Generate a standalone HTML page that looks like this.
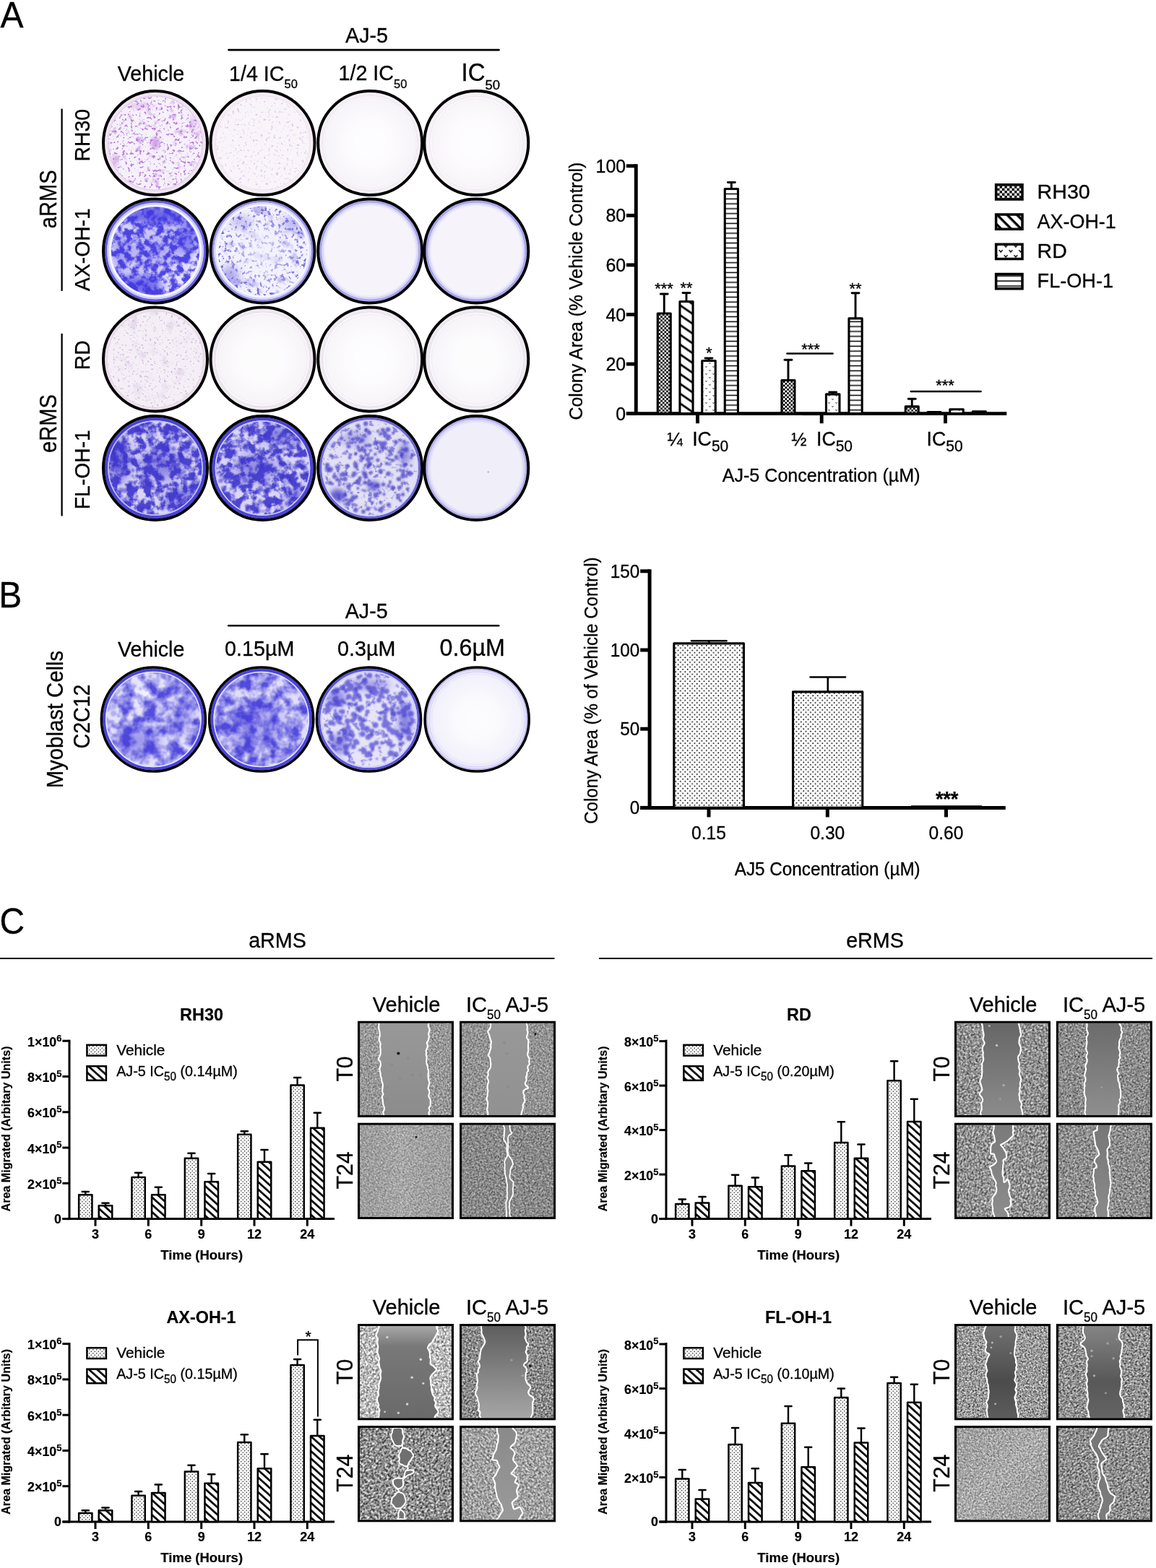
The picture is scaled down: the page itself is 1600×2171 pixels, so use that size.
<!DOCTYPE html>
<html lang="en">
<head>
<meta charset="utf-8">
<title>Figure: AJ-5 inhibits colony formation and migration of RMS cells</title>
<style>
html,body{margin:0;padding:0;background:#fff;}
body{width:1600px;height:2171px;overflow:hidden;}
svg{display:block;}
text{font-family:"Liberation Sans", Arial, Helvetica, sans-serif;fill:#000;}
</style>
</head>
<body>
<svg width="1600" height="2171" viewBox="0 0 1600 2171">
<defs>
<clipPath id="wc1"><circle cx="215.0" cy="198.0" r="70.30"/></clipPath>
<filter id="bl2_5" x="-0.5" y="-0.5" width="2" height="2"><feGaussianBlur stdDeviation="2.5"/></filter>
<filter id="wf1_0" x="0" y="0" width="1" height="1" color-interpolation-filters="sRGB"><feTurbulence type="fractalNoise" baseFrequency="0.26" numOctaves="2" seed="11" result="n"/><feColorMatrix in="n" type="matrix" values="0 0 0 0 0.698  0 0 0 0 0.400  0 0 0 0 0.839  9 0 0 0 -5.3"/><feComposite in2="SourceGraphic" operator="in"/></filter>
<filter id="wf1_1" x="0" y="0" width="1" height="1" color-interpolation-filters="sRGB"><feTurbulence type="fractalNoise" baseFrequency="0.09" numOctaves="3" seed="12" result="n"/><feColorMatrix in="n" type="matrix" values="0 0 0 0 0.733  0 0 0 0 0.498  0 0 0 0 0.863  5 0 0 0 -3.0"/><feComposite in2="SourceGraphic" operator="in"/></filter>
<clipPath id="wc2"><circle cx="363.5" cy="198.0" r="70.30"/></clipPath>
<filter id="wf2_0" x="0" y="0" width="1" height="1" color-interpolation-filters="sRGB"><feTurbulence type="fractalNoise" baseFrequency="0.28" numOctaves="2" seed="12" result="n"/><feColorMatrix in="n" type="matrix" values="0 0 0 0 0.784  0 0 0 0 0.635  0 0 0 0 0.863  8 0 0 0 -5.05"/><feComposite in2="SourceGraphic" operator="in"/></filter>
<clipPath id="wc3"><circle cx="512.2" cy="198.0" r="70.30"/></clipPath>
<filter id="bl12_0" x="-0.5" y="-0.5" width="2" height="2"><feGaussianBlur stdDeviation="12"/></filter>
<clipPath id="wc4"><circle cx="659.3" cy="198.0" r="70.30"/></clipPath>
<clipPath id="wc5"><circle cx="215.0" cy="347.5" r="70.30"/></clipPath>
<filter id="bl7_0" x="-0.5" y="-0.5" width="2" height="2"><feGaussianBlur stdDeviation="7"/></filter>
<filter id="bl9_0" x="-0.5" y="-0.5" width="2" height="2"><feGaussianBlur stdDeviation="9"/></filter>
<filter id="wf5_0" x="0" y="0" width="1" height="1" color-interpolation-filters="sRGB"><feTurbulence type="fractalNoise" baseFrequency="0.11" numOctaves="4" seed="21" result="n"/><feColorMatrix in="n" type="matrix" values="0 0 0 0 0.247  0 0 0 0 0.212  0 0 0 0 0.878  4.0 0 0 0 -1.5"/><feComposite in2="SourceGraphic" operator="in"/></filter>
<clipPath id="wc6"><circle cx="363.5" cy="347.5" r="70.30"/></clipPath>
<filter id="bl6_0" x="-0.5" y="-0.5" width="2" height="2"><feGaussianBlur stdDeviation="6"/></filter>
<filter id="wf6_0" x="0" y="0" width="1" height="1" color-interpolation-filters="sRGB"><feTurbulence type="fractalNoise" baseFrequency="0.2" numOctaves="3" seed="22" result="n"/><feColorMatrix in="n" type="matrix" values="0 0 0 0 0.349  0 0 0 0 0.314  0 0 0 0 0.855  7 0 0 0 -3.9"/><feComposite in2="SourceGraphic" operator="in"/></filter>
<radialGradient id="wgr6_0" gradientUnits="userSpaceOnUse" cx="363.5" cy="347.5" r="62"><stop offset="0" stop-color="#000" stop-opacity="0.3"/><stop offset="0.5" stop-color="#000" stop-opacity="0.55"/><stop offset="1" stop-color="#000" stop-opacity="1"/></radialGradient>
<filter id="wf6_1" x="0" y="0" width="1" height="1" color-interpolation-filters="sRGB"><feTurbulence type="fractalNoise" baseFrequency="0.06" numOctaves="3" seed="23" result="n"/><feColorMatrix in="n" type="matrix" values="0 0 0 0 0.353  0 0 0 0 0.322  0 0 0 0 0.863  4 0 0 0 -2.3"/><feComposite in2="SourceGraphic" operator="in"/></filter>
<radialGradient id="wgr6_1" gradientUnits="userSpaceOnUse" cx="363.5" cy="347.5" r="62"><stop offset="0" stop-color="#000" stop-opacity="0.2"/><stop offset="0.6" stop-color="#000" stop-opacity="0.6"/><stop offset="1" stop-color="#000" stop-opacity="1"/></radialGradient>
<clipPath id="wc7"><circle cx="512.2" cy="347.5" r="70.30"/></clipPath>
<filter id="bl2_0" x="-0.5" y="-0.5" width="2" height="2"><feGaussianBlur stdDeviation="2"/></filter>
<clipPath id="wc8"><circle cx="659.3" cy="347.5" r="70.30"/></clipPath>
<clipPath id="wc9"><circle cx="215.0" cy="497.5" r="70.30"/></clipPath>
<filter id="wf9_0" x="0" y="0" width="1" height="1" color-interpolation-filters="sRGB"><feTurbulence type="fractalNoise" baseFrequency="0.3" numOctaves="2" seed="31" result="n"/><feColorMatrix in="n" type="matrix" values="0 0 0 0 0.710  0 0 0 0 0.549  0 0 0 0 0.784  8 0 0 0 -4.95"/><feComposite in2="SourceGraphic" operator="in"/></filter>
<filter id="wf9_1" x="0" y="0" width="1" height="1" color-interpolation-filters="sRGB"><feTurbulence type="fractalNoise" baseFrequency="0.05" numOctaves="3" seed="32" result="n"/><feColorMatrix in="n" type="matrix" values="0 0 0 0 0.784  0 0 0 0 0.651  0 0 0 0 0.831  4 0 0 0 -2.3"/><feComposite in2="SourceGraphic" operator="in"/></filter>
<clipPath id="wc10"><circle cx="363.5" cy="497.5" r="70.30"/></clipPath>
<clipPath id="wc11"><circle cx="512.2" cy="497.5" r="70.30"/></clipPath>
<clipPath id="wc12"><circle cx="659.3" cy="497.5" r="70.30"/></clipPath>
<clipPath id="wc13"><circle cx="215.0" cy="648.0" r="70.30"/></clipPath>
<filter id="bl8_0" x="-0.5" y="-0.5" width="2" height="2"><feGaussianBlur stdDeviation="8"/></filter>
<filter id="wf13_0" x="0" y="0" width="1" height="1" color-interpolation-filters="sRGB"><feTurbulence type="fractalNoise" baseFrequency="0.085" numOctaves="4" seed="41" result="n"/><feColorMatrix in="n" type="matrix" values="0 0 0 0 0.235  0 0 0 0 0.204  0 0 0 0 0.800  4.5 0 0 0 -1.7"/><feComposite in2="SourceGraphic" operator="in"/></filter>
<filter id="bl0_8" x="-0.5" y="-0.5" width="2" height="2"><feGaussianBlur stdDeviation="0.8"/></filter>
<clipPath id="wc14"><circle cx="363.5" cy="648.0" r="70.30"/></clipPath>
<filter id="wf14_0" x="0" y="0" width="1" height="1" color-interpolation-filters="sRGB"><feTurbulence type="fractalNoise" baseFrequency="0.09" numOctaves="4" seed="42" result="n"/><feColorMatrix in="n" type="matrix" values="0 0 0 0 0.243  0 0 0 0 0.212  0 0 0 0 0.800  4.5 0 0 0 -1.75"/><feComposite in2="SourceGraphic" operator="in"/></filter>
<clipPath id="wc15"><circle cx="512.2" cy="648.0" r="70.30"/></clipPath>
<filter id="bl3_5" x="-0.5" y="-0.5" width="2" height="2"><feGaussianBlur stdDeviation="3.5"/></filter>
<filter id="bl3_0" x="-0.5" y="-0.5" width="2" height="2"><feGaussianBlur stdDeviation="3"/></filter>
<filter id="bl4_0" x="-0.5" y="-0.5" width="2" height="2"><feGaussianBlur stdDeviation="4"/></filter>
<filter id="bl5_0" x="-0.5" y="-0.5" width="2" height="2"><feGaussianBlur stdDeviation="5"/></filter>
<filter id="wf15_0" x="0" y="0" width="1" height="1" color-interpolation-filters="sRGB"><feTurbulence type="fractalNoise" baseFrequency="0.12" numOctaves="3" seed="43" result="n"/><feColorMatrix in="n" type="matrix" values="0 0 0 0 0.314  0 0 0 0 0.282  0 0 0 0 0.800  6 0 0 0 -3.45"/><feComposite in2="SourceGraphic" operator="in"/></filter>
<clipPath id="wc16"><circle cx="659.3" cy="648.0" r="70.30"/></clipPath>
<pattern id="pChk" width="5.3" height="5.3" patternUnits="userSpaceOnUse"><rect width="5.3" height="5.3" fill="#fff"/><rect x="0" y="0" width="2.65" height="2.65" fill="#000"/><rect x="2.65" y="2.65" width="2.65" height="2.65" fill="#000"/></pattern>
<pattern id="pDiag" width="20" height="11.2" patternUnits="userSpaceOnUse" patternTransform="rotate(34.5)"><rect width="20" height="11.2" fill="#fff"/><rect x="0" y="4.2" width="20" height="2.8" fill="#000"/></pattern>
<pattern id="pRD" width="10" height="10" patternUnits="userSpaceOnUse"><rect width="10" height="10" fill="#fff"/><path d="M1.4,2.2 l1.1,1.4 l1.1,-1.4 M6.4,7.2 l1.1,1.4 l1.1,-1.4" stroke="#111" stroke-width="0.9" fill="none"/></pattern>
<pattern id="pHor" width="6.8" height="6.8" patternUnits="userSpaceOnUse"><rect width="6.8" height="6.8" fill="#fff"/><rect x="0" y="2.6" width="6.8" height="1.5" fill="#000"/></pattern>
<pattern id="pChkL" width="6.8" height="6.8" patternUnits="userSpaceOnUse" patternTransform="translate(1380.2 257.3)"><rect width="6.8" height="6.8" fill="#fff"/><rect x="3.4" y="0" width="3.4" height="3.4" fill="#000"/><rect x="0" y="3.4" width="3.4" height="3.4" fill="#000"/></pattern>
<pattern id="pDiagL" width="20" height="9.7" patternUnits="userSpaceOnUse" patternTransform="translate(1381 296) rotate(45)"><rect width="20" height="9.7" fill="#fff"/><rect x="0" y="0" width="20" height="3.3" fill="#000"/></pattern>
<pattern id="pRDL" width="13.75" height="14" patternUnits="userSpaceOnUse" patternTransform="translate(1378 338)"><rect width="13.75" height="14" fill="#fff"/><path d="M5.2,8.5 l2,2.6 l2,-2.6 M12.1,1.5 l2,2.6 l2,-2.6 M-1.65,1.5 l2,2.6 l2,-2.6" stroke="#000" stroke-width="1.3" fill="none" stroke-linecap="round"/></pattern>
<pattern id="pHorL" width="7" height="7" patternUnits="userSpaceOnUse" patternTransform="translate(0 383.3)"><rect width="7" height="7" fill="#fff"/><rect x="0" y="5" width="7" height="1.6" fill="#000"/></pattern>
<pattern id="pDotB" width="6.55" height="6.6" patternUnits="userSpaceOnUse" patternTransform="translate(0.3 1.2)"><rect width="6.55" height="6.6" fill="#fff"/><circle cx="1.6" cy="1.6" r="0.95" fill="#000"/><circle cx="4.9" cy="4.9" r="0.95" fill="#000"/></pattern>
<pattern id="pDotC" width="5" height="5" patternUnits="userSpaceOnUse"><rect width="5" height="5" fill="#fff"/><circle cx="1.25" cy="1.25" r="0.8" fill="#222"/><circle cx="3.75" cy="3.75" r="0.8" fill="#222"/></pattern>
<pattern id="pDiagC" width="20" height="7.6" patternUnits="userSpaceOnUse" patternTransform="rotate(42)"><rect width="20" height="7.6" fill="#fff"/><rect x="0" y="3" width="20" height="2.7" fill="#000"/></pattern>
<clipPath id="wc17"><circle cx="212.4" cy="996.0" r="70.50"/></clipPath>
<filter id="wf17_0" x="0" y="0" width="1" height="1" color-interpolation-filters="sRGB"><feTurbulence type="fractalNoise" baseFrequency="0.06" numOctaves="3" seed="51" result="n"/><feColorMatrix in="n" type="matrix" values="0 0 0 0 0.251  0 0 0 0 0.220  0 0 0 0 0.847  2.7 0 0 0 -0.93"/><feComposite in2="SourceGraphic" operator="in"/></filter>
<filter id="bl1_3" x="-0.5" y="-0.5" width="2" height="2"><feGaussianBlur stdDeviation="1.3"/></filter>
<clipPath id="wc18"><circle cx="361.7" cy="996.0" r="70.50"/></clipPath>
<filter id="wf18_0" x="0" y="0" width="1" height="1" color-interpolation-filters="sRGB"><feTurbulence type="fractalNoise" baseFrequency="0.065" numOctaves="3" seed="52" result="n"/><feColorMatrix in="n" type="matrix" values="0 0 0 0 0.251  0 0 0 0 0.220  0 0 0 0 0.847  2.7 0 0 0 -0.87"/><feComposite in2="SourceGraphic" operator="in"/></filter>
<clipPath id="wc19"><circle cx="510.5" cy="996.0" r="70.50"/></clipPath>
<filter id="wf19_0" x="0" y="0" width="1" height="1" color-interpolation-filters="sRGB"><feTurbulence type="fractalNoise" baseFrequency="0.1" numOctaves="3" seed="53" result="n"/><feColorMatrix in="n" type="matrix" values="0 0 0 0 0.314  0 0 0 0 0.282  0 0 0 0 0.816  6 0 0 0 -3.35"/><feComposite in2="SourceGraphic" operator="in"/></filter>
<filter id="bl0_9" x="-0.5" y="-0.5" width="2" height="2"><feGaussianBlur stdDeviation="0.9"/></filter>
<clipPath id="wc20"><circle cx="660.2" cy="996.0" r="70.50"/></clipPath>
<filter id="mf1" x="0" y="0" width="1" height="1" color-interpolation-filters="sRGB"><feTurbulence type="fractalNoise" baseFrequency="0.432 0.522" numOctaves="3" seed="101"/><feColorMatrix type="matrix" values="0.85 0 0 0 0.170  0.85 0 0 0 0.170  0.85 0 0 0 0.170  0 0 0 0 1"/></filter>
<clipPath id="mc1"><rect x="498.0" y="1416.7" width="127.0" height="127.3"/></clipPath>
<linearGradient id="mg1" gradientUnits="userSpaceOnUse" x1="0" y1="1416.7" x2="0" y2="1544.0"><stop offset="0" stop-color="#989898"/><stop offset="1" stop-color="#8c8c8c"/></linearGradient>
<filter id="mf2" x="0" y="0" width="1" height="1" color-interpolation-filters="sRGB"><feTurbulence type="fractalNoise" baseFrequency="0.432 0.522" numOctaves="3" seed="102"/><feColorMatrix type="matrix" values="0.85 0 0 0 0.150  0.85 0 0 0 0.150  0.85 0 0 0 0.150  0 0 0 0 1"/></filter>
<clipPath id="mc2"><rect x="639.1" y="1416.7" width="127.0" height="127.3"/></clipPath>
<linearGradient id="mg2" gradientUnits="userSpaceOnUse" x1="0" y1="1416.7" x2="0" y2="1544.0"><stop offset="0" stop-color="#989898"/><stop offset="1" stop-color="#919191"/></linearGradient>
<filter id="mf3" x="0" y="0" width="1" height="1" color-interpolation-filters="sRGB"><feTurbulence type="fractalNoise" baseFrequency="0.432 0.522" numOctaves="3" seed="103"/><feColorMatrix type="matrix" values="0.684 0 0 0 0.293  0.684 0 0 0 0.293  0.684 0 0 0 0.293  0 0 0 0 1"/></filter>
<clipPath id="mc3"><rect x="498.0" y="1557.7" width="127.0" height="127.3"/></clipPath>
<linearGradient id="ms3" x1="0" y1="0" x2="1" y2="0"><stop offset="0" stop-color="#000" stop-opacity="0.03"/><stop offset="0.45" stop-color="#fff" stop-opacity="0.06"/><stop offset="1" stop-color="#000" stop-opacity="0.02"/></linearGradient>
<linearGradient id="mg3" gradientUnits="userSpaceOnUse" x1="0" y1="1557.7" x2="0" y2="1685.0"><stop offset="0" stop-color="#8e8e8e"/><stop offset="1" stop-color="#888888"/></linearGradient>
<filter id="mf4" x="0" y="0" width="1" height="1" color-interpolation-filters="sRGB"><feTurbulence type="fractalNoise" baseFrequency="0.396 0.478" numOctaves="3" seed="104"/><feColorMatrix type="matrix" values="0.885 0 0 0 0.093  0.885 0 0 0 0.093  0.885 0 0 0 0.093  0 0 0 0 1"/></filter>
<clipPath id="mc4"><rect x="639.1" y="1557.7" width="127.0" height="127.3"/></clipPath>
<linearGradient id="mg4" gradientUnits="userSpaceOnUse" x1="0" y1="1557.7" x2="0" y2="1685.0"><stop offset="0" stop-color="#8a8a8a"/><stop offset="1" stop-color="#8a8a8a"/></linearGradient>
<filter id="mf5" x="0" y="0" width="1" height="1" color-interpolation-filters="sRGB"><feTurbulence type="fractalNoise" baseFrequency="0.360 0.435" numOctaves="3" seed="105"/><feColorMatrix type="matrix" values="1.18 0 0 0 -0.025  1.18 0 0 0 -0.025  1.18 0 0 0 -0.025  0 0 0 0 1"/></filter>
<clipPath id="mc5"><rect x="1324.0" y="1416.7" width="127.0" height="127.3"/></clipPath>
<linearGradient id="mg5" gradientUnits="userSpaceOnUse" x1="0" y1="1416.7" x2="0" y2="1544.0"><stop offset="0" stop-color="#666666"/><stop offset="1" stop-color="#8b8b8b"/></linearGradient>
<filter id="mf6" x="0" y="0" width="1" height="1" color-interpolation-filters="sRGB"><feTurbulence type="fractalNoise" baseFrequency="0.396 0.478" numOctaves="3" seed="106"/><feColorMatrix type="matrix" values="1.086 0 0 0 0.002  1.086 0 0 0 0.002  1.086 0 0 0 0.002  0 0 0 0 1"/></filter>
<clipPath id="mc6"><rect x="1464.9" y="1416.7" width="127.0" height="127.3"/></clipPath>
<linearGradient id="mg6" gradientUnits="userSpaceOnUse" x1="0" y1="1416.7" x2="0" y2="1544.0"><stop offset="0" stop-color="#6c6c6c"/><stop offset="1" stop-color="#8e8e8e"/></linearGradient>
<filter id="mf7" x="0" y="0" width="1" height="1" color-interpolation-filters="sRGB"><feTurbulence type="fractalNoise" baseFrequency="0.336 0.406" numOctaves="3" seed="107"/><feColorMatrix type="matrix" values="1.239 0 0 0 -0.050  1.239 0 0 0 -0.050  1.239 0 0 0 -0.050  0 0 0 0 1"/></filter>
<clipPath id="mc7"><rect x="1324.0" y="1557.7" width="127.0" height="127.3"/></clipPath>
<linearGradient id="mg7" gradientUnits="userSpaceOnUse" x1="0" y1="1557.7" x2="0" y2="1685.0"><stop offset="0" stop-color="#7a7a7a"/><stop offset="1" stop-color="#8c8c8c"/></linearGradient>
<filter id="mf8" x="0" y="0" width="1" height="1" color-interpolation-filters="sRGB"><feTurbulence type="fractalNoise" baseFrequency="0.384 0.464" numOctaves="3" seed="108"/><feColorMatrix type="matrix" values="1.086 0 0 0 0.012  1.086 0 0 0 0.012  1.086 0 0 0 0.012  0 0 0 0 1"/></filter>
<clipPath id="mc8"><rect x="1464.9" y="1557.7" width="127.0" height="127.3"/></clipPath>
<linearGradient id="mg8" gradientUnits="userSpaceOnUse" x1="0" y1="1557.7" x2="0" y2="1685.0"><stop offset="0" stop-color="#777777"/><stop offset="1" stop-color="#8a8a8a"/></linearGradient>
<filter id="mf9" x="0" y="0" width="1" height="1" color-interpolation-filters="sRGB"><feTurbulence type="fractalNoise" baseFrequency="0.348 0.420" numOctaves="3" seed="109"/><feColorMatrix type="matrix" values="1.416 0 0 0 0.022  1.416 0 0 0 0.022  1.416 0 0 0 0.022  0 0 0 0 1"/></filter>
<clipPath id="mc9"><rect x="498.0" y="1836.0" width="127.0" height="127.3"/></clipPath>
<linearGradient id="mg9" gradientUnits="userSpaceOnUse" x1="0" y1="1836.0" x2="0" y2="1963.3"><stop offset="0" stop-color="#a8a8a8"/><stop offset="0.22" stop-color="#787878"/><stop offset="1" stop-color="#6a6a6a"/></linearGradient>
<filter id="mf10" x="0" y="0" width="1" height="1" color-interpolation-filters="sRGB"><feTurbulence type="fractalNoise" baseFrequency="0.384 0.464" numOctaves="3" seed="110"/><feColorMatrix type="matrix" values="1.298 0 0 0 -0.109  1.298 0 0 0 -0.109  1.298 0 0 0 -0.109  0 0 0 0 1"/></filter>
<clipPath id="mc10"><rect x="639.1" y="1836.0" width="127.0" height="127.3"/></clipPath>
<linearGradient id="mg10" gradientUnits="userSpaceOnUse" x1="0" y1="1836.0" x2="0" y2="1963.3"><stop offset="0" stop-color="#5e5e5e"/><stop offset="1" stop-color="#a6a6a6"/></linearGradient>
<filter id="mf11" x="0" y="0" width="1" height="1" color-interpolation-filters="sRGB"><feTurbulence type="fractalNoise" baseFrequency="0.312 0.377" numOctaves="3" seed="111"/><feColorMatrix type="matrix" values="1.534 0 0 0 -0.207  1.534 0 0 0 -0.207  1.534 0 0 0 -0.207  0 0 0 0 1"/></filter>
<clipPath id="mc11"><rect x="498.0" y="1977.0" width="127.0" height="127.3"/></clipPath>
<linearGradient id="mg11" gradientUnits="userSpaceOnUse" x1="0" y1="1977.0" x2="0" y2="2104.3"><stop offset="0" stop-color="#6c6c6c"/><stop offset="1" stop-color="#767676"/></linearGradient>
<filter id="mf12" x="0" y="0" width="1" height="1" color-interpolation-filters="sRGB"><feTurbulence type="fractalNoise" baseFrequency="0.348 0.420" numOctaves="3" seed="112"/><feColorMatrix type="matrix" values="1.086 0 0 0 0.087  1.086 0 0 0 0.087  1.086 0 0 0 0.087  0 0 0 0 1"/></filter>
<clipPath id="mc12"><rect x="639.1" y="1977.0" width="127.0" height="127.3"/></clipPath>
<linearGradient id="mg12" gradientUnits="userSpaceOnUse" x1="0" y1="1977.0" x2="0" y2="2104.3"><stop offset="0" stop-color="#8a8a8a"/><stop offset="1" stop-color="#9a9a9a"/></linearGradient>
<filter id="mf13" x="0" y="0" width="1" height="1" color-interpolation-filters="sRGB"><feTurbulence type="fractalNoise" baseFrequency="0.456 0.551" numOctaves="3" seed="113"/><feColorMatrix type="matrix" values="1.534 0 0 0 -0.167  1.534 0 0 0 -0.167  1.534 0 0 0 -0.167  0 0 0 0 1"/></filter>
<clipPath id="mc13"><rect x="1324.0" y="1836.0" width="127.0" height="127.3"/></clipPath>
<linearGradient id="mg13" gradientUnits="userSpaceOnUse" x1="0" y1="1836.0" x2="0" y2="1963.3"><stop offset="0" stop-color="#707070"/><stop offset="0.6" stop-color="#4c4c4c"/><stop offset="1" stop-color="#5c5c5c"/></linearGradient>
<filter id="mf14" x="0" y="0" width="1" height="1" color-interpolation-filters="sRGB"><feTurbulence type="fractalNoise" baseFrequency="0.384 0.464" numOctaves="3" seed="114"/><feColorMatrix type="matrix" values="1.416 0 0 0 -0.143  1.416 0 0 0 -0.143  1.416 0 0 0 -0.143  0 0 0 0 1"/></filter>
<clipPath id="mc14"><rect x="1464.9" y="1836.0" width="127.0" height="127.3"/></clipPath>
<linearGradient id="mg14" gradientUnits="userSpaceOnUse" x1="0" y1="1836.0" x2="0" y2="1963.3"><stop offset="0" stop-color="#848484"/><stop offset="0.6" stop-color="#585858"/><stop offset="1" stop-color="#646464"/></linearGradient>
<filter id="mf15" x="0" y="0" width="1" height="1" color-interpolation-filters="sRGB"><feTurbulence type="fractalNoise" baseFrequency="0.432 0.522" numOctaves="3" seed="115"/><feColorMatrix type="matrix" values="1.003 0 0 0 0.149  1.003 0 0 0 0.149  1.003 0 0 0 0.149  0 0 0 0 1"/></filter>
<clipPath id="mc15"><rect x="1324.0" y="1977.0" width="127.0" height="127.3"/></clipPath>
<linearGradient id="ms15" x1="0" y1="0" x2="1" y2="1"><stop offset="0" stop-color="#000" stop-opacity="0.04"/><stop offset="0.5" stop-color="#fff" stop-opacity="0.06"/><stop offset="1" stop-color="#000" stop-opacity="0.03"/></linearGradient>
<linearGradient id="mg15" gradientUnits="userSpaceOnUse" x1="0" y1="1977.0" x2="0" y2="2104.3"><stop offset="0" stop-color="#8e8e8e"/><stop offset="1" stop-color="#888888"/></linearGradient>
<filter id="mf16" x="0" y="0" width="1" height="1" color-interpolation-filters="sRGB"><feTurbulence type="fractalNoise" baseFrequency="0.360 0.435" numOctaves="3" seed="116"/><feColorMatrix type="matrix" values="1.298 0 0 0 -0.094  1.298 0 0 0 -0.094  1.298 0 0 0 -0.094  0 0 0 0 1"/></filter>
<clipPath id="mc16"><rect x="1464.9" y="1977.0" width="127.0" height="127.3"/></clipPath>
<linearGradient id="mg16" gradientUnits="userSpaceOnUse" x1="0" y1="1977.0" x2="0" y2="2104.3"><stop offset="0" stop-color="#767676"/><stop offset="1" stop-color="#7c7c7c"/></linearGradient>
</defs>
<text font-size="48" transform="translate(0.5 37.5) scale(1 1.04)" stroke="#000" stroke-width="0.3">A</text>
<text font-size="28.7" text-anchor="middle" transform="translate(507.5 58.8) scale(1 1.04)" stroke="#000" stroke-width="0.3">AJ-5</text>
<line x1="316.4" y1="69.1" x2="690.6" y2="69.1" stroke="#000" stroke-width="2.6" stroke-linecap="round"/>
<text font-size="28.7" text-anchor="middle" transform="translate(209 111.6) scale(1 1.04)" stroke="#000" stroke-width="0.3">Vehicle</text>
<text font-size="28.7" transform="translate(317 111.6) scale(1 1.04)" stroke="#000" stroke-width="0.3">1/4 IC<tspan font-size="16.5" dy="10">50</tspan></text>
<text font-size="28.7" transform="translate(468.5 111.2) scale(1 1.04)" stroke="#000" stroke-width="0.3">1/2 IC<tspan font-size="16.5" dy="10">50</tspan></text>
<text font-size="33" transform="translate(638.5 112.2) scale(1 1.04)" stroke="#000" stroke-width="0.3">IC<tspan font-size="18.5" dy="11">50</tspan></text>
<text font-size="29.1" text-anchor="middle" transform="translate(78.2 275.8) rotate(-90) scale(1 1.11)" stroke="#000" stroke-width="0.3">aRMS</text>
<text font-size="29.1" text-anchor="middle" transform="translate(78.2 586.5) rotate(-90) scale(1 1.11)" stroke="#000" stroke-width="0.3">eRMS</text>
<line x1="85.6" y1="150.6" x2="85.6" y2="402.9" stroke="#000" stroke-width="2.3"/>
<line x1="85.6" y1="461.8" x2="85.6" y2="714.4" stroke="#000" stroke-width="2.3"/>
<text font-size="28.3" text-anchor="middle" transform="translate(124 187.3) rotate(-90) scale(1 1.07)" stroke="#000" stroke-width="0.3">RH30</text>
<text font-size="28.3" text-anchor="middle" transform="translate(124 345.6) rotate(-90) scale(1 1.07)" stroke="#000" stroke-width="0.3">AX-OH-1</text>
<text font-size="28.3" text-anchor="middle" transform="translate(124 491.8) rotate(-90) scale(1 1.07)" stroke="#000" stroke-width="0.3">RD</text>
<text font-size="28.3" text-anchor="middle" transform="translate(124 650.2) rotate(-90) scale(1 1.07)" stroke="#000" stroke-width="0.3">FL-OH-1</text>
<g clip-path="url(#wc1)">
<circle cx="215.0" cy="198.0" r="70.30" fill="#f5f1fa"/>
<ellipse cx="215.0" cy="198.0" rx="6" ry="9" fill="#b86fd8" opacity="0.6" filter="url(#bl2_5)"/>
<ellipse cx="159.0" cy="223.0" rx="4" ry="10" fill="#b86fd8" opacity="0.4" filter="url(#bl2_5)"/>
<ellipse cx="267.0" cy="173.0" rx="4" ry="14" fill="#b86fd8" opacity="0.3" filter="url(#bl2_5)"/>
<ellipse cx="195.0" cy="146.0" rx="14" ry="4" fill="#b86fd8" opacity="0.3" filter="url(#bl2_5)"/>
<circle cx="215.0" cy="198.0" r="65.00" fill="#000" opacity="0.8" filter="url(#wf1_0)"/>
<circle cx="215.0" cy="198.0" r="65.00" fill="#000" opacity="0.5" filter="url(#wf1_1)"/>
<circle cx="215.0" cy="198.0" r="68.05" fill="none" stroke="#efe3f1" stroke-width="4.5" opacity="1"/>
<circle cx="215.0" cy="198.0" r="65.20" fill="none" stroke="#dcbfe4" stroke-width="1.2" opacity="0.8"/>
</g>
<circle cx="215.0" cy="198.0" r="72.00" fill="none" stroke="#000" stroke-width="4.0"/>
<g clip-path="url(#wc2)">
<circle cx="363.5" cy="198.0" r="70.30" fill="#f8f4f9"/>
<circle cx="363.5" cy="198.0" r="65.00" fill="#000" opacity="0.5" filter="url(#wf2_0)"/>
<circle cx="363.5" cy="198.0" r="68.05" fill="none" stroke="#f5ecf4" stroke-width="4.5" opacity="1"/>
<circle cx="363.5" cy="198.0" r="65.30" fill="none" stroke="#ead8ea" stroke-width="1" opacity="0.8"/>
</g>
<circle cx="363.5" cy="198.0" r="72.00" fill="none" stroke="#000" stroke-width="4.0"/>
<g clip-path="url(#wc3)">
<circle cx="512.2" cy="198.0" r="70.30" fill="#f8f5fa"/>
<ellipse cx="512.2" cy="198.0" rx="44" ry="44" fill="#ffffff" opacity="0.7" filter="url(#bl12_0)"/>
<circle cx="512.2" cy="198.0" r="68.30" fill="none" stroke="#f6f0f6" stroke-width="4" opacity="1"/>
<circle cx="512.2" cy="198.0" r="65.80" fill="none" stroke="#eadfec" stroke-width="1" opacity="0.9"/>
<circle cx="512.2" cy="198.0" r="62.80" fill="none" stroke="#f1eaf3" stroke-width="1" opacity="0.8"/>
</g>
<circle cx="512.2" cy="198.0" r="72.00" fill="none" stroke="#000" stroke-width="4.0"/>
<g clip-path="url(#wc4)">
<circle cx="659.3" cy="198.0" r="70.30" fill="#f9f6fa"/>
<ellipse cx="659.3" cy="198.0" rx="44" ry="44" fill="#ffffff" opacity="0.7" filter="url(#bl12_0)"/>
<circle cx="659.3" cy="198.0" r="67.80" fill="none" stroke="#f7f2f7" stroke-width="5" opacity="1"/>
<circle cx="659.3" cy="198.0" r="64.80" fill="none" stroke="#ede3ee" stroke-width="1" opacity="0.9"/>
<circle cx="659.3" cy="198.0" r="60.80" fill="none" stroke="#f2ecf4" stroke-width="1" opacity="0.8"/>
</g>
<circle cx="659.3" cy="198.0" r="72.00" fill="none" stroke="#000" stroke-width="4.0"/>
<g clip-path="url(#wc5)">
<circle cx="215.0" cy="347.5" r="70.30" fill="#e6e3fd"/>
<ellipse cx="215.0" cy="297.5" rx="45" ry="14" fill="#4038e0" opacity="0.75" filter="url(#bl7_0)"/>
<ellipse cx="190.0" cy="395.5" rx="35" ry="14" fill="#4038e0" opacity="0.75" filter="url(#bl7_0)"/>
<ellipse cx="260.0" cy="327.5" rx="14" ry="25" fill="#4038e0" opacity="0.6" filter="url(#bl7_0)"/>
<ellipse cx="167.0" cy="347.5" rx="10" ry="30" fill="#4840e0" opacity="0.45" filter="url(#bl7_0)"/>
<ellipse cx="215.0" cy="347.5" rx="40" ry="25" fill="#4840e0" opacity="0.3" filter="url(#bl9_0)"/>
<circle cx="215.0" cy="347.5" r="61.00" fill="#000" opacity="0.9" filter="url(#wf5_0)"/>
<circle cx="215.0" cy="347.5" r="68.55" fill="none" stroke="#625ce4" stroke-width="3.5" opacity="1"/>
<circle cx="215.0" cy="347.5" r="65.55" fill="none" stroke="#cfccfa" stroke-width="2.5" opacity="1"/>
<circle cx="215.0" cy="347.5" r="62.80" fill="none" stroke="#f5f4ff" stroke-width="3" opacity="1"/>
</g>
<circle cx="215.0" cy="347.5" r="72.00" fill="none" stroke="#000" stroke-width="4.0"/>
<g clip-path="url(#wc6)">
<circle cx="363.5" cy="347.5" r="70.30" fill="#f3f1fc"/>
<ellipse cx="318.5" cy="385.5" rx="12" ry="18" fill="#5a52dc" opacity="0.45" filter="url(#bl6_0)"/>
<ellipse cx="405.5" cy="309.5" rx="16" ry="10" fill="#5a52dc" opacity="0.35" filter="url(#bl6_0)"/>
<ellipse cx="333.5" cy="307.5" rx="16" ry="8" fill="#5a52dc" opacity="0.3" filter="url(#bl6_0)"/>
<circle cx="363.5" cy="347.5" r="62.00" fill="url(#wgr6_0)" opacity="0.85" filter="url(#wf6_0)"/>
<circle cx="363.5" cy="347.5" r="62.00" fill="url(#wgr6_1)" opacity="0.5" filter="url(#wf6_1)"/>
<circle cx="363.5" cy="347.5" r="68.80" fill="none" stroke="#8f8ae8" stroke-width="3" opacity="1"/>
<circle cx="363.5" cy="347.5" r="66.05" fill="none" stroke="#d9d6f8" stroke-width="2.5" opacity="1"/>
<circle cx="363.5" cy="347.5" r="63.55" fill="none" stroke="#f6f5ff" stroke-width="2.5" opacity="1"/>
</g>
<circle cx="363.5" cy="347.5" r="72.00" fill="none" stroke="#000" stroke-width="4.0"/>
<g clip-path="url(#wc7)">
<circle cx="512.2" cy="347.5" r="70.30" fill="#f6f4fa"/>
<ellipse cx="512.2" cy="416.5" rx="50" ry="4" fill="#8e89e6" opacity="0.7" filter="url(#bl2_0)"/>
<ellipse cx="512.2" cy="278.5" rx="40" ry="3" fill="#9a96ea" opacity="0.6" filter="url(#bl2_0)"/>
<circle cx="512.2" cy="347.5" r="68.55" fill="none" stroke="#a9a5ec" stroke-width="3.5" opacity="1"/>
<circle cx="512.2" cy="347.5" r="65.55" fill="none" stroke="#d9d6f7" stroke-width="2.5" opacity="1"/>
<circle cx="512.2" cy="347.5" r="63.30" fill="none" stroke="#ecebfb" stroke-width="2" opacity="1"/>
</g>
<circle cx="512.2" cy="347.5" r="72.00" fill="none" stroke="#000" stroke-width="4.0"/>
<g clip-path="url(#wc8)">
<circle cx="659.3" cy="347.5" r="70.30" fill="#f6f4fa"/>
<ellipse cx="659.3" cy="416.5" rx="50" ry="4" fill="#8e89e6" opacity="0.7" filter="url(#bl2_0)"/>
<ellipse cx="659.3" cy="278.5" rx="40" ry="3" fill="#9a96ea" opacity="0.6" filter="url(#bl2_0)"/>
<circle cx="659.3" cy="347.5" r="68.55" fill="none" stroke="#a9a5ec" stroke-width="3.5" opacity="1"/>
<circle cx="659.3" cy="347.5" r="65.55" fill="none" stroke="#d9d6f7" stroke-width="2.5" opacity="1"/>
<circle cx="659.3" cy="347.5" r="63.30" fill="none" stroke="#ecebfb" stroke-width="2" opacity="1"/>
</g>
<circle cx="659.3" cy="347.5" r="72.00" fill="none" stroke="#000" stroke-width="4.0"/>
<g clip-path="url(#wc9)">
<circle cx="215.0" cy="497.5" r="70.30" fill="#f4eff6"/>
<circle cx="215.0" cy="497.5" r="67.00" fill="#000" opacity="0.5" filter="url(#wf9_0)"/>
<circle cx="215.0" cy="497.5" r="67.00" fill="#000" opacity="0.3" filter="url(#wf9_1)"/>
<circle cx="215.0" cy="497.5" r="68.80" fill="none" stroke="#eadfea" stroke-width="3" opacity="1"/>
<circle cx="215.0" cy="497.5" r="66.80" fill="none" stroke="#dccbdf" stroke-width="1" opacity="0.8"/>
</g>
<circle cx="215.0" cy="497.5" r="72.00" fill="none" stroke="#000" stroke-width="4.0"/>
<g clip-path="url(#wc10)">
<circle cx="363.5" cy="497.5" r="70.30" fill="#f8f5f9"/>
<ellipse cx="363.5" cy="497.5" rx="44" ry="44" fill="#ffffff" opacity="0.7" filter="url(#bl12_0)"/>
<circle cx="363.5" cy="497.5" r="68.30" fill="none" stroke="#efe7f0" stroke-width="4" opacity="1"/>
<circle cx="363.5" cy="497.5" r="65.80" fill="none" stroke="#dfd5e3" stroke-width="1" opacity="0.9"/>
<circle cx="363.5" cy="497.5" r="61.80" fill="none" stroke="#ede7f0" stroke-width="1" opacity="0.8"/>
</g>
<circle cx="363.5" cy="497.5" r="72.00" fill="none" stroke="#000" stroke-width="4.0"/>
<g clip-path="url(#wc11)">
<circle cx="512.2" cy="497.5" r="70.30" fill="#f9f6fa"/>
<ellipse cx="512.2" cy="497.5" rx="44" ry="44" fill="#ffffff" opacity="0.7" filter="url(#bl12_0)"/>
<circle cx="512.2" cy="497.5" r="68.30" fill="none" stroke="#f0eaf2" stroke-width="4" opacity="1"/>
<circle cx="512.2" cy="497.5" r="65.80" fill="none" stroke="#e0d8e6" stroke-width="1" opacity="0.9"/>
<circle cx="512.2" cy="497.5" r="61.80" fill="none" stroke="#eee8f2" stroke-width="1" opacity="0.8"/>
</g>
<circle cx="512.2" cy="497.5" r="72.00" fill="none" stroke="#000" stroke-width="4.0"/>
<g clip-path="url(#wc12)">
<circle cx="659.3" cy="497.5" r="70.30" fill="#f7f5f9"/>
<ellipse cx="659.3" cy="497.5" rx="44" ry="44" fill="#ffffff" opacity="0.7" filter="url(#bl12_0)"/>
<circle cx="659.3" cy="497.5" r="68.30" fill="none" stroke="#efe9f0" stroke-width="4" opacity="1"/>
<circle cx="659.3" cy="497.5" r="65.80" fill="none" stroke="#dfd8e4" stroke-width="1" opacity="0.9"/>
<circle cx="659.3" cy="497.5" r="61.80" fill="none" stroke="#ede8f0" stroke-width="1" opacity="0.8"/>
</g>
<circle cx="659.3" cy="497.5" r="72.00" fill="none" stroke="#000" stroke-width="4.0"/>
<g clip-path="url(#wc13)">
<circle cx="215.0" cy="648.0" r="70.30" fill="#d9d6f6"/>
<ellipse cx="165.0" cy="638.0" rx="14" ry="30" fill="#3d35cc" opacity="0.6" filter="url(#bl7_0)"/>
<ellipse cx="225.0" cy="643.0" rx="30" ry="20" fill="#3d35cc" opacity="0.5" filter="url(#bl8_0)"/>
<ellipse cx="250.0" cy="688.0" rx="22" ry="14" fill="#3d35cc" opacity="0.5" filter="url(#bl7_0)"/>
<circle cx="215.0" cy="648.0" r="65.00" fill="#000" opacity="0.9" filter="url(#wf13_0)"/>
<g fill="#3a32c8" opacity="0.55" filter="url(#bl0_8)"><circle cx="193.2" cy="668.2" r="1.3"/><circle cx="255.4" cy="623.7" r="2.4"/><circle cx="178.7" cy="635.4" r="2.6"/><circle cx="166.4" cy="622.7" r="2.3"/><circle cx="236.9" cy="613.2" r="1.3"/><circle cx="246.0" cy="690.6" r="1.3"/><circle cx="187.5" cy="607.7" r="1.2"/><circle cx="217.4" cy="637.0" r="3.2"/><circle cx="230.6" cy="623.8" r="2.6"/><circle cx="212.6" cy="626.2" r="2.4"/><circle cx="257.2" cy="689.6" r="2.4"/><circle cx="229.2" cy="646.2" r="1.5"/><circle cx="179.7" cy="614.9" r="1.3"/><circle cx="258.4" cy="611.0" r="1.4"/><circle cx="245.8" cy="688.2" r="1.6"/><circle cx="192.4" cy="610.8" r="1.6"/><circle cx="237.6" cy="651.1" r="1.7"/><circle cx="209.5" cy="607.9" r="2.6"/><circle cx="158.6" cy="633.6" r="2.3"/><circle cx="204.9" cy="668.8" r="1.2"/><circle cx="270.8" cy="662.2" r="3.2"/><circle cx="215.2" cy="627.5" r="2.3"/><circle cx="255.6" cy="690.0" r="2.3"/><circle cx="214.9" cy="599.6" r="1.7"/><circle cx="250.2" cy="598.5" r="1.4"/><circle cx="166.0" cy="668.4" r="2.4"/><circle cx="179.8" cy="670.2" r="3.6"/><circle cx="210.4" cy="676.1" r="2.4"/><circle cx="205.1" cy="705.9" r="1.5"/><circle cx="249.0" cy="630.6" r="3.2"/><circle cx="215.4" cy="595.0" r="1.3"/><circle cx="220.6" cy="657.4" r="1.3"/><circle cx="207.1" cy="634.4" r="1.3"/><circle cx="192.7" cy="638.0" r="1.5"/><circle cx="221.9" cy="698.5" r="1.2"/><circle cx="263.0" cy="647.3" r="2.5"/><circle cx="173.6" cy="633.8" r="3.6"/><circle cx="259.1" cy="613.2" r="1.2"/><circle cx="164.1" cy="615.9" r="2.3"/><circle cx="165.2" cy="643.9" r="1.3"/><circle cx="207.3" cy="593.7" r="1.2"/><circle cx="167.3" cy="645.1" r="1.5"/><circle cx="190.2" cy="593.9" r="3.3"/><circle cx="206.4" cy="670.6" r="3.1"/><circle cx="171.9" cy="611.5" r="3.2"/><circle cx="206.3" cy="694.7" r="1.4"/><circle cx="230.2" cy="598.7" r="1.3"/><circle cx="167.2" cy="648.0" r="1.3"/><circle cx="232.6" cy="686.9" r="1.2"/><circle cx="154.9" cy="649.8" r="3.0"/><circle cx="268.1" cy="666.9" r="2.5"/><circle cx="212.4" cy="638.2" r="2.7"/><circle cx="233.7" cy="700.3" r="1.5"/><circle cx="197.8" cy="667.1" r="3.2"/><circle cx="225.2" cy="705.0" r="1.9"/><circle cx="244.9" cy="688.3" r="1.9"/><circle cx="270.5" cy="657.5" r="1.4"/><circle cx="268.7" cy="656.1" r="2.6"/><circle cx="194.8" cy="665.6" r="1.9"/><circle cx="170.9" cy="621.4" r="1.8"/><circle cx="167.1" cy="626.2" r="1.3"/><circle cx="233.2" cy="687.1" r="2.7"/><circle cx="233.7" cy="593.8" r="1.7"/><circle cx="210.4" cy="628.3" r="1.6"/><circle cx="266.7" cy="671.1" r="3.8"/><circle cx="189.0" cy="600.9" r="1.6"/><circle cx="220.0" cy="630.6" r="1.6"/><circle cx="180.9" cy="694.4" r="1.3"/><circle cx="225.0" cy="663.6" r="3.0"/><circle cx="191.5" cy="702.0" r="1.5"/><circle cx="229.2" cy="624.6" r="3.3"/><circle cx="272.3" cy="638.4" r="2.4"/><circle cx="262.2" cy="612.1" r="3.6"/><circle cx="205.9" cy="704.4" r="2.8"/><circle cx="200.6" cy="669.0" r="3.3"/><circle cx="170.5" cy="655.8" r="3.2"/><circle cx="184.0" cy="651.2" r="2.4"/><circle cx="183.3" cy="641.5" r="2.4"/><circle cx="240.3" cy="630.6" r="2.9"/><circle cx="216.0" cy="603.2" r="1.3"/><circle cx="198.2" cy="619.7" r="1.4"/><circle cx="234.5" cy="622.3" r="1.2"/><circle cx="249.9" cy="597.0" r="1.4"/><circle cx="177.2" cy="673.7" r="2.7"/><circle cx="264.8" cy="651.8" r="1.3"/><circle cx="251.0" cy="630.8" r="3.5"/><circle cx="167.3" cy="663.5" r="1.2"/><circle cx="224.9" cy="680.3" r="1.6"/><circle cx="233.7" cy="683.6" r="1.2"/><circle cx="159.4" cy="623.4" r="3.1"/><circle cx="170.7" cy="605.4" r="2.6"/><circle cx="187.1" cy="616.7" r="1.2"/><circle cx="261.0" cy="611.5" r="2.9"/><circle cx="194.1" cy="596.2" r="3.6"/><circle cx="268.6" cy="638.5" r="1.2"/><circle cx="259.2" cy="632.8" r="1.7"/><circle cx="185.7" cy="661.5" r="1.2"/><circle cx="179.1" cy="615.0" r="1.2"/><circle cx="267.1" cy="620.5" r="3.1"/><circle cx="177.6" cy="639.0" r="1.8"/><circle cx="173.3" cy="692.0" r="3.4"/><circle cx="250.9" cy="621.4" r="1.9"/><circle cx="202.2" cy="617.2" r="1.3"/><circle cx="247.0" cy="645.0" r="1.4"/><circle cx="196.6" cy="648.9" r="1.9"/><circle cx="245.2" cy="695.7" r="1.2"/><circle cx="225.3" cy="617.6" r="2.8"/><circle cx="234.0" cy="590.4" r="1.3"/><circle cx="238.7" cy="645.7" r="1.5"/><circle cx="258.5" cy="650.0" r="1.2"/><circle cx="158.7" cy="627.5" r="2.8"/><circle cx="203.8" cy="633.1" r="3.7"/><circle cx="175.1" cy="693.4" r="1.3"/><circle cx="196.7" cy="705.5" r="2.7"/><circle cx="231.3" cy="686.6" r="2.0"/><circle cx="214.7" cy="677.0" r="1.2"/><circle cx="175.1" cy="645.6" r="1.5"/><circle cx="178.8" cy="652.7" r="1.6"/><circle cx="217.1" cy="624.2" r="1.2"/><circle cx="183.5" cy="658.9" r="1.8"/><circle cx="253.4" cy="601.5" r="2.9"/><circle cx="241.1" cy="633.8" r="1.5"/><circle cx="240.5" cy="669.5" r="1.4"/><circle cx="217.3" cy="683.7" r="3.5"/><circle cx="156.5" cy="642.4" r="1.9"/><circle cx="214.6" cy="597.3" r="2.1"/><circle cx="257.5" cy="626.1" r="1.9"/><circle cx="217.5" cy="667.3" r="1.7"/><circle cx="196.4" cy="660.5" r="3.6"/><circle cx="255.9" cy="652.6" r="1.4"/><circle cx="167.4" cy="678.9" r="3.6"/><circle cx="173.0" cy="679.1" r="3.3"/><circle cx="205.2" cy="685.8" r="1.7"/><circle cx="232.7" cy="618.8" r="3.3"/><circle cx="235.2" cy="695.0" r="2.2"/><circle cx="249.7" cy="655.5" r="3.0"/><circle cx="202.9" cy="656.6" r="1.8"/><circle cx="173.9" cy="637.2" r="1.7"/><circle cx="262.0" cy="628.8" r="1.7"/><circle cx="163.6" cy="665.8" r="1.3"/><circle cx="161.3" cy="654.1" r="1.2"/><circle cx="223.4" cy="659.2" r="2.4"/><circle cx="230.6" cy="600.0" r="2.2"/><circle cx="251.7" cy="655.4" r="1.8"/><circle cx="198.9" cy="674.5" r="1.6"/><circle cx="217.3" cy="664.2" r="2.0"/><circle cx="255.3" cy="654.2" r="1.6"/><circle cx="234.3" cy="599.6" r="1.7"/><circle cx="267.3" cy="650.0" r="2.6"/><circle cx="175.0" cy="601.0" r="1.8"/><circle cx="179.0" cy="675.6" r="1.2"/><circle cx="199.2" cy="631.9" r="2.4"/><circle cx="175.9" cy="614.8" r="1.3"/><circle cx="200.9" cy="589.5" r="3.7"/><circle cx="217.4" cy="623.5" r="2.8"/><circle cx="242.1" cy="703.1" r="1.2"/><circle cx="254.1" cy="652.1" r="1.2"/><circle cx="272.1" cy="630.4" r="1.4"/><circle cx="240.0" cy="621.2" r="2.9"/><circle cx="257.6" cy="690.4" r="1.7"/></g>
<circle cx="215.0" cy="648.0" r="68.05" fill="none" stroke="#4a43d8" stroke-width="4.5" opacity="1"/>
<circle cx="215.0" cy="648.0" r="65.05" fill="none" stroke="#c4c1f6" stroke-width="1.5" opacity="1"/>
</g>
<circle cx="215.0" cy="648.0" r="72.00" fill="none" stroke="#000" stroke-width="4.0"/>
<g clip-path="url(#wc14)">
<circle cx="363.5" cy="648.0" r="70.30" fill="#d9d6f6"/>
<ellipse cx="393.5" cy="603.0" rx="30" ry="12" fill="#3d35cc" opacity="0.55" filter="url(#bl7_0)"/>
<ellipse cx="353.5" cy="648.0" rx="30" ry="18" fill="#3d35cc" opacity="0.45" filter="url(#bl8_0)"/>
<ellipse cx="411.5" cy="688.0" rx="14" ry="14" fill="#3d35cc" opacity="0.5" filter="url(#bl7_0)"/>
<circle cx="363.5" cy="648.0" r="65.00" fill="#000" opacity="0.9" filter="url(#wf14_0)"/>
<g fill="#3a32c8" opacity="0.55" filter="url(#bl0_8)"><circle cx="357.2" cy="640.5" r="1.4"/><circle cx="372.4" cy="700.5" r="2.4"/><circle cx="377.7" cy="636.5" r="1.7"/><circle cx="392.0" cy="653.4" r="1.9"/><circle cx="390.8" cy="652.6" r="2.3"/><circle cx="335.5" cy="639.9" r="2.1"/><circle cx="365.3" cy="643.3" r="2.9"/><circle cx="351.9" cy="613.7" r="1.3"/><circle cx="398.2" cy="638.4" r="1.2"/><circle cx="410.4" cy="680.6" r="2.1"/><circle cx="382.1" cy="598.4" r="1.9"/><circle cx="401.1" cy="641.6" r="2.0"/><circle cx="386.8" cy="605.2" r="3.1"/><circle cx="317.5" cy="623.7" r="1.2"/><circle cx="368.1" cy="681.0" r="1.2"/><circle cx="365.6" cy="667.6" r="1.4"/><circle cx="338.9" cy="619.8" r="1.6"/><circle cx="371.6" cy="679.0" r="3.5"/><circle cx="334.6" cy="609.2" r="1.3"/><circle cx="360.2" cy="623.2" r="1.6"/><circle cx="413.0" cy="644.7" r="2.0"/><circle cx="340.8" cy="595.8" r="2.8"/><circle cx="365.0" cy="659.0" r="1.5"/><circle cx="360.3" cy="676.3" r="3.5"/><circle cx="388.3" cy="623.6" r="2.3"/><circle cx="316.5" cy="684.2" r="1.7"/><circle cx="360.6" cy="678.7" r="2.0"/><circle cx="359.7" cy="695.3" r="3.3"/><circle cx="340.1" cy="665.2" r="3.8"/><circle cx="344.8" cy="646.9" r="1.2"/><circle cx="401.4" cy="679.2" r="2.8"/><circle cx="349.7" cy="655.3" r="1.6"/><circle cx="408.6" cy="646.9" r="3.7"/><circle cx="367.8" cy="642.9" r="2.6"/><circle cx="344.6" cy="606.7" r="1.4"/><circle cx="350.4" cy="632.0" r="1.7"/><circle cx="305.5" cy="665.4" r="3.2"/><circle cx="359.8" cy="691.7" r="1.3"/><circle cx="412.8" cy="617.8" r="1.4"/><circle cx="332.4" cy="610.9" r="1.3"/><circle cx="367.1" cy="602.6" r="2.8"/><circle cx="362.0" cy="647.7" r="1.5"/><circle cx="422.8" cy="655.3" r="3.2"/><circle cx="380.4" cy="618.0" r="1.2"/><circle cx="407.0" cy="606.2" r="1.2"/><circle cx="347.3" cy="649.4" r="2.7"/><circle cx="365.7" cy="625.9" r="1.8"/><circle cx="333.1" cy="638.2" r="3.2"/><circle cx="338.2" cy="661.3" r="2.0"/><circle cx="360.0" cy="620.4" r="1.5"/><circle cx="413.5" cy="646.5" r="1.7"/><circle cx="342.1" cy="645.6" r="1.3"/><circle cx="338.5" cy="688.5" r="1.3"/><circle cx="366.6" cy="664.2" r="2.2"/><circle cx="371.3" cy="706.5" r="3.1"/><circle cx="390.8" cy="661.0" r="2.4"/><circle cx="368.5" cy="670.0" r="3.5"/><circle cx="325.1" cy="629.6" r="2.8"/><circle cx="373.1" cy="622.7" r="1.2"/><circle cx="326.9" cy="664.9" r="1.8"/><circle cx="356.8" cy="597.6" r="3.7"/><circle cx="395.6" cy="670.8" r="1.5"/><circle cx="383.5" cy="624.4" r="1.3"/><circle cx="325.3" cy="660.8" r="1.4"/><circle cx="363.6" cy="707.6" r="1.7"/><circle cx="393.1" cy="612.8" r="1.2"/><circle cx="420.2" cy="647.7" r="3.6"/><circle cx="414.6" cy="622.5" r="1.3"/><circle cx="335.0" cy="650.6" r="1.6"/><circle cx="399.1" cy="661.7" r="3.7"/><circle cx="358.3" cy="702.6" r="1.7"/><circle cx="309.8" cy="676.2" r="3.8"/><circle cx="314.1" cy="630.0" r="1.3"/><circle cx="345.8" cy="706.4" r="2.1"/><circle cx="311.8" cy="633.9" r="1.2"/><circle cx="325.5" cy="625.8" r="3.1"/><circle cx="396.9" cy="698.8" r="1.2"/><circle cx="382.3" cy="692.0" r="2.4"/><circle cx="365.5" cy="669.4" r="3.3"/><circle cx="364.6" cy="695.8" r="2.2"/><circle cx="322.1" cy="671.0" r="1.9"/><circle cx="389.2" cy="636.8" r="2.5"/><circle cx="366.3" cy="686.9" r="2.4"/><circle cx="352.7" cy="681.2" r="2.7"/><circle cx="401.2" cy="666.5" r="3.8"/><circle cx="380.3" cy="647.6" r="1.3"/><circle cx="357.8" cy="707.6" r="3.2"/><circle cx="390.9" cy="622.1" r="1.3"/><circle cx="389.6" cy="603.0" r="2.2"/><circle cx="413.5" cy="644.0" r="1.2"/><circle cx="377.4" cy="617.0" r="2.3"/><circle cx="384.6" cy="639.5" r="1.2"/><circle cx="399.6" cy="676.7" r="1.4"/><circle cx="322.0" cy="615.9" r="1.3"/><circle cx="342.3" cy="624.2" r="1.8"/><circle cx="410.7" cy="616.0" r="1.2"/><circle cx="334.6" cy="663.1" r="1.2"/><circle cx="370.0" cy="598.9" r="1.4"/><circle cx="361.0" cy="602.0" r="1.7"/><circle cx="380.5" cy="649.0" r="3.2"/><circle cx="401.2" cy="622.0" r="3.0"/><circle cx="342.8" cy="636.2" r="1.2"/><circle cx="342.5" cy="702.9" r="2.8"/><circle cx="401.2" cy="602.9" r="1.3"/><circle cx="363.6" cy="667.9" r="2.8"/><circle cx="393.0" cy="621.7" r="2.2"/><circle cx="397.2" cy="697.4" r="3.1"/><circle cx="418.7" cy="639.7" r="3.2"/><circle cx="416.1" cy="656.3" r="1.5"/><circle cx="413.9" cy="624.6" r="3.1"/><circle cx="375.4" cy="618.3" r="2.8"/><circle cx="408.6" cy="684.4" r="3.1"/><circle cx="373.2" cy="703.2" r="1.8"/><circle cx="344.7" cy="700.0" r="1.3"/><circle cx="390.4" cy="652.0" r="1.5"/><circle cx="403.6" cy="602.1" r="1.4"/><circle cx="338.8" cy="617.6" r="3.7"/><circle cx="305.0" cy="634.4" r="1.2"/><circle cx="389.2" cy="643.2" r="3.6"/><circle cx="361.5" cy="668.3" r="1.7"/><circle cx="358.8" cy="613.6" r="2.2"/><circle cx="325.1" cy="645.2" r="2.1"/><circle cx="362.0" cy="700.2" r="1.2"/><circle cx="404.1" cy="627.5" r="2.5"/><circle cx="360.9" cy="597.3" r="1.5"/><circle cx="409.2" cy="669.5" r="1.5"/><circle cx="341.2" cy="700.6" r="2.5"/><circle cx="352.8" cy="680.8" r="1.6"/><circle cx="335.9" cy="667.4" r="1.2"/><circle cx="310.7" cy="676.8" r="2.4"/><circle cx="403.4" cy="620.1" r="1.4"/><circle cx="362.3" cy="647.6" r="1.4"/><circle cx="320.8" cy="668.1" r="2.3"/><circle cx="323.3" cy="657.0" r="1.3"/><circle cx="305.5" cy="657.9" r="2.8"/><circle cx="372.2" cy="663.8" r="1.9"/><circle cx="339.4" cy="621.4" r="2.9"/><circle cx="363.9" cy="597.1" r="1.3"/><circle cx="366.5" cy="657.2" r="1.4"/><circle cx="307.0" cy="656.9" r="1.2"/><circle cx="321.2" cy="673.2" r="1.3"/><circle cx="349.1" cy="606.9" r="1.4"/><circle cx="360.9" cy="644.2" r="2.7"/><circle cx="366.0" cy="627.9" r="1.7"/><circle cx="390.7" cy="702.2" r="1.9"/><circle cx="392.9" cy="657.6" r="3.1"/><circle cx="310.1" cy="663.0" r="2.4"/><circle cx="411.2" cy="644.4" r="3.5"/><circle cx="401.2" cy="617.4" r="2.5"/><circle cx="307.0" cy="646.3" r="2.0"/><circle cx="406.2" cy="615.8" r="1.8"/><circle cx="361.7" cy="678.8" r="2.3"/><circle cx="367.9" cy="603.5" r="2.2"/><circle cx="360.8" cy="665.1" r="1.4"/><circle cx="358.7" cy="682.7" r="2.0"/><circle cx="382.7" cy="670.8" r="2.5"/><circle cx="359.3" cy="632.9" r="1.6"/><circle cx="324.9" cy="637.4" r="1.3"/><circle cx="311.8" cy="676.4" r="2.1"/><circle cx="344.2" cy="593.9" r="2.7"/></g>
<circle cx="363.5" cy="648.0" r="68.05" fill="none" stroke="#4a43d8" stroke-width="4.5" opacity="1"/>
<circle cx="363.5" cy="648.0" r="65.05" fill="none" stroke="#cfccf8" stroke-width="1.5" opacity="1"/>
</g>
<circle cx="363.5" cy="648.0" r="72.00" fill="none" stroke="#000" stroke-width="4.0"/>
<g clip-path="url(#wc15)">
<circle cx="512.2" cy="648.0" r="70.30" fill="#e2e0f4"/>
<ellipse cx="467.20000000000005" cy="686.0" rx="11" ry="9" fill="#4038c8" opacity="0.8" filter="url(#bl3_5)"/>
<ellipse cx="517.2" cy="673.0" rx="8" ry="7" fill="#4038c8" opacity="0.75" filter="url(#bl3_0)"/>
<ellipse cx="560.2" cy="628.0" rx="8" ry="16" fill="#4840cc" opacity="0.5" filter="url(#bl4_0)"/>
<ellipse cx="492.20000000000005" cy="608.0" rx="20" ry="10" fill="#4840cc" opacity="0.3" filter="url(#bl5_0)"/>
<circle cx="512.2" cy="648.0" r="66.00" fill="#000" opacity="0.6" filter="url(#wf15_0)"/>
<g fill="#453dc8" opacity="0.75" filter="url(#bl0_8)"><circle cx="562.4" cy="660.4" r="1.3"/><circle cx="462.8" cy="659.9" r="3.0"/><circle cx="470.3" cy="660.7" r="1.0"/><circle cx="477.7" cy="663.6" r="3.1"/><circle cx="460.6" cy="632.3" r="2.0"/><circle cx="537.8" cy="699.1" r="3.0"/><circle cx="498.6" cy="661.5" r="2.2"/><circle cx="457.7" cy="649.4" r="2.4"/><circle cx="465.2" cy="646.0" r="1.8"/><circle cx="526.8" cy="652.6" r="3.4"/><circle cx="530.1" cy="619.4" r="3.3"/><circle cx="492.5" cy="645.2" r="3.2"/><circle cx="460.5" cy="617.7" r="2.6"/><circle cx="552.8" cy="675.3" r="3.0"/><circle cx="540.9" cy="626.8" r="2.2"/><circle cx="504.5" cy="623.9" r="3.1"/><circle cx="514.9" cy="634.4" r="2.4"/><circle cx="494.1" cy="667.7" r="2.4"/><circle cx="557.4" cy="639.1" r="1.2"/><circle cx="457.5" cy="649.7" r="3.5"/><circle cx="509.5" cy="635.7" r="3.5"/><circle cx="497.8" cy="637.3" r="1.2"/><circle cx="555.5" cy="674.1" r="1.3"/><circle cx="519.4" cy="628.9" r="2.2"/><circle cx="500.9" cy="652.2" r="1.0"/><circle cx="562.6" cy="613.1" r="1.2"/><circle cx="506.2" cy="586.6" r="3.3"/><circle cx="539.2" cy="624.2" r="2.7"/><circle cx="452.2" cy="648.7" r="2.7"/><circle cx="544.1" cy="600.3" r="1.8"/><circle cx="507.8" cy="629.6" r="1.4"/><circle cx="548.5" cy="632.7" r="2.7"/><circle cx="484.1" cy="633.5" r="2.4"/><circle cx="542.4" cy="629.5" r="1.7"/><circle cx="522.5" cy="672.0" r="3.1"/><circle cx="495.7" cy="589.4" r="2.6"/><circle cx="540.4" cy="640.5" r="1.3"/><circle cx="520.2" cy="685.6" r="3.6"/><circle cx="518.8" cy="689.5" r="1.1"/><circle cx="557.3" cy="655.8" r="2.4"/><circle cx="453.0" cy="644.0" r="3.2"/><circle cx="557.2" cy="633.7" r="1.5"/><circle cx="549.3" cy="687.5" r="1.3"/><circle cx="564.0" cy="650.0" r="1.2"/><circle cx="492.2" cy="628.7" r="1.9"/><circle cx="550.1" cy="651.5" r="1.7"/><circle cx="510.6" cy="670.6" r="2.3"/><circle cx="502.4" cy="622.1" r="1.1"/><circle cx="506.3" cy="699.5" r="1.5"/><circle cx="502.1" cy="634.6" r="2.7"/><circle cx="530.6" cy="670.8" r="2.8"/><circle cx="463.2" cy="655.7" r="1.6"/><circle cx="495.6" cy="618.5" r="2.1"/><circle cx="456.6" cy="668.4" r="2.8"/><circle cx="457.8" cy="630.9" r="2.4"/><circle cx="504.9" cy="604.0" r="2.3"/><circle cx="525.7" cy="706.3" r="2.5"/><circle cx="532.6" cy="604.3" r="1.0"/><circle cx="557.5" cy="684.6" r="2.7"/><circle cx="560.5" cy="614.9" r="1.4"/><circle cx="560.4" cy="643.5" r="2.8"/><circle cx="481.0" cy="644.7" r="2.1"/><circle cx="479.4" cy="656.0" r="1.7"/><circle cx="482.2" cy="659.3" r="1.2"/><circle cx="524.6" cy="613.0" r="1.8"/><circle cx="523.0" cy="597.3" r="2.0"/><circle cx="492.0" cy="699.5" r="1.5"/><circle cx="475.3" cy="656.7" r="3.6"/><circle cx="515.2" cy="695.7" r="2.2"/><circle cx="537.4" cy="655.9" r="3.2"/><circle cx="519.1" cy="620.2" r="1.3"/><circle cx="556.2" cy="630.0" r="2.7"/><circle cx="538.6" cy="630.5" r="2.1"/><circle cx="535.1" cy="634.2" r="1.5"/><circle cx="554.1" cy="609.5" r="2.2"/><circle cx="550.0" cy="690.2" r="1.6"/><circle cx="513.7" cy="616.7" r="1.3"/><circle cx="498.6" cy="611.6" r="1.8"/><circle cx="473.2" cy="663.6" r="2.1"/><circle cx="500.1" cy="631.8" r="2.6"/><circle cx="456.3" cy="652.7" r="1.6"/><circle cx="498.2" cy="623.6" r="2.7"/><circle cx="492.9" cy="606.5" r="2.1"/><circle cx="547.5" cy="636.6" r="1.1"/><circle cx="505.9" cy="659.2" r="3.3"/><circle cx="525.8" cy="625.0" r="2.5"/><circle cx="528.2" cy="703.1" r="1.9"/><circle cx="558.2" cy="665.9" r="1.1"/><circle cx="559.2" cy="611.2" r="2.4"/><circle cx="514.1" cy="702.5" r="1.1"/><circle cx="538.4" cy="669.9" r="1.1"/><circle cx="547.7" cy="611.9" r="3.0"/><circle cx="496.0" cy="623.5" r="1.6"/><circle cx="469.3" cy="613.4" r="2.5"/><circle cx="488.2" cy="698.0" r="1.9"/><circle cx="472.5" cy="606.9" r="2.6"/><circle cx="466.1" cy="660.0" r="1.4"/><circle cx="460.0" cy="669.9" r="2.1"/><circle cx="567.8" cy="653.9" r="1.3"/><circle cx="558.4" cy="657.6" r="2.9"/><circle cx="543.6" cy="674.8" r="2.0"/><circle cx="547.4" cy="682.3" r="1.5"/><circle cx="496.4" cy="607.0" r="2.2"/><circle cx="518.6" cy="701.8" r="1.0"/><circle cx="504.5" cy="666.3" r="1.1"/><circle cx="556.9" cy="651.1" r="1.1"/><circle cx="542.9" cy="674.8" r="2.6"/><circle cx="527.0" cy="696.0" r="2.3"/><circle cx="561.8" cy="622.5" r="3.6"/><circle cx="475.8" cy="693.6" r="1.7"/><circle cx="503.9" cy="687.6" r="1.0"/><circle cx="509.1" cy="629.8" r="2.4"/><circle cx="550.0" cy="662.7" r="1.5"/><circle cx="544.1" cy="636.6" r="1.8"/><circle cx="504.5" cy="668.5" r="2.5"/><circle cx="501.7" cy="678.5" r="1.6"/><circle cx="478.9" cy="692.1" r="1.4"/><circle cx="537.6" cy="673.0" r="2.3"/><circle cx="508.0" cy="668.1" r="1.8"/><circle cx="569.1" cy="633.7" r="2.0"/><circle cx="488.6" cy="658.6" r="2.6"/><circle cx="506.6" cy="617.0" r="2.5"/><circle cx="540.1" cy="668.8" r="1.6"/><circle cx="526.3" cy="601.3" r="2.2"/><circle cx="469.6" cy="665.6" r="2.1"/><circle cx="509.5" cy="704.4" r="3.0"/><circle cx="482.4" cy="673.7" r="3.4"/><circle cx="566.0" cy="655.0" r="1.3"/><circle cx="525.7" cy="682.1" r="2.5"/><circle cx="493.2" cy="688.4" r="2.2"/><circle cx="553.6" cy="625.3" r="1.5"/><circle cx="481.2" cy="613.7" r="1.6"/><circle cx="511.3" cy="642.2" r="3.6"/><circle cx="522.9" cy="637.1" r="2.7"/><circle cx="554.3" cy="693.1" r="2.0"/><circle cx="511.4" cy="616.7" r="2.6"/><circle cx="566.7" cy="658.0" r="1.5"/><circle cx="531.5" cy="684.4" r="2.1"/><circle cx="536.5" cy="655.2" r="1.8"/><circle cx="462.3" cy="633.8" r="1.2"/><circle cx="528.5" cy="614.6" r="3.6"/><circle cx="483.6" cy="678.0" r="1.8"/><circle cx="564.4" cy="677.0" r="2.4"/><circle cx="513.2" cy="623.7" r="2.1"/><circle cx="505.1" cy="679.5" r="1.9"/><circle cx="482.7" cy="618.2" r="2.7"/><circle cx="559.7" cy="644.6" r="3.0"/><circle cx="570.5" cy="629.8" r="1.7"/><circle cx="539.3" cy="603.9" r="1.0"/><circle cx="537.1" cy="594.8" r="3.3"/><circle cx="484.7" cy="693.1" r="3.1"/><circle cx="465.7" cy="664.9" r="1.8"/><circle cx="551.7" cy="626.6" r="1.5"/><circle cx="469.4" cy="668.7" r="1.8"/><circle cx="488.9" cy="691.3" r="1.7"/><circle cx="494.3" cy="649.4" r="1.7"/><circle cx="544.7" cy="676.2" r="1.7"/><circle cx="504.5" cy="655.5" r="3.6"/><circle cx="513.7" cy="654.1" r="2.4"/><circle cx="557.7" cy="659.3" r="3.3"/><circle cx="552.1" cy="663.3" r="3.1"/><circle cx="513.9" cy="670.4" r="1.1"/><circle cx="494.1" cy="596.9" r="1.9"/><circle cx="476.6" cy="698.1" r="1.5"/><circle cx="529.4" cy="595.0" r="2.0"/><circle cx="519.8" cy="613.4" r="3.3"/><circle cx="510.9" cy="599.1" r="3.1"/><circle cx="485.9" cy="596.7" r="1.7"/><circle cx="469.6" cy="690.6" r="2.0"/><circle cx="491.1" cy="699.6" r="1.7"/><circle cx="471.5" cy="671.0" r="1.1"/><circle cx="538.5" cy="607.3" r="1.1"/><circle cx="540.1" cy="666.7" r="1.9"/><circle cx="529.8" cy="595.4" r="2.8"/><circle cx="506.8" cy="604.0" r="1.1"/><circle cx="480.6" cy="691.2" r="1.0"/><circle cx="512.6" cy="656.0" r="1.7"/><circle cx="492.8" cy="686.3" r="1.3"/><circle cx="491.8" cy="641.9" r="3.0"/><circle cx="532.5" cy="613.7" r="3.2"/><circle cx="488.4" cy="608.2" r="2.5"/><circle cx="490.5" cy="655.9" r="3.3"/><circle cx="520.6" cy="705.3" r="1.8"/><circle cx="465.9" cy="632.8" r="1.8"/><circle cx="569.2" cy="644.8" r="1.8"/><circle cx="481.6" cy="697.7" r="3.4"/><circle cx="498.0" cy="665.3" r="2.2"/><circle cx="472.1" cy="657.6" r="2.4"/><circle cx="558.6" cy="652.1" r="2.6"/><circle cx="509.7" cy="647.2" r="2.3"/><circle cx="556.7" cy="622.6" r="2.2"/><circle cx="491.6" cy="668.2" r="2.0"/><circle cx="535.4" cy="641.8" r="2.5"/><circle cx="493.7" cy="645.2" r="1.5"/><circle cx="511.2" cy="666.5" r="1.2"/><circle cx="528.4" cy="617.6" r="2.6"/><circle cx="467.8" cy="651.3" r="2.0"/><circle cx="528.5" cy="651.4" r="1.2"/><circle cx="532.5" cy="600.3" r="3.5"/><circle cx="501.5" cy="620.5" r="2.4"/><circle cx="495.3" cy="620.0" r="1.9"/><circle cx="520.2" cy="621.0" r="1.0"/><circle cx="540.6" cy="625.6" r="2.4"/><circle cx="539.2" cy="643.3" r="1.5"/><circle cx="495.4" cy="676.1" r="2.1"/><circle cx="567.4" cy="655.5" r="3.6"/><circle cx="521.2" cy="686.0" r="1.8"/><circle cx="501.0" cy="609.6" r="3.2"/><circle cx="542.3" cy="637.8" r="1.2"/><circle cx="500.1" cy="638.4" r="1.9"/><circle cx="531.1" cy="701.1" r="1.9"/><circle cx="536.2" cy="606.8" r="2.8"/><circle cx="484.5" cy="600.5" r="2.8"/><circle cx="525.3" cy="611.6" r="1.3"/><circle cx="518.4" cy="703.7" r="1.2"/><circle cx="513.3" cy="634.5" r="1.0"/><circle cx="506.9" cy="595.4" r="2.9"/><circle cx="477.3" cy="685.5" r="2.8"/><circle cx="514.9" cy="669.5" r="1.1"/><circle cx="493.7" cy="699.4" r="1.4"/><circle cx="537.5" cy="604.8" r="3.5"/><circle cx="502.9" cy="708.4" r="2.9"/><circle cx="543.2" cy="657.4" r="1.2"/><circle cx="488.9" cy="689.3" r="3.5"/><circle cx="534.1" cy="620.9" r="2.4"/><circle cx="503.7" cy="647.9" r="1.6"/><circle cx="468.0" cy="647.2" r="2.7"/><circle cx="492.3" cy="706.1" r="3.3"/><circle cx="505.5" cy="669.6" r="1.4"/><circle cx="486.5" cy="682.4" r="2.0"/></g>
<g fill="#5a52cc" opacity="0.5"><circle cx="471.0" cy="615.3" r="0.5"/><circle cx="540.4" cy="677.8" r="0.8"/><circle cx="510.8" cy="594.3" r="0.6"/><circle cx="490.8" cy="622.0" r="0.8"/><circle cx="540.4" cy="603.0" r="0.5"/><circle cx="504.7" cy="601.6" r="1.3"/><circle cx="513.8" cy="648.6" r="0.6"/><circle cx="548.3" cy="643.0" r="0.8"/><circle cx="521.9" cy="691.1" r="1.1"/><circle cx="505.0" cy="664.1" r="0.9"/><circle cx="522.0" cy="652.8" r="0.5"/><circle cx="497.8" cy="668.6" r="1.4"/><circle cx="490.7" cy="598.3" r="1.0"/><circle cx="508.3" cy="656.5" r="0.5"/><circle cx="535.7" cy="677.3" r="0.8"/><circle cx="512.6" cy="588.2" r="1.2"/><circle cx="470.1" cy="616.7" r="1.4"/><circle cx="557.9" cy="630.1" r="1.0"/><circle cx="542.5" cy="598.9" r="0.8"/><circle cx="457.0" cy="622.3" r="0.6"/><circle cx="479.0" cy="700.2" r="0.8"/><circle cx="480.8" cy="626.3" r="0.5"/><circle cx="463.3" cy="622.0" r="0.7"/><circle cx="525.0" cy="660.5" r="0.5"/><circle cx="543.6" cy="610.6" r="1.1"/><circle cx="516.8" cy="638.9" r="0.8"/><circle cx="529.9" cy="676.2" r="0.5"/><circle cx="477.1" cy="644.0" r="0.5"/><circle cx="531.3" cy="594.3" r="0.8"/><circle cx="546.4" cy="618.2" r="0.5"/><circle cx="528.4" cy="605.2" r="0.6"/><circle cx="559.1" cy="679.9" r="0.6"/><circle cx="541.4" cy="643.5" r="0.6"/><circle cx="476.9" cy="610.0" r="1.4"/><circle cx="506.1" cy="667.5" r="1.2"/><circle cx="499.8" cy="664.4" r="0.6"/><circle cx="505.8" cy="657.5" r="1.5"/><circle cx="537.6" cy="609.1" r="0.7"/><circle cx="556.9" cy="657.7" r="0.6"/><circle cx="521.0" cy="625.1" r="0.6"/><circle cx="514.5" cy="586.4" r="0.8"/><circle cx="488.3" cy="693.5" r="1.4"/><circle cx="539.3" cy="653.1" r="0.5"/><circle cx="461.5" cy="622.3" r="0.6"/><circle cx="515.5" cy="641.1" r="0.5"/><circle cx="524.7" cy="703.4" r="0.9"/><circle cx="560.3" cy="667.5" r="1.3"/><circle cx="471.7" cy="662.8" r="1.3"/><circle cx="523.9" cy="678.6" r="1.2"/><circle cx="510.8" cy="702.1" r="0.5"/><circle cx="524.0" cy="687.4" r="0.8"/><circle cx="508.1" cy="665.2" r="0.5"/><circle cx="530.4" cy="619.3" r="0.6"/><circle cx="517.3" cy="596.9" r="0.7"/><circle cx="512.0" cy="690.0" r="1.2"/><circle cx="487.3" cy="627.7" r="0.6"/><circle cx="504.5" cy="589.6" r="0.6"/><circle cx="485.0" cy="660.9" r="0.8"/><circle cx="459.6" cy="635.0" r="1.3"/><circle cx="544.6" cy="597.9" r="0.8"/><circle cx="557.3" cy="680.1" r="0.5"/><circle cx="552.1" cy="679.0" r="1.0"/><circle cx="522.3" cy="617.9" r="1.0"/><circle cx="504.2" cy="650.7" r="1.0"/><circle cx="492.1" cy="616.1" r="0.7"/><circle cx="549.1" cy="689.7" r="0.6"/><circle cx="524.0" cy="701.8" r="0.6"/><circle cx="479.7" cy="617.2" r="0.7"/><circle cx="479.8" cy="619.6" r="0.5"/><circle cx="466.8" cy="647.2" r="0.5"/><circle cx="573.4" cy="649.0" r="0.6"/><circle cx="526.9" cy="660.6" r="0.7"/><circle cx="552.7" cy="608.8" r="0.7"/><circle cx="510.7" cy="596.9" r="1.0"/><circle cx="541.1" cy="624.3" r="0.7"/><circle cx="507.1" cy="594.7" r="1.2"/><circle cx="556.8" cy="672.7" r="1.1"/><circle cx="478.3" cy="614.1" r="0.6"/><circle cx="493.9" cy="671.3" r="0.5"/><circle cx="527.2" cy="654.8" r="1.5"/><circle cx="453.7" cy="636.0" r="0.7"/><circle cx="486.1" cy="601.8" r="0.5"/><circle cx="497.4" cy="636.6" r="0.5"/><circle cx="506.7" cy="706.0" r="1.1"/><circle cx="533.2" cy="673.6" r="0.6"/><circle cx="517.8" cy="683.3" r="0.6"/><circle cx="523.6" cy="588.4" r="0.5"/><circle cx="500.6" cy="622.9" r="1.4"/><circle cx="541.4" cy="606.7" r="1.1"/><circle cx="505.5" cy="660.3" r="0.9"/><circle cx="570.8" cy="655.5" r="1.5"/><circle cx="521.0" cy="621.8" r="0.5"/><circle cx="498.4" cy="590.6" r="1.0"/><circle cx="477.9" cy="651.7" r="0.9"/><circle cx="497.8" cy="667.7" r="0.7"/><circle cx="464.5" cy="629.5" r="1.0"/><circle cx="494.3" cy="686.8" r="1.1"/><circle cx="558.6" cy="623.3" r="0.8"/><circle cx="553.7" cy="653.2" r="0.7"/><circle cx="468.8" cy="633.6" r="0.7"/><circle cx="472.5" cy="669.6" r="0.6"/><circle cx="521.7" cy="612.7" r="1.3"/><circle cx="562.2" cy="631.0" r="0.5"/><circle cx="535.3" cy="595.5" r="0.5"/><circle cx="507.6" cy="594.2" r="0.6"/><circle cx="511.1" cy="654.5" r="1.3"/><circle cx="477.2" cy="689.3" r="0.5"/><circle cx="516.0" cy="615.2" r="0.8"/><circle cx="510.9" cy="686.6" r="0.9"/><circle cx="529.6" cy="677.6" r="0.7"/><circle cx="482.5" cy="672.8" r="0.6"/><circle cx="550.7" cy="685.2" r="0.7"/><circle cx="522.6" cy="621.8" r="1.5"/><circle cx="520.4" cy="652.7" r="1.4"/><circle cx="489.1" cy="685.6" r="0.7"/><circle cx="524.8" cy="706.7" r="1.4"/><circle cx="465.9" cy="649.5" r="0.7"/><circle cx="513.4" cy="599.7" r="0.7"/><circle cx="561.9" cy="677.3" r="0.9"/><circle cx="491.2" cy="697.0" r="0.8"/><circle cx="532.5" cy="659.4" r="0.5"/><circle cx="497.2" cy="620.2" r="1.1"/><circle cx="553.9" cy="631.4" r="0.6"/><circle cx="503.9" cy="685.2" r="0.8"/><circle cx="498.4" cy="673.1" r="0.7"/><circle cx="529.2" cy="694.5" r="0.8"/><circle cx="557.2" cy="671.1" r="1.0"/><circle cx="532.0" cy="692.8" r="1.0"/><circle cx="500.2" cy="700.5" r="0.5"/><circle cx="522.1" cy="681.6" r="0.6"/><circle cx="536.3" cy="618.6" r="0.8"/><circle cx="532.0" cy="698.2" r="0.8"/><circle cx="465.1" cy="647.1" r="0.7"/><circle cx="491.0" cy="638.6" r="1.0"/><circle cx="541.0" cy="659.5" r="0.7"/><circle cx="539.1" cy="666.4" r="0.7"/><circle cx="497.9" cy="612.5" r="1.2"/><circle cx="466.5" cy="619.8" r="0.8"/><circle cx="478.5" cy="691.7" r="1.3"/><circle cx="517.6" cy="660.3" r="1.4"/><circle cx="465.2" cy="649.3" r="0.7"/><circle cx="471.9" cy="667.9" r="0.9"/><circle cx="483.3" cy="606.4" r="1.3"/><circle cx="455.4" cy="636.4" r="0.5"/><circle cx="523.1" cy="657.1" r="0.8"/><circle cx="493.5" cy="665.0" r="1.5"/><circle cx="501.8" cy="599.3" r="0.5"/><circle cx="531.5" cy="650.3" r="1.1"/><circle cx="524.2" cy="674.8" r="1.0"/><circle cx="478.3" cy="661.4" r="1.0"/></g>
<circle cx="512.2" cy="648.0" r="68.55" fill="none" stroke="#6b65dc" stroke-width="3.5" opacity="1"/>
<circle cx="512.2" cy="648.0" r="66.05" fill="none" stroke="#d4d2f4" stroke-width="1.5" opacity="1"/>
</g>
<circle cx="512.2" cy="648.0" r="72.00" fill="none" stroke="#000" stroke-width="4.0"/>
<g clip-path="url(#wc16)">
<circle cx="659.3" cy="648.0" r="70.30" fill="#f0eef9"/>
<g fill="#7a72d8" opacity="0.8"><circle cx="675.7" cy="653.4" r="1.0"/></g>
<circle cx="659.3" cy="648.0" r="68.80" fill="none" stroke="#b3afee" stroke-width="3" opacity="1"/>
<circle cx="659.3" cy="648.0" r="66.05" fill="none" stroke="#d8d5f5" stroke-width="2.5" opacity="1"/>
<circle cx="659.3" cy="648.0" r="63.80" fill="none" stroke="#e6e4f8" stroke-width="2" opacity="1"/>
</g>
<circle cx="659.3" cy="648.0" r="72.00" fill="none" stroke="#000" stroke-width="4.0"/>
<line x1="880.3" y1="227.3" x2="880.3" y2="575.0" stroke="#000" stroke-width="4.9"/>
<line x1="866.9" y1="572.6" x2="1393.3" y2="572.6" stroke="#000" stroke-width="4.9"/>
<line x1="866.9" y1="572.6" x2="880.3" y2="572.6" stroke="#000" stroke-width="4.9"/>
<text font-size="25" text-anchor="end" transform="translate(866.2 581.7) scale(1 1.04)" stroke="#000" stroke-width="0.3">0</text>
<line x1="866.9" y1="504.03000000000003" x2="880.3" y2="504.03000000000003" stroke="#000" stroke-width="4.9"/>
<text font-size="25" text-anchor="end" transform="translate(866.2 513.13) scale(1 1.04)" stroke="#000" stroke-width="0.3">20</text>
<line x1="866.9" y1="435.46000000000004" x2="880.3" y2="435.46000000000004" stroke="#000" stroke-width="4.9"/>
<text font-size="25" text-anchor="end" transform="translate(866.2 444.56000000000006) scale(1 1.04)" stroke="#000" stroke-width="0.3">40</text>
<line x1="866.9" y1="366.89" x2="880.3" y2="366.89" stroke="#000" stroke-width="4.9"/>
<text font-size="25" text-anchor="end" transform="translate(866.2 375.99) scale(1 1.04)" stroke="#000" stroke-width="0.3">60</text>
<line x1="866.9" y1="298.32000000000005" x2="880.3" y2="298.32000000000005" stroke="#000" stroke-width="4.9"/>
<text font-size="25" text-anchor="end" transform="translate(866.2 307.4200000000001) scale(1 1.04)" stroke="#000" stroke-width="0.3">80</text>
<line x1="866.9" y1="229.75" x2="880.3" y2="229.75" stroke="#000" stroke-width="4.9"/>
<text font-size="25" text-anchor="end" transform="translate(866.2 238.85) scale(1 1.04)" stroke="#000" stroke-width="0.3">100</text>
<line x1="965.5" y1="572.6" x2="965.5" y2="586.2" stroke="#000" stroke-width="4.9"/>
<line x1="1137.2" y1="572.6" x2="1137.2" y2="586.2" stroke="#000" stroke-width="4.9"/>
<line x1="1308.5" y1="572.6" x2="1308.5" y2="586.2" stroke="#000" stroke-width="4.9"/>
<line x1="919.25" y1="406.95" x2="919.25" y2="433.5" stroke="#000" stroke-width="2.9"/>
<line x1="914.3000000000001" y1="406.95" x2="924.1999999999999" y2="406.95" stroke="#000" stroke-width="2.9" stroke-linecap="round"/>
<rect x="910.25" y="434.05" width="18.00" height="138.55" fill="url(#pChk)" stroke="#000" stroke-width="3.1" stroke-linejoin="round"/>
<line x1="950.0" y1="405.45" x2="950.0" y2="417" stroke="#000" stroke-width="2.9"/>
<line x1="945.0500000000001" y1="405.45" x2="954.9499999999999" y2="405.45" stroke="#000" stroke-width="2.9" stroke-linecap="round"/>
<rect x="940.95" y="417.55" width="18.10" height="155.05" fill="url(#pDiag)" stroke="#000" stroke-width="3.1" stroke-linejoin="round"/>
<line x1="981.0" y1="495.95" x2="981.0" y2="499" stroke="#000" stroke-width="2.9"/>
<line x1="976.0500000000001" y1="495.95" x2="985.9499999999999" y2="495.95" stroke="#000" stroke-width="2.9" stroke-linecap="round"/>
<rect x="971.75" y="499.55" width="18.50" height="73.05" fill="url(#pRD)" stroke="#000" stroke-width="3.1" stroke-linejoin="round"/>
<line x1="1012.35" y1="252.45" x2="1012.35" y2="261" stroke="#000" stroke-width="2.9"/>
<line x1="1007.4000000000001" y1="252.45" x2="1017.3" y2="252.45" stroke="#000" stroke-width="2.9" stroke-linecap="round"/>
<rect x="1003.25" y="261.55" width="18.20" height="311.05" fill="url(#pHor)" stroke="#000" stroke-width="3.1" stroke-linejoin="round"/>
<line x1="1090.95" y1="498.25" x2="1090.95" y2="526" stroke="#000" stroke-width="2.9"/>
<line x1="1086.0" y1="498.25" x2="1095.9" y2="498.25" stroke="#000" stroke-width="2.9" stroke-linecap="round"/>
<rect x="1081.95" y="526.55" width="18.00" height="46.05" fill="url(#pChk)" stroke="#000" stroke-width="3.1" stroke-linejoin="round"/>
<rect x="1112.65" y="573.05" width="18.10" height="0.50" fill="#000" stroke="#000" stroke-width="3.1"/>
<line x1="1152.7" y1="542.95" x2="1152.7" y2="545.3" stroke="#000" stroke-width="2.9"/>
<line x1="1147.75" y1="542.95" x2="1157.65" y2="542.95" stroke="#000" stroke-width="2.9" stroke-linecap="round"/>
<rect x="1143.45" y="545.85" width="18.50" height="26.75" fill="url(#pRD)" stroke="#000" stroke-width="3.1" stroke-linejoin="round"/>
<line x1="1184.0500000000002" y1="405.75" x2="1184.0500000000002" y2="440.3" stroke="#000" stroke-width="2.9"/>
<line x1="1179.1000000000001" y1="405.75" x2="1189.0000000000002" y2="405.75" stroke="#000" stroke-width="2.9" stroke-linecap="round"/>
<rect x="1174.95" y="440.85" width="18.20" height="131.75" fill="url(#pHor)" stroke="#000" stroke-width="3.1" stroke-linejoin="round"/>
<line x1="1262.25" y1="552.25" x2="1262.25" y2="562.3" stroke="#000" stroke-width="2.9"/>
<line x1="1257.3" y1="552.25" x2="1267.2" y2="552.25" stroke="#000" stroke-width="2.9" stroke-linecap="round"/>
<rect x="1253.25" y="562.85" width="18.00" height="9.75" fill="url(#pChk)" stroke="#000" stroke-width="3.1" stroke-linejoin="round"/>
<rect x="1283.95" y="570.55" width="18.10" height="2.05" fill="url(#pDiag)" stroke="#000" stroke-width="3.1" stroke-linejoin="round"/>
<rect x="1314.75" y="566.75" width="18.50" height="5.85" fill="url(#pRD)" stroke="#000" stroke-width="3.1" stroke-linejoin="round"/>
<rect x="1346.25" y="569.85" width="18.20" height="2.75" fill="url(#pHor)" stroke="#000" stroke-width="3.1" stroke-linejoin="round"/>
<text font-size="22" text-anchor="middle" transform="translate(919 407) scale(1 1.04)" stroke="#000" stroke-width="0.3">***</text>
<text font-size="22" text-anchor="middle" transform="translate(950 405.5) scale(1 1.04)" stroke="#000" stroke-width="0.3">**</text>
<text font-size="22" text-anchor="middle" transform="translate(981.3 495.5) scale(1 1.04)" stroke="#000" stroke-width="0.3">*</text>
<text font-size="22" text-anchor="middle" transform="translate(1184 406.5) scale(1 1.04)" stroke="#000" stroke-width="0.3">**</text>
<line x1="1089.5" y1="489.5" x2="1152.5" y2="489.5" stroke="#000" stroke-width="2.7" stroke-linecap="round"/>
<text font-size="22" text-anchor="middle" transform="translate(1122 490.5) scale(1 1.04)" stroke="#000" stroke-width="0.3">***</text>
<line x1="1260.8" y1="542" x2="1357.5" y2="542" stroke="#000" stroke-width="2.7" stroke-linecap="round"/>
<text font-size="22" text-anchor="middle" transform="translate(1308 541) scale(1 1.04)" stroke="#000" stroke-width="0.3">***</text>
<text font-size="25.5" transform="translate(923.4 617.2) scale(1 1.04)" stroke="#000" stroke-width="0.3">¼</text>
<text font-size="26.7" transform="translate(958.2 617.2) scale(1 1.04)" stroke="#000" stroke-width="0.3">IC<tspan font-size="21" dy="7.2">50</tspan></text>
<text font-size="25.5" transform="translate(1095.2 617.2) scale(1 1.04)" stroke="#000" stroke-width="0.3">½</text>
<text font-size="26.7" transform="translate(1130 617.2) scale(1 1.04)" stroke="#000" stroke-width="0.3">IC<tspan font-size="21" dy="7.2">50</tspan></text>
<text font-size="26.7" transform="translate(1282.6 617.2) scale(1 1.04)" stroke="#000" stroke-width="0.3">IC<tspan font-size="21" dy="7.2">50</tspan></text>
<text font-size="25.1" text-anchor="middle" transform="translate(1136.6 667.4) scale(1 1.04)" stroke="#000" stroke-width="0.3">AJ-5 Concentration (µM)</text>
<text font-size="25" text-anchor="middle" transform="translate(806.3 403.1) rotate(-90) scale(1 1.04)" stroke="#000" stroke-width="0.3">Colony Area (% Vehicle Control)</text>
<rect x="1378.60" y="255.75" width="36.40" height="20.25" fill="url(#pChkL)" stroke="#000" stroke-width="3.5"/>
<text font-size="27.4" transform="translate(1435.6 274.7) scale(1 1.04)" stroke="#000" stroke-width="0.3" textLength="73.2" lengthAdjust="spacingAndGlyphs">RH30</text>
<rect x="1378.60" y="297.00" width="36.40" height="20.25" fill="url(#pDiagL)" stroke="#000" stroke-width="3.5"/>
<text font-size="27.4" transform="translate(1435.6 315.95) scale(1 1.04)" stroke="#000" stroke-width="0.3" textLength="109.2" lengthAdjust="spacingAndGlyphs">AX-OH-1</text>
<rect x="1378.60" y="338.25" width="36.40" height="20.25" fill="url(#pRDL)" stroke="#000" stroke-width="3.5"/>
<text font-size="27.4" transform="translate(1435.6 357.2) scale(1 1.04)" stroke="#000" stroke-width="0.3" textLength="41.2" lengthAdjust="spacingAndGlyphs">RD</text>
<rect x="1378.60" y="379.50" width="36.40" height="20.25" fill="url(#pHorL)" stroke="#000" stroke-width="3.5"/>
<text font-size="27.4" transform="translate(1435.6 398.45) scale(1 1.04)" stroke="#000" stroke-width="0.3" textLength="105.4" lengthAdjust="spacingAndGlyphs">FL-OH-1</text>
<text font-size="48" transform="translate(-1.8 840.9) scale(1 1.04)" stroke="#000" stroke-width="0.3">B</text>
<text font-size="28.7" text-anchor="middle" transform="translate(507.2 856) scale(1 1.04)" stroke="#000" stroke-width="0.3">AJ-5</text>
<line x1="316.3" y1="866.3" x2="690.3" y2="866.3" stroke="#000" stroke-width="2.6" stroke-linecap="round"/>
<text font-size="28.7" text-anchor="middle" transform="translate(209.2 908.5) scale(1 1.04)" stroke="#000" stroke-width="0.3">Vehicle</text>
<text font-size="28.7" text-anchor="middle" transform="translate(359.2 908.3) scale(1 1.04)" stroke="#000" stroke-width="0.3">0.15µM</text>
<text font-size="28.7" text-anchor="middle" transform="translate(507.2 908.3) scale(1 1.04)" stroke="#000" stroke-width="0.3">0.3µM</text>
<text font-size="32.3" text-anchor="middle" transform="translate(653.7 908.3) scale(1 1.04)" stroke="#000" stroke-width="0.3">0.6µM</text>
<text font-size="29.3" text-anchor="middle" transform="translate(86.9 996) rotate(-90) scale(1 1.04)" stroke="#000" stroke-width="0.3">Myoblast Cells</text>
<text font-size="29.3" text-anchor="middle" transform="translate(123.6 992) rotate(-90) scale(1 1.04)" stroke="#000" stroke-width="0.3" textLength="89" lengthAdjust="spacingAndGlyphs">C2C12</text>
<g clip-path="url(#wc17)">
<circle cx="212.4" cy="996.0" r="70.50" fill="#e4e2fb"/>
<ellipse cx="192.4" cy="1026.0" rx="30" ry="18" fill="#4840d8" opacity="0.45" filter="url(#bl8_0)"/>
<ellipse cx="252.4" cy="991.0" rx="14" ry="25" fill="#4840d8" opacity="0.4" filter="url(#bl8_0)"/>
<ellipse cx="202.4" cy="961.0" rx="18" ry="12" fill="#ffffff" opacity="0.6" filter="url(#bl8_0)"/>
<circle cx="212.4" cy="996.0" r="67.00" fill="#000" opacity="0.88" filter="url(#wf17_0)"/>
<g fill="#4038d4" opacity="0.3" filter="url(#bl1_3)"><circle cx="214.2" cy="1039.9" r="2.1"/><circle cx="225.3" cy="969.1" r="2.8"/><circle cx="247.4" cy="978.6" r="4.3"/><circle cx="207.1" cy="950.4" r="3.0"/><circle cx="180.5" cy="976.8" r="4.5"/><circle cx="161.8" cy="1030.9" r="3.8"/><circle cx="243.4" cy="1001.6" r="2.6"/><circle cx="222.7" cy="972.0" r="2.9"/><circle cx="175.5" cy="1036.7" r="4.1"/><circle cx="214.5" cy="968.8" r="3.4"/><circle cx="159.9" cy="1017.5" r="2.6"/><circle cx="263.7" cy="961.9" r="3.7"/><circle cx="238.2" cy="946.2" r="2.9"/><circle cx="240.4" cy="1050.8" r="2.5"/><circle cx="253.1" cy="1000.2" r="2.4"/><circle cx="230.9" cy="1053.9" r="2.0"/><circle cx="250.3" cy="970.0" r="2.1"/><circle cx="186.2" cy="1028.3" r="2.0"/><circle cx="216.5" cy="946.1" r="4.4"/><circle cx="238.9" cy="947.8" r="4.5"/><circle cx="257.7" cy="975.4" r="2.7"/><circle cx="157.1" cy="987.7" r="4.1"/><circle cx="239.9" cy="946.3" r="2.0"/><circle cx="196.3" cy="1004.8" r="2.9"/><circle cx="171.7" cy="973.6" r="3.8"/><circle cx="220.7" cy="1048.3" r="2.9"/><circle cx="226.5" cy="1055.7" r="2.0"/><circle cx="168.1" cy="1005.9" r="2.9"/><circle cx="258.1" cy="990.8" r="4.0"/><circle cx="200.5" cy="1037.4" r="2.1"/><circle cx="186.7" cy="965.0" r="3.5"/><circle cx="244.5" cy="1023.4" r="4.3"/><circle cx="262.7" cy="999.6" r="3.1"/><circle cx="205.4" cy="950.2" r="2.6"/><circle cx="244.3" cy="987.7" r="3.2"/><circle cx="186.5" cy="949.9" r="2.6"/><circle cx="266.7" cy="1001.8" r="2.2"/><circle cx="224.8" cy="935.7" r="3.5"/><circle cx="165.4" cy="1028.9" r="2.4"/><circle cx="192.5" cy="1038.4" r="3.1"/><circle cx="194.3" cy="953.6" r="2.4"/><circle cx="210.8" cy="960.7" r="2.9"/><circle cx="234.8" cy="996.8" r="3.9"/><circle cx="221.0" cy="1034.9" r="2.0"/><circle cx="215.8" cy="960.6" r="2.0"/><circle cx="203.4" cy="1055.1" r="3.4"/><circle cx="272.9" cy="997.2" r="2.0"/><circle cx="167.3" cy="1000.5" r="3.5"/><circle cx="247.9" cy="1039.7" r="2.2"/><circle cx="208.0" cy="936.5" r="2.9"/><circle cx="263.0" cy="996.6" r="2.5"/><circle cx="205.7" cy="941.5" r="2.0"/><circle cx="167.1" cy="975.4" r="4.1"/><circle cx="175.7" cy="964.1" r="3.5"/><circle cx="243.2" cy="1044.5" r="2.8"/><circle cx="196.4" cy="977.6" r="2.7"/><circle cx="188.7" cy="1011.2" r="4.2"/><circle cx="236.3" cy="961.4" r="2.0"/><circle cx="233.6" cy="993.8" r="2.6"/><circle cx="159.8" cy="973.1" r="3.1"/><circle cx="177.1" cy="969.1" r="4.4"/><circle cx="228.1" cy="962.5" r="3.6"/><circle cx="253.3" cy="982.0" r="2.0"/><circle cx="268.0" cy="1021.0" r="2.1"/><circle cx="221.5" cy="970.3" r="2.1"/><circle cx="242.2" cy="1043.4" r="2.0"/><circle cx="157.5" cy="1005.9" r="2.7"/><circle cx="220.4" cy="996.5" r="3.7"/><circle cx="206.8" cy="1013.0" r="2.7"/><circle cx="219.7" cy="962.7" r="2.0"/><circle cx="229.2" cy="1035.2" r="3.5"/><circle cx="259.3" cy="1022.9" r="3.2"/><circle cx="176.5" cy="982.4" r="2.0"/><circle cx="172.6" cy="995.0" r="3.2"/><circle cx="235.7" cy="1005.6" r="2.0"/><circle cx="197.3" cy="997.3" r="2.7"/><circle cx="179.5" cy="1009.8" r="2.1"/><circle cx="250.2" cy="975.5" r="2.0"/><circle cx="164.6" cy="970.6" r="2.6"/><circle cx="256.4" cy="960.1" r="3.2"/><circle cx="251.2" cy="1002.4" r="2.7"/><circle cx="233.7" cy="1034.3" r="3.1"/><circle cx="213.2" cy="942.0" r="3.4"/><circle cx="197.4" cy="1042.1" r="2.6"/><circle cx="213.5" cy="974.4" r="2.1"/><circle cx="201.5" cy="944.4" r="2.1"/><circle cx="218.7" cy="941.7" r="3.0"/><circle cx="198.0" cy="999.6" r="2.1"/><circle cx="218.2" cy="936.4" r="2.1"/><circle cx="248.1" cy="1004.4" r="4.2"/><circle cx="225.0" cy="1054.6" r="3.5"/><circle cx="245.5" cy="943.9" r="3.1"/><circle cx="225.6" cy="1034.6" r="2.4"/><circle cx="193.6" cy="964.3" r="3.3"/><circle cx="241.1" cy="1001.5" r="2.1"/><circle cx="238.0" cy="1043.1" r="3.9"/><circle cx="247.9" cy="1020.0" r="2.0"/><circle cx="212.8" cy="1019.6" r="3.2"/><circle cx="241.7" cy="947.2" r="2.2"/><circle cx="187.3" cy="1012.0" r="3.1"/><circle cx="219.6" cy="1049.8" r="2.6"/><circle cx="157.4" cy="977.9" r="4.1"/><circle cx="206.4" cy="1048.5" r="2.2"/><circle cx="269.5" cy="999.9" r="2.1"/><circle cx="202.1" cy="1047.5" r="3.8"/><circle cx="172.3" cy="1029.8" r="2.4"/><circle cx="258.2" cy="1001.2" r="2.1"/><circle cx="222.3" cy="1034.3" r="3.0"/><circle cx="217.9" cy="1024.5" r="2.8"/><circle cx="205.5" cy="1041.9" r="3.1"/></g>
<circle cx="212.4" cy="996.0" r="68.40" fill="none" stroke="#4a43e0" stroke-width="4.2" opacity="1"/>
<circle cx="212.4" cy="996.0" r="65.50" fill="none" stroke="#e4e2ff" stroke-width="1.6" opacity="1"/>
</g>
<circle cx="212.4" cy="996.0" r="72.00" fill="none" stroke="#000" stroke-width="3.6"/>
<g clip-path="url(#wc18)">
<circle cx="361.7" cy="996.0" r="70.50" fill="#e0defa"/>
<ellipse cx="351.7" cy="1006.0" rx="40" ry="30" fill="#4840d8" opacity="0.35" filter="url(#bl9_0)"/>
<circle cx="361.7" cy="996.0" r="67.00" fill="#000" opacity="0.88" filter="url(#wf18_0)"/>
<g fill="#4038d4" opacity="0.3" filter="url(#bl1_3)"><circle cx="376.0" cy="994.0" r="3.3"/><circle cx="301.8" cy="1002.1" r="2.4"/><circle cx="383.3" cy="984.0" r="4.5"/><circle cx="339.0" cy="1009.8" r="2.3"/><circle cx="353.9" cy="987.6" r="2.4"/><circle cx="378.0" cy="997.1" r="2.1"/><circle cx="365.6" cy="1028.2" r="3.5"/><circle cx="312.1" cy="1024.9" r="4.0"/><circle cx="409.4" cy="959.1" r="2.8"/><circle cx="334.0" cy="944.8" r="2.7"/><circle cx="389.7" cy="1030.9" r="2.7"/><circle cx="369.8" cy="1013.1" r="2.1"/><circle cx="343.6" cy="943.1" r="3.1"/><circle cx="352.3" cy="1000.7" r="2.0"/><circle cx="336.3" cy="958.7" r="2.5"/><circle cx="372.0" cy="1015.2" r="2.1"/><circle cx="394.9" cy="1030.7" r="2.2"/><circle cx="323.5" cy="982.3" r="2.8"/><circle cx="359.7" cy="941.3" r="2.1"/><circle cx="417.1" cy="981.7" r="3.7"/><circle cx="303.8" cy="1013.6" r="3.7"/><circle cx="365.2" cy="1047.3" r="3.8"/><circle cx="362.8" cy="937.2" r="2.7"/><circle cx="353.6" cy="981.0" r="3.1"/><circle cx="393.7" cy="1037.9" r="4.0"/><circle cx="350.3" cy="1007.9" r="2.0"/><circle cx="337.4" cy="993.4" r="3.4"/><circle cx="327.9" cy="968.1" r="3.1"/><circle cx="386.2" cy="1030.1" r="2.0"/><circle cx="308.9" cy="979.8" r="2.1"/><circle cx="338.4" cy="938.7" r="2.3"/><circle cx="369.8" cy="1026.1" r="3.7"/><circle cx="409.5" cy="1022.5" r="2.2"/><circle cx="363.9" cy="937.6" r="3.8"/><circle cx="378.0" cy="1038.9" r="2.3"/><circle cx="385.5" cy="972.2" r="2.1"/><circle cx="346.6" cy="1006.1" r="2.1"/><circle cx="351.4" cy="962.1" r="2.1"/><circle cx="390.8" cy="983.4" r="3.6"/><circle cx="343.1" cy="953.7" r="3.1"/><circle cx="312.0" cy="968.3" r="3.2"/><circle cx="356.0" cy="1045.9" r="2.6"/><circle cx="380.4" cy="986.1" r="2.5"/><circle cx="377.5" cy="992.7" r="3.3"/><circle cx="400.8" cy="967.5" r="2.0"/><circle cx="366.9" cy="964.6" r="2.7"/><circle cx="375.9" cy="964.3" r="2.1"/><circle cx="388.7" cy="1020.3" r="2.0"/><circle cx="342.4" cy="942.9" r="2.0"/><circle cx="307.3" cy="986.5" r="3.5"/><circle cx="357.4" cy="1040.9" r="3.2"/><circle cx="300.2" cy="988.1" r="4.1"/><circle cx="383.1" cy="991.3" r="2.0"/><circle cx="321.8" cy="970.8" r="2.2"/><circle cx="364.0" cy="1050.9" r="3.6"/><circle cx="383.4" cy="997.8" r="3.3"/><circle cx="340.2" cy="1007.4" r="4.3"/><circle cx="353.4" cy="1011.1" r="2.4"/><circle cx="320.3" cy="1023.8" r="3.5"/><circle cx="398.8" cy="1016.9" r="4.0"/><circle cx="303.5" cy="1001.0" r="4.0"/><circle cx="378.4" cy="948.9" r="2.0"/><circle cx="395.5" cy="992.4" r="2.2"/><circle cx="316.4" cy="994.9" r="3.5"/><circle cx="304.0" cy="981.4" r="3.5"/><circle cx="342.0" cy="970.1" r="3.0"/><circle cx="307.7" cy="995.7" r="2.2"/><circle cx="375.6" cy="945.5" r="2.1"/><circle cx="401.7" cy="979.7" r="2.5"/><circle cx="341.6" cy="1028.9" r="3.6"/><circle cx="399.2" cy="976.1" r="2.7"/><circle cx="340.4" cy="1000.2" r="4.0"/><circle cx="352.8" cy="1000.9" r="2.1"/><circle cx="344.8" cy="1048.3" r="2.1"/><circle cx="394.2" cy="1045.1" r="2.2"/><circle cx="367.4" cy="993.4" r="2.0"/><circle cx="371.3" cy="1033.6" r="2.7"/><circle cx="332.9" cy="1049.6" r="4.2"/><circle cx="305.7" cy="970.5" r="3.9"/><circle cx="408.6" cy="988.7" r="2.0"/><circle cx="349.2" cy="990.4" r="2.4"/><circle cx="400.6" cy="994.6" r="3.2"/><circle cx="411.4" cy="980.1" r="2.4"/><circle cx="340.1" cy="994.2" r="3.5"/><circle cx="340.6" cy="967.7" r="2.5"/><circle cx="370.0" cy="985.0" r="2.1"/><circle cx="323.3" cy="956.4" r="2.7"/><circle cx="357.5" cy="991.4" r="2.8"/><circle cx="345.9" cy="990.3" r="2.7"/><circle cx="360.8" cy="1032.4" r="3.6"/><circle cx="365.3" cy="990.1" r="2.0"/><circle cx="322.6" cy="951.0" r="3.0"/><circle cx="332.7" cy="1041.0" r="4.1"/><circle cx="372.6" cy="1000.7" r="2.5"/><circle cx="351.4" cy="952.4" r="2.6"/><circle cx="375.4" cy="1017.1" r="2.0"/><circle cx="330.6" cy="1002.8" r="2.8"/><circle cx="327.3" cy="1003.0" r="3.5"/><circle cx="339.8" cy="1032.0" r="2.5"/><circle cx="342.7" cy="937.6" r="3.4"/><circle cx="415.4" cy="996.1" r="2.7"/><circle cx="354.6" cy="987.4" r="2.0"/><circle cx="382.9" cy="998.1" r="2.0"/><circle cx="348.2" cy="943.5" r="2.4"/><circle cx="370.4" cy="1036.1" r="2.0"/><circle cx="362.8" cy="1037.4" r="4.0"/><circle cx="358.7" cy="975.3" r="3.6"/><circle cx="419.6" cy="988.4" r="2.1"/><circle cx="310.1" cy="964.8" r="2.2"/><circle cx="317.8" cy="973.7" r="4.3"/></g>
<circle cx="361.7" cy="996.0" r="68.40" fill="none" stroke="#4a43e0" stroke-width="4.2" opacity="1"/>
<circle cx="361.7" cy="996.0" r="65.50" fill="none" stroke="#e4e2ff" stroke-width="1.6" opacity="1"/>
</g>
<circle cx="361.7" cy="996.0" r="72.00" fill="none" stroke="#000" stroke-width="3.6"/>
<g clip-path="url(#wc19)">
<circle cx="510.5" cy="996.0" r="70.50" fill="#e6e4f8"/>
<ellipse cx="560.5" cy="996.0" rx="9" ry="25" fill="#4840d4" opacity="0.6" filter="url(#bl5_0)"/>
<ellipse cx="465.5" cy="966.0" rx="14" ry="12" fill="#4840d4" opacity="0.5" filter="url(#bl5_0)"/>
<ellipse cx="468.5" cy="1031.0" rx="14" ry="14" fill="#4840d4" opacity="0.5" filter="url(#bl5_0)"/>
<ellipse cx="510.5" cy="948.0" rx="30" ry="8" fill="#4840d4" opacity="0.4" filter="url(#bl5_0)"/>
<circle cx="510.5" cy="996.0" r="66.00" fill="#000" opacity="0.55" filter="url(#wf19_0)"/>
<g fill="#4a42d0" opacity="0.7" filter="url(#bl0_9)"><circle cx="467.1" cy="956.7" r="2.6"/><circle cx="496.1" cy="937.7" r="2.8"/><circle cx="505.1" cy="943.4" r="3.9"/><circle cx="535.3" cy="1001.8" r="4.4"/><circle cx="509.9" cy="964.3" r="3.5"/><circle cx="528.6" cy="1028.5" r="2.6"/><circle cx="513.6" cy="1018.8" r="2.8"/><circle cx="489.4" cy="968.1" r="3.3"/><circle cx="525.0" cy="994.4" r="2.1"/><circle cx="553.5" cy="1023.5" r="2.5"/><circle cx="481.9" cy="1007.4" r="3.6"/><circle cx="512.8" cy="954.6" r="3.8"/><circle cx="514.8" cy="1032.1" r="4.3"/><circle cx="513.7" cy="1019.3" r="1.5"/><circle cx="484.2" cy="946.4" r="1.6"/><circle cx="471.8" cy="1001.3" r="2.3"/><circle cx="514.1" cy="1034.3" r="1.8"/><circle cx="534.9" cy="982.9" r="2.9"/><circle cx="478.7" cy="957.1" r="2.7"/><circle cx="451.1" cy="987.3" r="1.9"/><circle cx="520.9" cy="1028.4" r="3.5"/><circle cx="476.2" cy="1013.9" r="1.6"/><circle cx="545.6" cy="1031.7" r="2.0"/><circle cx="481.2" cy="1003.4" r="2.2"/><circle cx="531.8" cy="1051.1" r="3.1"/><circle cx="480.9" cy="998.5" r="3.8"/><circle cx="489.5" cy="987.5" r="1.9"/><circle cx="544.0" cy="985.1" r="2.5"/><circle cx="558.2" cy="1029.0" r="2.0"/><circle cx="462.0" cy="975.4" r="2.9"/><circle cx="488.0" cy="1018.2" r="3.4"/><circle cx="508.3" cy="1044.6" r="4.3"/><circle cx="555.5" cy="972.3" r="3.1"/><circle cx="541.0" cy="1042.9" r="4.1"/><circle cx="501.7" cy="1008.7" r="2.9"/><circle cx="458.5" cy="1019.8" r="3.6"/><circle cx="469.4" cy="1014.9" r="2.7"/><circle cx="484.3" cy="953.9" r="3.3"/><circle cx="521.6" cy="1050.5" r="1.6"/><circle cx="506.8" cy="1042.1" r="1.5"/><circle cx="482.4" cy="974.9" r="2.3"/><circle cx="543.9" cy="1014.5" r="3.0"/><circle cx="564.6" cy="1013.0" r="4.3"/><circle cx="464.8" cy="989.9" r="3.8"/><circle cx="481.7" cy="954.4" r="2.7"/><circle cx="473.4" cy="991.1" r="1.7"/><circle cx="519.4" cy="946.2" r="1.5"/><circle cx="521.3" cy="935.4" r="2.5"/><circle cx="535.7" cy="981.9" r="3.2"/><circle cx="522.7" cy="958.4" r="2.2"/><circle cx="540.6" cy="1030.5" r="2.2"/><circle cx="462.4" cy="1003.2" r="2.0"/><circle cx="500.0" cy="1003.0" r="3.3"/><circle cx="506.7" cy="962.6" r="1.9"/><circle cx="483.0" cy="964.6" r="3.8"/><circle cx="510.3" cy="954.3" r="2.5"/><circle cx="468.5" cy="972.7" r="2.7"/><circle cx="474.2" cy="985.4" r="3.4"/><circle cx="488.0" cy="998.0" r="3.2"/><circle cx="494.4" cy="1028.3" r="3.0"/><circle cx="537.6" cy="967.5" r="2.5"/><circle cx="473.7" cy="952.2" r="3.7"/><circle cx="525.9" cy="994.9" r="2.9"/><circle cx="486.1" cy="1024.4" r="2.2"/><circle cx="465.3" cy="966.5" r="3.3"/><circle cx="548.6" cy="1014.4" r="3.8"/><circle cx="485.8" cy="1017.4" r="2.3"/><circle cx="484.5" cy="973.9" r="1.9"/><circle cx="532.8" cy="997.7" r="3.3"/><circle cx="543.0" cy="1010.4" r="2.1"/><circle cx="531.8" cy="943.7" r="1.6"/><circle cx="530.7" cy="1019.9" r="1.8"/><circle cx="450.8" cy="1004.0" r="2.5"/><circle cx="491.8" cy="955.9" r="4.1"/><circle cx="471.1" cy="1027.6" r="1.7"/><circle cx="502.3" cy="1004.4" r="2.8"/><circle cx="492.5" cy="975.6" r="2.7"/><circle cx="495.8" cy="963.9" r="4.2"/><circle cx="543.6" cy="1012.9" r="4.3"/><circle cx="553.3" cy="987.6" r="1.9"/><circle cx="491.1" cy="1030.3" r="2.3"/><circle cx="476.6" cy="1011.1" r="4.0"/><circle cx="565.9" cy="1009.7" r="2.4"/><circle cx="568.8" cy="988.3" r="4.1"/><circle cx="454.1" cy="985.8" r="1.8"/><circle cx="499.2" cy="1015.4" r="1.6"/><circle cx="544.1" cy="978.6" r="2.0"/><circle cx="553.9" cy="961.0" r="3.1"/><circle cx="504.5" cy="1016.0" r="1.7"/><circle cx="465.1" cy="957.9" r="3.2"/><circle cx="509.5" cy="1020.8" r="3.8"/><circle cx="514.2" cy="952.7" r="3.0"/><circle cx="532.2" cy="1003.6" r="4.3"/><circle cx="565.1" cy="1006.7" r="1.8"/><circle cx="508.2" cy="971.9" r="1.7"/><circle cx="481.8" cy="943.2" r="2.8"/><circle cx="552.5" cy="967.2" r="3.9"/><circle cx="456.5" cy="974.0" r="3.3"/><circle cx="477.6" cy="1017.9" r="3.8"/><circle cx="550.3" cy="1011.9" r="1.7"/><circle cx="535.0" cy="957.2" r="3.8"/><circle cx="479.5" cy="1023.1" r="2.9"/><circle cx="487.1" cy="977.3" r="1.6"/><circle cx="490.3" cy="995.6" r="2.8"/><circle cx="541.9" cy="1032.9" r="2.9"/><circle cx="539.3" cy="1043.5" r="2.7"/><circle cx="541.9" cy="982.1" r="2.8"/><circle cx="470.1" cy="1028.9" r="2.3"/><circle cx="472.6" cy="976.8" r="1.9"/><circle cx="544.5" cy="987.7" r="4.0"/><circle cx="476.8" cy="972.9" r="2.4"/><circle cx="510.1" cy="1018.1" r="2.2"/><circle cx="533.6" cy="986.9" r="2.7"/><circle cx="475.7" cy="1002.9" r="1.5"/><circle cx="508.9" cy="951.5" r="3.1"/><circle cx="454.1" cy="1013.6" r="2.8"/><circle cx="498.8" cy="969.1" r="2.5"/><circle cx="466.3" cy="955.9" r="3.6"/><circle cx="529.0" cy="957.3" r="3.6"/><circle cx="527.0" cy="943.4" r="1.8"/><circle cx="511.7" cy="935.2" r="3.7"/><circle cx="507.0" cy="989.9" r="2.3"/><circle cx="559.9" cy="1012.0" r="3.1"/><circle cx="527.5" cy="987.3" r="2.8"/><circle cx="567.5" cy="988.0" r="1.7"/><circle cx="460.3" cy="1031.9" r="2.3"/><circle cx="489.7" cy="989.6" r="4.1"/><circle cx="545.8" cy="976.6" r="1.7"/><circle cx="479.0" cy="1034.4" r="4.1"/><circle cx="471.1" cy="994.7" r="1.8"/><circle cx="492.3" cy="1026.7" r="3.8"/><circle cx="459.2" cy="1014.5" r="1.9"/><circle cx="533.3" cy="1006.5" r="1.8"/><circle cx="550.1" cy="980.6" r="2.2"/><circle cx="538.3" cy="1008.5" r="3.4"/><circle cx="494.1" cy="952.7" r="2.2"/><circle cx="527.2" cy="963.4" r="3.8"/><circle cx="570.4" cy="999.7" r="2.8"/><circle cx="549.5" cy="949.2" r="1.7"/><circle cx="541.8" cy="1002.1" r="1.9"/><circle cx="498.5" cy="951.9" r="3.0"/><circle cx="543.0" cy="984.1" r="3.2"/><circle cx="510.8" cy="1044.2" r="4.4"/><circle cx="553.4" cy="1019.1" r="4.3"/><circle cx="524.4" cy="969.5" r="3.4"/><circle cx="483.0" cy="1030.8" r="1.5"/><circle cx="489.6" cy="955.6" r="2.1"/><circle cx="514.8" cy="1012.7" r="3.8"/><circle cx="485.5" cy="1014.3" r="4.3"/><circle cx="530.4" cy="1028.5" r="1.6"/><circle cx="525.2" cy="1035.2" r="1.9"/><circle cx="531.8" cy="976.9" r="3.7"/><circle cx="457.8" cy="1000.7" r="3.8"/><circle cx="557.0" cy="959.9" r="3.4"/><circle cx="534.6" cy="1018.3" r="2.6"/><circle cx="558.4" cy="984.3" r="4.0"/><circle cx="566.5" cy="1021.9" r="4.1"/><circle cx="539.9" cy="972.6" r="2.3"/><circle cx="459.0" cy="979.9" r="1.5"/><circle cx="453.9" cy="983.0" r="4.2"/><circle cx="502.3" cy="997.0" r="3.7"/><circle cx="464.0" cy="983.8" r="2.1"/><circle cx="504.3" cy="947.5" r="1.6"/><circle cx="499.5" cy="935.9" r="2.4"/><circle cx="478.1" cy="991.9" r="1.6"/><circle cx="560.5" cy="978.4" r="1.9"/><circle cx="559.5" cy="989.9" r="3.5"/><circle cx="482.1" cy="1021.8" r="2.0"/><circle cx="466.7" cy="1028.0" r="1.8"/><circle cx="538.1" cy="1011.3" r="2.2"/><circle cx="560.9" cy="962.1" r="3.7"/><circle cx="507.8" cy="1009.2" r="4.2"/><circle cx="462.4" cy="958.3" r="3.6"/><circle cx="556.3" cy="1016.1" r="1.6"/><circle cx="550.6" cy="1017.7" r="3.4"/><circle cx="459.2" cy="1023.2" r="3.0"/><circle cx="519.5" cy="1004.0" r="4.1"/><circle cx="482.8" cy="947.1" r="2.3"/><circle cx="467.6" cy="993.6" r="4.3"/><circle cx="511.1" cy="1017.8" r="1.9"/><circle cx="458.5" cy="1019.6" r="2.8"/><circle cx="495.6" cy="981.3" r="3.9"/><circle cx="519.6" cy="960.7" r="3.2"/><circle cx="500.2" cy="979.9" r="4.0"/><circle cx="508.5" cy="985.2" r="2.8"/><circle cx="463.5" cy="968.5" r="3.7"/><circle cx="503.2" cy="1038.9" r="4.2"/><circle cx="515.8" cy="958.4" r="3.7"/><circle cx="538.2" cy="1029.3" r="3.5"/><circle cx="489.2" cy="1033.9" r="3.4"/><circle cx="547.7" cy="1044.8" r="4.1"/><circle cx="478.9" cy="1041.7" r="3.7"/><circle cx="501.7" cy="1016.4" r="3.8"/><circle cx="517.5" cy="954.4" r="4.2"/><circle cx="497.6" cy="1038.5" r="1.7"/><circle cx="518.9" cy="957.5" r="3.7"/><circle cx="540.9" cy="1027.9" r="2.3"/><circle cx="480.4" cy="967.5" r="1.7"/><circle cx="564.3" cy="979.5" r="4.1"/><circle cx="550.6" cy="965.4" r="2.5"/><circle cx="532.9" cy="992.3" r="3.1"/><circle cx="480.6" cy="946.7" r="4.2"/><circle cx="566.3" cy="1012.1" r="1.9"/><circle cx="498.1" cy="996.1" r="3.0"/><circle cx="551.9" cy="987.1" r="3.0"/><circle cx="554.3" cy="1030.7" r="2.8"/><circle cx="471.3" cy="994.8" r="2.8"/><circle cx="546.4" cy="959.9" r="1.6"/><circle cx="539.1" cy="1002.3" r="1.7"/><circle cx="471.0" cy="1024.2" r="4.1"/><circle cx="531.5" cy="965.5" r="1.9"/><circle cx="517.4" cy="972.5" r="2.2"/><circle cx="471.3" cy="985.1" r="2.7"/><circle cx="515.5" cy="1038.1" r="2.5"/><circle cx="486.2" cy="949.9" r="3.5"/><circle cx="567.1" cy="1002.3" r="3.0"/><circle cx="468.0" cy="973.4" r="4.2"/><circle cx="473.7" cy="970.7" r="3.3"/><circle cx="469.2" cy="1000.0" r="3.1"/><circle cx="510.6" cy="976.4" r="1.6"/><circle cx="556.9" cy="1010.5" r="2.4"/><circle cx="506.3" cy="940.8" r="1.7"/><circle cx="492.3" cy="963.6" r="4.1"/><circle cx="517.5" cy="952.2" r="2.7"/><circle cx="468.5" cy="971.1" r="2.5"/><circle cx="498.0" cy="983.7" r="2.8"/><circle cx="486.7" cy="997.5" r="2.2"/><circle cx="453.4" cy="977.1" r="3.7"/><circle cx="484.2" cy="1047.4" r="1.7"/><circle cx="508.8" cy="965.7" r="1.6"/></g>
<circle cx="510.5" cy="996.0" r="68.75" fill="none" stroke="#5a54e0" stroke-width="3.5" opacity="1"/>
<circle cx="510.5" cy="996.0" r="66.00" fill="none" stroke="#d0cdf8" stroke-width="2" opacity="1"/>
</g>
<circle cx="510.5" cy="996.0" r="72.00" fill="none" stroke="#000" stroke-width="3.6"/>
<g clip-path="url(#wc20)">
<circle cx="660.2" cy="996.0" r="70.50" fill="#f3f1fb"/>
<ellipse cx="660.2" cy="996.0" rx="44" ry="44" fill="#ffffff" opacity="0.7" filter="url(#bl12_0)"/>
<circle cx="660.2" cy="996.0" r="69.25" fill="none" stroke="#c3c0f3" stroke-width="2.5" opacity="1"/>
<circle cx="660.2" cy="996.0" r="67.25" fill="none" stroke="#e9e7fb" stroke-width="1.5" opacity="1"/>
<circle cx="660.2" cy="996.0" r="65.90" fill="none" stroke="#cfccf5" stroke-width="1.2" opacity="0.9"/>
<circle cx="660.2" cy="996.0" r="63.00" fill="none" stroke="#e9e7fa" stroke-width="3" opacity="0.8"/>
</g>
<circle cx="660.2" cy="996.0" r="72.00" fill="none" stroke="#000" stroke-width="3.6"/>
<line x1="899.1" y1="788.3" x2="899.1" y2="1120.8000000000002" stroke="#000" stroke-width="5"/>
<line x1="886.2" y1="1118.4" x2="1391.8" y2="1118.4" stroke="#000" stroke-width="5"/>
<line x1="886.2" y1="1118.4" x2="899.1" y2="1118.4" stroke="#000" stroke-width="5"/>
<text font-size="24.3" text-anchor="end" transform="translate(885.3 1127.3000000000002) scale(1 1.04)" stroke="#000" stroke-width="0.3">0</text>
<line x1="886.2" y1="1009.2" x2="899.1" y2="1009.2" stroke="#000" stroke-width="5"/>
<text font-size="24.3" text-anchor="end" transform="translate(885.3 1018.1) scale(1 1.04)" stroke="#000" stroke-width="0.3">50</text>
<line x1="886.2" y1="900.0" x2="899.1" y2="900.0" stroke="#000" stroke-width="5"/>
<text font-size="24.3" text-anchor="end" transform="translate(885.3 908.9) scale(1 1.04)" stroke="#000" stroke-width="0.3">100</text>
<line x1="886.2" y1="790.8" x2="899.1" y2="790.8" stroke="#000" stroke-width="5"/>
<text font-size="24.3" text-anchor="end" transform="translate(885.3 799.6999999999999) scale(1 1.04)" stroke="#000" stroke-width="0.3">150</text>
<line x1="981" y1="1118.4" x2="981" y2="1131.4" stroke="#000" stroke-width="5"/>
<text font-size="24.6" text-anchor="middle" transform="translate(981 1161.6) scale(1 1.04)" stroke="#000" stroke-width="0.3">0.15</text>
<line x1="1145.3" y1="1118.4" x2="1145.3" y2="1131.4" stroke="#000" stroke-width="5"/>
<text font-size="24.6" text-anchor="middle" transform="translate(1145.3 1161.6) scale(1 1.04)" stroke="#000" stroke-width="0.3">0.30</text>
<line x1="1309.5" y1="1118.4" x2="1309.5" y2="1131.4" stroke="#000" stroke-width="5"/>
<text font-size="24.6" text-anchor="middle" transform="translate(1309.5 1161.6) scale(1 1.04)" stroke="#000" stroke-width="0.3">0.60</text>
<line x1="981.3" y1="887.1999999999999" x2="981.3" y2="891" stroke="#000" stroke-width="2.6"/>
<line x1="957.0999999999999" y1="887.1999999999999" x2="1005.5" y2="887.1999999999999" stroke="#000" stroke-width="2.6" stroke-linecap="round"/>
<rect x="932.85" y="890.85" width="96.60" height="227.55" fill="url(#pDotB)" stroke="#000" stroke-width="3.1" stroke-linejoin="round"/>
<line x1="1145.8" y1="937.5" x2="1145.8" y2="958" stroke="#000" stroke-width="2.6"/>
<line x1="1121.6" y1="937.5" x2="1170.0" y2="937.5" stroke="#000" stroke-width="2.6" stroke-linecap="round"/>
<rect x="1097.55" y="957.85" width="96.20" height="160.55" fill="url(#pDotB)" stroke="#000" stroke-width="3.1" stroke-linejoin="round"/>
<line x1="1261" y1="1116" x2="1359" y2="1116" stroke="#000" stroke-width="1.5"/>
<text font-size="27.5" text-anchor="middle" font-weight="bold" transform="translate(1310.5 1116) scale(1 1.04)" stroke="#000" stroke-width="0.2" letter-spacing="-0.4">***</text>
<text font-size="24.3" text-anchor="middle" transform="translate(1145.2 1211.5) scale(1 1.04)" stroke="#000" stroke-width="0.3">AJ5 Concentration (µM)</text>
<text font-size="24" text-anchor="middle" transform="translate(827.3 956.1) rotate(-90) scale(1 1.04)" stroke="#000" stroke-width="0.3">Colony Area (% of Vehicle Control)</text>
<text font-size="48" transform="translate(-0.5 1292.5) scale(1 1.04)" stroke="#000" stroke-width="0.3">C</text>
<text font-size="28.7" text-anchor="middle" transform="translate(384 1311.5) scale(1 1.04)" stroke="#000" stroke-width="0.3">aRMS</text>
<text font-size="28.7" text-anchor="middle" transform="translate(1211 1311.5) scale(1 1.04)" stroke="#000" stroke-width="0.3">eRMS</text>
<line x1="0" y1="1327" x2="767.5" y2="1327" stroke="#000" stroke-width="2"/>
<line x1="829" y1="1327" x2="1595" y2="1327" stroke="#000" stroke-width="2"/>
<line x1="96.0" y1="1439.7" x2="96.0" y2="1689.1" stroke="#000" stroke-width="3"/>
<line x1="86.4" y1="1687.6" x2="463.0" y2="1687.6" stroke="#000" stroke-width="3"/>
<line x1="86.4" y1="1687.6" x2="96.0" y2="1687.6" stroke="#000" stroke-width="3"/>
<text font-size="17.8" text-anchor="end" font-weight="bold" transform="translate(84.8 1694.0) scale(1 1.04)" stroke="#000" stroke-width="0.2">0</text>
<line x1="86.4" y1="1638.32" x2="96.0" y2="1638.32" stroke="#000" stroke-width="3"/>
<text font-size="17.8" text-anchor="end" font-weight="bold" transform="translate(85.4 1645.9199999999998) scale(1 1.04)" stroke="#000" stroke-width="0.2">2×10<tspan font-size="13" dy="-6.9">5</tspan></text>
<line x1="86.4" y1="1589.04" x2="96.0" y2="1589.04" stroke="#000" stroke-width="3"/>
<text font-size="17.8" text-anchor="end" font-weight="bold" transform="translate(85.4 1596.6399999999999) scale(1 1.04)" stroke="#000" stroke-width="0.2">4×10<tspan font-size="13" dy="-6.9">5</tspan></text>
<line x1="86.4" y1="1539.76" x2="96.0" y2="1539.76" stroke="#000" stroke-width="3"/>
<text font-size="17.8" text-anchor="end" font-weight="bold" transform="translate(85.4 1547.36) scale(1 1.04)" stroke="#000" stroke-width="0.2">6×10<tspan font-size="13" dy="-6.9">5</tspan></text>
<line x1="86.4" y1="1490.48" x2="96.0" y2="1490.48" stroke="#000" stroke-width="3"/>
<text font-size="17.8" text-anchor="end" font-weight="bold" transform="translate(85.4 1498.08) scale(1 1.04)" stroke="#000" stroke-width="0.2">8×10<tspan font-size="13" dy="-6.9">5</tspan></text>
<line x1="86.4" y1="1441.1999999999998" x2="96.0" y2="1441.1999999999998" stroke="#000" stroke-width="3"/>
<text font-size="17.8" text-anchor="end" font-weight="bold" transform="translate(85.4 1448.7999999999997) scale(1 1.04)" stroke="#000" stroke-width="0.2">1×10<tspan font-size="13" dy="-6.9">6</tspan></text>
<line x1="132.0" y1="1687.6" x2="132.0" y2="1697.6" stroke="#000" stroke-width="3"/>
<text font-size="18" text-anchor="middle" font-weight="bold" transform="translate(132.0 1715.0) scale(1 1.04)" stroke="#000" stroke-width="0.2">3</text>
<line x1="205.3" y1="1687.6" x2="205.3" y2="1697.6" stroke="#000" stroke-width="3"/>
<text font-size="18" text-anchor="middle" font-weight="bold" transform="translate(205.3 1715.0) scale(1 1.04)" stroke="#000" stroke-width="0.2">6</text>
<line x1="278.7" y1="1687.6" x2="278.7" y2="1697.6" stroke="#000" stroke-width="3"/>
<text font-size="18" text-anchor="middle" font-weight="bold" transform="translate(278.7 1715.0) scale(1 1.04)" stroke="#000" stroke-width="0.2">9</text>
<line x1="352.0" y1="1687.6" x2="352.0" y2="1697.6" stroke="#000" stroke-width="3"/>
<text font-size="18" text-anchor="middle" font-weight="bold" transform="translate(352.0 1715.0) scale(1 1.04)" stroke="#000" stroke-width="0.2">12</text>
<line x1="425.3" y1="1687.6" x2="425.3" y2="1697.6" stroke="#000" stroke-width="3"/>
<text font-size="18" text-anchor="middle" font-weight="bold" transform="translate(425.3 1715.0) scale(1 1.04)" stroke="#000" stroke-width="0.2">24</text>
<line x1="118.3" y1="1650.0" x2="118.3" y2="1654" stroke="#000" stroke-width="2.4"/>
<line x1="113.7" y1="1650.0" x2="122.89999999999999" y2="1650.0" stroke="#000" stroke-width="2.4" stroke-linecap="round"/>
<rect x="109.15" y="1654.25" width="18.30" height="33.35" fill="url(#pDotC)" stroke="#000" stroke-width="2.5" stroke-linejoin="round"/>
<line x1="146.0" y1="1665.7" x2="146.0" y2="1669" stroke="#000" stroke-width="2.4"/>
<line x1="141.39999999999998" y1="1665.7" x2="150.60000000000002" y2="1665.7" stroke="#000" stroke-width="2.4" stroke-linecap="round"/>
<rect x="136.75" y="1669.25" width="18.50" height="18.35" fill="url(#pDiagC)" stroke="#000" stroke-width="2.5" stroke-linejoin="round"/>
<line x1="191.60000000000002" y1="1623.7" x2="191.60000000000002" y2="1629.8" stroke="#000" stroke-width="2.4"/>
<line x1="187.0" y1="1623.7" x2="196.20000000000005" y2="1623.7" stroke="#000" stroke-width="2.4" stroke-linecap="round"/>
<rect x="182.45" y="1630.05" width="18.30" height="57.55" fill="url(#pDotC)" stroke="#000" stroke-width="2.5" stroke-linejoin="round"/>
<line x1="219.3" y1="1643.7" x2="219.3" y2="1654" stroke="#000" stroke-width="2.4"/>
<line x1="214.7" y1="1643.7" x2="223.90000000000003" y2="1643.7" stroke="#000" stroke-width="2.4" stroke-linecap="round"/>
<rect x="210.05" y="1654.25" width="18.50" height="33.35" fill="url(#pDiagC)" stroke="#000" stroke-width="2.5" stroke-linejoin="round"/>
<line x1="265.0" y1="1596.7" x2="265.0" y2="1603.5" stroke="#000" stroke-width="2.4"/>
<line x1="260.4" y1="1596.7" x2="269.6" y2="1596.7" stroke="#000" stroke-width="2.4" stroke-linecap="round"/>
<rect x="255.85" y="1603.75" width="18.30" height="83.85" fill="url(#pDotC)" stroke="#000" stroke-width="2.5" stroke-linejoin="round"/>
<line x1="292.7" y1="1625.0" x2="292.7" y2="1636" stroke="#000" stroke-width="2.4"/>
<line x1="288.09999999999997" y1="1625.0" x2="297.3" y2="1625.0" stroke="#000" stroke-width="2.4" stroke-linecap="round"/>
<rect x="283.45" y="1636.25" width="18.50" height="51.35" fill="url(#pDiagC)" stroke="#000" stroke-width="2.5" stroke-linejoin="round"/>
<line x1="338.3" y1="1566.2" x2="338.3" y2="1570.5" stroke="#000" stroke-width="2.4"/>
<line x1="333.7" y1="1566.2" x2="342.90000000000003" y2="1566.2" stroke="#000" stroke-width="2.4" stroke-linecap="round"/>
<rect x="329.15" y="1570.75" width="18.30" height="116.85" fill="url(#pDotC)" stroke="#000" stroke-width="2.5" stroke-linejoin="round"/>
<line x1="366.0" y1="1592.0" x2="366.0" y2="1608.5" stroke="#000" stroke-width="2.4"/>
<line x1="361.4" y1="1592.0" x2="370.6" y2="1592.0" stroke="#000" stroke-width="2.4" stroke-linecap="round"/>
<rect x="356.75" y="1608.75" width="18.50" height="78.85" fill="url(#pDiagC)" stroke="#000" stroke-width="2.5" stroke-linejoin="round"/>
<line x1="411.6" y1="1492.0" x2="411.6" y2="1502.3" stroke="#000" stroke-width="2.4"/>
<line x1="407.0" y1="1492.0" x2="416.20000000000005" y2="1492.0" stroke="#000" stroke-width="2.4" stroke-linecap="round"/>
<rect x="402.45" y="1502.55" width="18.30" height="185.05" fill="url(#pDotC)" stroke="#000" stroke-width="2.5" stroke-linejoin="round"/>
<line x1="439.3" y1="1540.7" x2="439.3" y2="1561.5" stroke="#000" stroke-width="2.4"/>
<line x1="434.7" y1="1540.7" x2="443.90000000000003" y2="1540.7" stroke="#000" stroke-width="2.4" stroke-linecap="round"/>
<rect x="430.05" y="1561.75" width="18.50" height="125.85" fill="url(#pDiagC)" stroke="#000" stroke-width="2.5" stroke-linejoin="round"/>
<text font-size="23.4" text-anchor="middle" font-weight="bold" transform="translate(279 1412.5) scale(1 1.04)" stroke="#000" stroke-width="0.2">RH30</text>
<text font-size="18.5" text-anchor="middle" font-weight="bold" transform="translate(279.2 1744) scale(1 1.04)" stroke="#000" stroke-width="0.2">Time (Hours)</text>
<text font-size="16.5" text-anchor="middle" font-weight="bold" transform="translate(14.200000000000003 1563) rotate(-90) scale(1 1.04)" stroke="#000" stroke-width="0.2" textLength="229" lengthAdjust="spacingAndGlyphs">Area Migrated (Arbitary Units)</text>
<rect x="120.40" y="1446.80" width="26.50" height="14.80" fill="url(#pDotC)" stroke="#000" stroke-width="2.5"/>
<rect x="120.40" y="1476.20" width="26.50" height="19.60" fill="url(#pDiagC)" stroke="#000" stroke-width="2.5"/>
<text font-size="20.1" transform="translate(161.2 1460.5) scale(1 1.04)" stroke="#000" stroke-width="0.3" textLength="67.2" lengthAdjust="spacingAndGlyphs">Vehicle</text>
<text font-size="20.1" transform="translate(161.2 1490) scale(1 1.04)" stroke="#000" stroke-width="0.3" textLength="167.6" lengthAdjust="spacingAndGlyphs">AJ-5 IC<tspan font-size="15.5" dy="5.5">50</tspan><tspan dy="-5.5"> (0.14µM)</tspan></text>
<line x1="96.0" y1="1859.1" x2="96.0" y2="2108.5" stroke="#000" stroke-width="3"/>
<line x1="86.4" y1="2107.0" x2="463.0" y2="2107.0" stroke="#000" stroke-width="3"/>
<line x1="86.4" y1="2107.0" x2="96.0" y2="2107.0" stroke="#000" stroke-width="3"/>
<text font-size="17.8" text-anchor="end" font-weight="bold" transform="translate(84.8 2113.4) scale(1 1.04)" stroke="#000" stroke-width="0.2">0</text>
<line x1="86.4" y1="2057.72" x2="96.0" y2="2057.72" stroke="#000" stroke-width="3"/>
<text font-size="17.8" text-anchor="end" font-weight="bold" transform="translate(85.4 2065.3199999999997) scale(1 1.04)" stroke="#000" stroke-width="0.2">2×10<tspan font-size="13" dy="-6.9">5</tspan></text>
<line x1="86.4" y1="2008.44" x2="96.0" y2="2008.44" stroke="#000" stroke-width="3"/>
<text font-size="17.8" text-anchor="end" font-weight="bold" transform="translate(85.4 2016.04) scale(1 1.04)" stroke="#000" stroke-width="0.2">4×10<tspan font-size="13" dy="-6.9">5</tspan></text>
<line x1="86.4" y1="1959.16" x2="96.0" y2="1959.16" stroke="#000" stroke-width="3"/>
<text font-size="17.8" text-anchor="end" font-weight="bold" transform="translate(85.4 1966.76) scale(1 1.04)" stroke="#000" stroke-width="0.2">6×10<tspan font-size="13" dy="-6.9">5</tspan></text>
<line x1="86.4" y1="1909.88" x2="96.0" y2="1909.88" stroke="#000" stroke-width="3"/>
<text font-size="17.8" text-anchor="end" font-weight="bold" transform="translate(85.4 1917.48) scale(1 1.04)" stroke="#000" stroke-width="0.2">8×10<tspan font-size="13" dy="-6.9">5</tspan></text>
<line x1="86.4" y1="1860.6" x2="96.0" y2="1860.6" stroke="#000" stroke-width="3"/>
<text font-size="17.8" text-anchor="end" font-weight="bold" transform="translate(85.4 1868.1999999999998) scale(1 1.04)" stroke="#000" stroke-width="0.2">1×10<tspan font-size="13" dy="-6.9">6</tspan></text>
<line x1="132.0" y1="2107.0" x2="132.0" y2="2117.0" stroke="#000" stroke-width="3"/>
<text font-size="18" text-anchor="middle" font-weight="bold" transform="translate(132.0 2134.4) scale(1 1.04)" stroke="#000" stroke-width="0.2">3</text>
<line x1="205.3" y1="2107.0" x2="205.3" y2="2117.0" stroke="#000" stroke-width="3"/>
<text font-size="18" text-anchor="middle" font-weight="bold" transform="translate(205.3 2134.4) scale(1 1.04)" stroke="#000" stroke-width="0.2">6</text>
<line x1="278.7" y1="2107.0" x2="278.7" y2="2117.0" stroke="#000" stroke-width="3"/>
<text font-size="18" text-anchor="middle" font-weight="bold" transform="translate(278.7 2134.4) scale(1 1.04)" stroke="#000" stroke-width="0.2">9</text>
<line x1="352.0" y1="2107.0" x2="352.0" y2="2117.0" stroke="#000" stroke-width="3"/>
<text font-size="18" text-anchor="middle" font-weight="bold" transform="translate(352.0 2134.4) scale(1 1.04)" stroke="#000" stroke-width="0.2">12</text>
<line x1="425.3" y1="2107.0" x2="425.3" y2="2117.0" stroke="#000" stroke-width="3"/>
<text font-size="18" text-anchor="middle" font-weight="bold" transform="translate(425.3 2134.4) scale(1 1.04)" stroke="#000" stroke-width="0.2">24</text>
<line x1="118.3" y1="2091.2" x2="118.3" y2="2094.8" stroke="#000" stroke-width="2.4"/>
<line x1="113.7" y1="2091.2" x2="122.89999999999999" y2="2091.2" stroke="#000" stroke-width="2.4" stroke-linecap="round"/>
<rect x="109.15" y="2095.05" width="18.30" height="11.95" fill="url(#pDotC)" stroke="#000" stroke-width="2.5" stroke-linejoin="round"/>
<line x1="146.0" y1="2087.5" x2="146.0" y2="2091.0" stroke="#000" stroke-width="2.4"/>
<line x1="141.39999999999998" y1="2087.5" x2="150.60000000000002" y2="2087.5" stroke="#000" stroke-width="2.4" stroke-linecap="round"/>
<rect x="136.75" y="2091.25" width="18.50" height="15.75" fill="url(#pDiagC)" stroke="#000" stroke-width="2.5" stroke-linejoin="round"/>
<line x1="191.60000000000002" y1="2065.0" x2="191.60000000000002" y2="2070.5" stroke="#000" stroke-width="2.4"/>
<line x1="187.0" y1="2065.0" x2="196.20000000000005" y2="2065.0" stroke="#000" stroke-width="2.4" stroke-linecap="round"/>
<rect x="182.45" y="2070.75" width="18.30" height="36.25" fill="url(#pDotC)" stroke="#000" stroke-width="2.5" stroke-linejoin="round"/>
<line x1="219.3" y1="2055.5" x2="219.3" y2="2066.8" stroke="#000" stroke-width="2.4"/>
<line x1="214.7" y1="2055.5" x2="223.90000000000003" y2="2055.5" stroke="#000" stroke-width="2.4" stroke-linecap="round"/>
<rect x="210.05" y="2067.05" width="18.50" height="39.95" fill="url(#pDiagC)" stroke="#000" stroke-width="2.5" stroke-linejoin="round"/>
<line x1="265.0" y1="2028.7" x2="265.0" y2="2037.3000000000002" stroke="#000" stroke-width="2.4"/>
<line x1="260.4" y1="2028.7" x2="269.6" y2="2028.7" stroke="#000" stroke-width="2.4" stroke-linecap="round"/>
<rect x="255.85" y="2037.55" width="18.30" height="69.45" fill="url(#pDotC)" stroke="#000" stroke-width="2.5" stroke-linejoin="round"/>
<line x1="292.7" y1="2041.2" x2="292.7" y2="2053.5" stroke="#000" stroke-width="2.4"/>
<line x1="288.09999999999997" y1="2041.2" x2="297.3" y2="2041.2" stroke="#000" stroke-width="2.4" stroke-linecap="round"/>
<rect x="283.45" y="2053.75" width="18.50" height="53.25" fill="url(#pDiagC)" stroke="#000" stroke-width="2.5" stroke-linejoin="round"/>
<line x1="338.3" y1="1986.2" x2="338.3" y2="1996.8000000000002" stroke="#000" stroke-width="2.4"/>
<line x1="333.7" y1="1986.2" x2="342.90000000000003" y2="1986.2" stroke="#000" stroke-width="2.4" stroke-linecap="round"/>
<rect x="329.15" y="1997.05" width="18.30" height="109.95" fill="url(#pDotC)" stroke="#000" stroke-width="2.5" stroke-linejoin="round"/>
<line x1="366.0" y1="2013.2" x2="366.0" y2="2033.0" stroke="#000" stroke-width="2.4"/>
<line x1="361.4" y1="2013.2" x2="370.6" y2="2013.2" stroke="#000" stroke-width="2.4" stroke-linecap="round"/>
<rect x="356.75" y="2033.25" width="18.50" height="73.75" fill="url(#pDiagC)" stroke="#000" stroke-width="2.5" stroke-linejoin="round"/>
<line x1="411.6" y1="1882.0000000000002" x2="411.6" y2="1889.8000000000002" stroke="#000" stroke-width="2.4"/>
<line x1="407.0" y1="1882.0000000000002" x2="416.20000000000005" y2="1882.0000000000002" stroke="#000" stroke-width="2.4" stroke-linecap="round"/>
<rect x="402.45" y="1890.05" width="18.30" height="216.95" fill="url(#pDotC)" stroke="#000" stroke-width="2.5" stroke-linejoin="round"/>
<line x1="439.3" y1="1965.7" x2="439.3" y2="1987.8000000000002" stroke="#000" stroke-width="2.4"/>
<line x1="434.7" y1="1965.7" x2="443.90000000000003" y2="1965.7" stroke="#000" stroke-width="2.4" stroke-linecap="round"/>
<rect x="430.05" y="1988.05" width="18.50" height="118.95" fill="url(#pDiagC)" stroke="#000" stroke-width="2.5" stroke-linejoin="round"/>
<text font-size="23.4" text-anchor="middle" font-weight="bold" transform="translate(278.5 1831.9) scale(1 1.04)" stroke="#000" stroke-width="0.2">AX-OH-1</text>
<text font-size="18.5" text-anchor="middle" font-weight="bold" transform="translate(279.2 2163.4) scale(1 1.04)" stroke="#000" stroke-width="0.2">Time (Hours)</text>
<text font-size="16.5" text-anchor="middle" font-weight="bold" transform="translate(14.200000000000003 1982.4) rotate(-90) scale(1 1.04)" stroke="#000" stroke-width="0.2" textLength="229" lengthAdjust="spacingAndGlyphs">Area Migrated (Arbitary Units)</text>
<rect x="120.40" y="1866.20" width="26.50" height="14.80" fill="url(#pDotC)" stroke="#000" stroke-width="2.5"/>
<rect x="120.40" y="1895.60" width="26.50" height="19.60" fill="url(#pDiagC)" stroke="#000" stroke-width="2.5"/>
<text font-size="20.1" transform="translate(161.2 1879.9) scale(1 1.04)" stroke="#000" stroke-width="0.3" textLength="67.2" lengthAdjust="spacingAndGlyphs">Vehicle</text>
<text font-size="20.1" transform="translate(161.2 1909.4) scale(1 1.04)" stroke="#000" stroke-width="0.3" textLength="167.6" lengthAdjust="spacingAndGlyphs">AJ-5 IC<tspan font-size="15.5" dy="5.5">50</tspan><tspan dy="-5.5"> (0.15µM)</tspan></text>
<path d="M412.1,1876.5 V1855.3 H439.90000000000003 V1961.5" fill="none" stroke="#000" stroke-width="2"/>
<text font-size="21.5" text-anchor="middle" transform="translate(426.6 1858) scale(1 1.04)" stroke="#000" stroke-width="0.3">*</text>
<line x1="922.0" y1="1439.7" x2="922.0" y2="1689.1" stroke="#000" stroke-width="3"/>
<line x1="912.4" y1="1687.6" x2="1289.0" y2="1687.6" stroke="#000" stroke-width="3"/>
<line x1="912.4" y1="1687.6" x2="922.0" y2="1687.6" stroke="#000" stroke-width="3"/>
<text font-size="17.8" text-anchor="end" font-weight="bold" transform="translate(910.8 1694.0) scale(1 1.04)" stroke="#000" stroke-width="0.2">0</text>
<line x1="912.4" y1="1626.1" x2="922.0" y2="1626.1" stroke="#000" stroke-width="3"/>
<text font-size="17.8" text-anchor="end" font-weight="bold" transform="translate(911.4 1633.6999999999998) scale(1 1.04)" stroke="#000" stroke-width="0.2">2×10<tspan font-size="13" dy="-6.9">5</tspan></text>
<line x1="912.4" y1="1564.6" x2="922.0" y2="1564.6" stroke="#000" stroke-width="3"/>
<text font-size="17.8" text-anchor="end" font-weight="bold" transform="translate(911.4 1572.1999999999998) scale(1 1.04)" stroke="#000" stroke-width="0.2">4×10<tspan font-size="13" dy="-6.9">5</tspan></text>
<line x1="912.4" y1="1503.1" x2="922.0" y2="1503.1" stroke="#000" stroke-width="3"/>
<text font-size="17.8" text-anchor="end" font-weight="bold" transform="translate(911.4 1510.6999999999998) scale(1 1.04)" stroke="#000" stroke-width="0.2">6×10<tspan font-size="13" dy="-6.9">5</tspan></text>
<line x1="912.4" y1="1441.6" x2="922.0" y2="1441.6" stroke="#000" stroke-width="3"/>
<text font-size="17.8" text-anchor="end" font-weight="bold" transform="translate(911.4 1449.1999999999998) scale(1 1.04)" stroke="#000" stroke-width="0.2">8×10<tspan font-size="13" dy="-6.9">5</tspan></text>
<line x1="958.0" y1="1687.6" x2="958.0" y2="1697.6" stroke="#000" stroke-width="3"/>
<text font-size="18" text-anchor="middle" font-weight="bold" transform="translate(958.0 1715.0) scale(1 1.04)" stroke="#000" stroke-width="0.2">3</text>
<line x1="1031.3" y1="1687.6" x2="1031.3" y2="1697.6" stroke="#000" stroke-width="3"/>
<text font-size="18" text-anchor="middle" font-weight="bold" transform="translate(1031.3 1715.0) scale(1 1.04)" stroke="#000" stroke-width="0.2">6</text>
<line x1="1104.7" y1="1687.6" x2="1104.7" y2="1697.6" stroke="#000" stroke-width="3"/>
<text font-size="18" text-anchor="middle" font-weight="bold" transform="translate(1104.7 1715.0) scale(1 1.04)" stroke="#000" stroke-width="0.2">9</text>
<line x1="1178.0" y1="1687.6" x2="1178.0" y2="1697.6" stroke="#000" stroke-width="3"/>
<text font-size="18" text-anchor="middle" font-weight="bold" transform="translate(1178.0 1715.0) scale(1 1.04)" stroke="#000" stroke-width="0.2">12</text>
<line x1="1251.3" y1="1687.6" x2="1251.3" y2="1697.6" stroke="#000" stroke-width="3"/>
<text font-size="18" text-anchor="middle" font-weight="bold" transform="translate(1251.3 1715.0) scale(1 1.04)" stroke="#000" stroke-width="0.2">24</text>
<line x1="944.3" y1="1660.5" x2="944.3" y2="1666.8" stroke="#000" stroke-width="2.4"/>
<line x1="939.7" y1="1660.5" x2="948.8999999999999" y2="1660.5" stroke="#000" stroke-width="2.4" stroke-linecap="round"/>
<rect x="935.15" y="1667.05" width="18.30" height="20.55" fill="url(#pDotC)" stroke="#000" stroke-width="2.5" stroke-linejoin="round"/>
<line x1="972.0" y1="1657.0" x2="972.0" y2="1665.3" stroke="#000" stroke-width="2.4"/>
<line x1="967.4000000000001" y1="1657.0" x2="976.5999999999999" y2="1657.0" stroke="#000" stroke-width="2.4" stroke-linecap="round"/>
<rect x="962.75" y="1665.55" width="18.50" height="22.05" fill="url(#pDiagC)" stroke="#000" stroke-width="2.5" stroke-linejoin="round"/>
<line x1="1017.5999999999999" y1="1626.7" x2="1017.5999999999999" y2="1641.5" stroke="#000" stroke-width="2.4"/>
<line x1="1013.0" y1="1626.7" x2="1022.1999999999998" y2="1626.7" stroke="#000" stroke-width="2.4" stroke-linecap="round"/>
<rect x="1008.45" y="1641.75" width="18.30" height="45.85" fill="url(#pDotC)" stroke="#000" stroke-width="2.5" stroke-linejoin="round"/>
<line x1="1045.3" y1="1630.5" x2="1045.3" y2="1643" stroke="#000" stroke-width="2.4"/>
<line x1="1040.7" y1="1630.5" x2="1049.8999999999999" y2="1630.5" stroke="#000" stroke-width="2.4" stroke-linecap="round"/>
<rect x="1036.05" y="1643.25" width="18.50" height="44.35" fill="url(#pDiagC)" stroke="#000" stroke-width="2.5" stroke-linejoin="round"/>
<line x1="1091.0" y1="1599.2" x2="1091.0" y2="1614.3" stroke="#000" stroke-width="2.4"/>
<line x1="1086.4" y1="1599.2" x2="1095.6" y2="1599.2" stroke="#000" stroke-width="2.4" stroke-linecap="round"/>
<rect x="1081.85" y="1614.55" width="18.30" height="73.05" fill="url(#pDotC)" stroke="#000" stroke-width="2.5" stroke-linejoin="round"/>
<line x1="1118.7" y1="1610.5" x2="1118.7" y2="1621" stroke="#000" stroke-width="2.4"/>
<line x1="1114.1000000000001" y1="1610.5" x2="1123.3" y2="1610.5" stroke="#000" stroke-width="2.4" stroke-linecap="round"/>
<rect x="1109.45" y="1621.25" width="18.50" height="66.35" fill="url(#pDiagC)" stroke="#000" stroke-width="2.5" stroke-linejoin="round"/>
<line x1="1164.3" y1="1553.2" x2="1164.3" y2="1581.8" stroke="#000" stroke-width="2.4"/>
<line x1="1159.7" y1="1553.2" x2="1168.8999999999999" y2="1553.2" stroke="#000" stroke-width="2.4" stroke-linecap="round"/>
<rect x="1155.15" y="1582.05" width="18.30" height="105.55" fill="url(#pDotC)" stroke="#000" stroke-width="2.5" stroke-linejoin="round"/>
<line x1="1192.0" y1="1584.5" x2="1192.0" y2="1603.5" stroke="#000" stroke-width="2.4"/>
<line x1="1187.4" y1="1584.5" x2="1196.6" y2="1584.5" stroke="#000" stroke-width="2.4" stroke-linecap="round"/>
<rect x="1182.75" y="1603.75" width="18.50" height="83.85" fill="url(#pDiagC)" stroke="#000" stroke-width="2.5" stroke-linejoin="round"/>
<line x1="1237.6" y1="1469.2" x2="1237.6" y2="1496" stroke="#000" stroke-width="2.4"/>
<line x1="1233.0" y1="1469.2" x2="1242.1999999999998" y2="1469.2" stroke="#000" stroke-width="2.4" stroke-linecap="round"/>
<rect x="1228.45" y="1496.25" width="18.30" height="191.35" fill="url(#pDotC)" stroke="#000" stroke-width="2.5" stroke-linejoin="round"/>
<line x1="1265.3" y1="1521.7" x2="1265.3" y2="1552.8" stroke="#000" stroke-width="2.4"/>
<line x1="1260.7" y1="1521.7" x2="1269.8999999999999" y2="1521.7" stroke="#000" stroke-width="2.4" stroke-linecap="round"/>
<rect x="1256.05" y="1553.05" width="18.50" height="134.55" fill="url(#pDiagC)" stroke="#000" stroke-width="2.5" stroke-linejoin="round"/>
<text font-size="23.4" text-anchor="middle" font-weight="bold" transform="translate(1106 1412.5) scale(1 1.04)" stroke="#000" stroke-width="0.2">RD</text>
<text font-size="18.5" text-anchor="middle" font-weight="bold" transform="translate(1105.2 1744) scale(1 1.04)" stroke="#000" stroke-width="0.2">Time (Hours)</text>
<text font-size="16.5" text-anchor="middle" font-weight="bold" transform="translate(840.2 1563) rotate(-90) scale(1 1.04)" stroke="#000" stroke-width="0.2" textLength="229" lengthAdjust="spacingAndGlyphs">Area Migrated (Arbitary Units)</text>
<rect x="946.40" y="1446.80" width="26.50" height="14.80" fill="url(#pDotC)" stroke="#000" stroke-width="2.5"/>
<rect x="946.40" y="1476.20" width="26.50" height="19.60" fill="url(#pDiagC)" stroke="#000" stroke-width="2.5"/>
<text font-size="20.1" transform="translate(987.2 1460.5) scale(1 1.04)" stroke="#000" stroke-width="0.3" textLength="67.2" lengthAdjust="spacingAndGlyphs">Vehicle</text>
<text font-size="20.1" transform="translate(987.2 1490) scale(1 1.04)" stroke="#000" stroke-width="0.3" textLength="167.6" lengthAdjust="spacingAndGlyphs">AJ-5 IC<tspan font-size="15.5" dy="5.5">50</tspan><tspan dy="-5.5"> (0.20µM)</tspan></text>
<line x1="922.0" y1="1859.1" x2="922.0" y2="2108.5" stroke="#000" stroke-width="3"/>
<line x1="912.4" y1="2107.0" x2="1289.0" y2="2107.0" stroke="#000" stroke-width="3"/>
<line x1="912.4" y1="2107.0" x2="922.0" y2="2107.0" stroke="#000" stroke-width="3"/>
<text font-size="17.8" text-anchor="end" font-weight="bold" transform="translate(910.8 2113.4) scale(1 1.04)" stroke="#000" stroke-width="0.2">0</text>
<line x1="912.4" y1="2045.5" x2="922.0" y2="2045.5" stroke="#000" stroke-width="3"/>
<text font-size="17.8" text-anchor="end" font-weight="bold" transform="translate(911.4 2053.1) scale(1 1.04)" stroke="#000" stroke-width="0.2">2×10<tspan font-size="13" dy="-6.9">5</tspan></text>
<line x1="912.4" y1="1984.0" x2="922.0" y2="1984.0" stroke="#000" stroke-width="3"/>
<text font-size="17.8" text-anchor="end" font-weight="bold" transform="translate(911.4 1991.6) scale(1 1.04)" stroke="#000" stroke-width="0.2">4×10<tspan font-size="13" dy="-6.9">5</tspan></text>
<line x1="912.4" y1="1922.5" x2="922.0" y2="1922.5" stroke="#000" stroke-width="3"/>
<text font-size="17.8" text-anchor="end" font-weight="bold" transform="translate(911.4 1930.1) scale(1 1.04)" stroke="#000" stroke-width="0.2">6×10<tspan font-size="13" dy="-6.9">5</tspan></text>
<line x1="912.4" y1="1861.0" x2="922.0" y2="1861.0" stroke="#000" stroke-width="3"/>
<text font-size="17.8" text-anchor="end" font-weight="bold" transform="translate(911.4 1868.6) scale(1 1.04)" stroke="#000" stroke-width="0.2">8×10<tspan font-size="13" dy="-6.9">5</tspan></text>
<line x1="958.0" y1="2107.0" x2="958.0" y2="2117.0" stroke="#000" stroke-width="3"/>
<text font-size="18" text-anchor="middle" font-weight="bold" transform="translate(958.0 2134.4) scale(1 1.04)" stroke="#000" stroke-width="0.2">3</text>
<line x1="1031.3" y1="2107.0" x2="1031.3" y2="2117.0" stroke="#000" stroke-width="3"/>
<text font-size="18" text-anchor="middle" font-weight="bold" transform="translate(1031.3 2134.4) scale(1 1.04)" stroke="#000" stroke-width="0.2">6</text>
<line x1="1104.7" y1="2107.0" x2="1104.7" y2="2117.0" stroke="#000" stroke-width="3"/>
<text font-size="18" text-anchor="middle" font-weight="bold" transform="translate(1104.7 2134.4) scale(1 1.04)" stroke="#000" stroke-width="0.2">9</text>
<line x1="1178.0" y1="2107.0" x2="1178.0" y2="2117.0" stroke="#000" stroke-width="3"/>
<text font-size="18" text-anchor="middle" font-weight="bold" transform="translate(1178.0 2134.4) scale(1 1.04)" stroke="#000" stroke-width="0.2">12</text>
<line x1="1251.3" y1="2107.0" x2="1251.3" y2="2117.0" stroke="#000" stroke-width="3"/>
<text font-size="18" text-anchor="middle" font-weight="bold" transform="translate(1251.3 2134.4) scale(1 1.04)" stroke="#000" stroke-width="0.2">24</text>
<line x1="944.3" y1="2035.0000000000002" x2="944.3" y2="2047.3000000000002" stroke="#000" stroke-width="2.4"/>
<line x1="939.7" y1="2035.0000000000002" x2="948.8999999999999" y2="2035.0000000000002" stroke="#000" stroke-width="2.4" stroke-linecap="round"/>
<rect x="935.15" y="2047.55" width="18.30" height="59.45" fill="url(#pDotC)" stroke="#000" stroke-width="2.5" stroke-linejoin="round"/>
<line x1="972.0" y1="2063.0" x2="972.0" y2="2075.3" stroke="#000" stroke-width="2.4"/>
<line x1="967.4000000000001" y1="2063.0" x2="976.5999999999999" y2="2063.0" stroke="#000" stroke-width="2.4" stroke-linecap="round"/>
<rect x="962.75" y="2075.55" width="18.50" height="31.45" fill="url(#pDiagC)" stroke="#000" stroke-width="2.5" stroke-linejoin="round"/>
<line x1="1017.5999999999999" y1="1977.0000000000002" x2="1017.5999999999999" y2="1999.8000000000002" stroke="#000" stroke-width="2.4"/>
<line x1="1013.0" y1="1977.0000000000002" x2="1022.1999999999998" y2="1977.0000000000002" stroke="#000" stroke-width="2.4" stroke-linecap="round"/>
<rect x="1008.45" y="2000.05" width="18.30" height="106.95" fill="url(#pDotC)" stroke="#000" stroke-width="2.5" stroke-linejoin="round"/>
<line x1="1045.3" y1="2033.2" x2="1045.3" y2="2052.8" stroke="#000" stroke-width="2.4"/>
<line x1="1040.7" y1="2033.2" x2="1049.8999999999999" y2="2033.2" stroke="#000" stroke-width="2.4" stroke-linecap="round"/>
<rect x="1036.05" y="2053.05" width="18.50" height="53.95" fill="url(#pDiagC)" stroke="#000" stroke-width="2.5" stroke-linejoin="round"/>
<line x1="1091.0" y1="1947.0000000000002" x2="1091.0" y2="1970.5" stroke="#000" stroke-width="2.4"/>
<line x1="1086.4" y1="1947.0000000000002" x2="1095.6" y2="1947.0000000000002" stroke="#000" stroke-width="2.4" stroke-linecap="round"/>
<rect x="1081.85" y="1970.75" width="18.30" height="136.25" fill="url(#pDotC)" stroke="#000" stroke-width="2.5" stroke-linejoin="round"/>
<line x1="1118.7" y1="2003.7" x2="1118.7" y2="2031.0" stroke="#000" stroke-width="2.4"/>
<line x1="1114.1000000000001" y1="2003.7" x2="1123.3" y2="2003.7" stroke="#000" stroke-width="2.4" stroke-linecap="round"/>
<rect x="1109.45" y="2031.25" width="18.50" height="75.75" fill="url(#pDiagC)" stroke="#000" stroke-width="2.5" stroke-linejoin="round"/>
<line x1="1164.3" y1="1922.5000000000002" x2="1164.3" y2="1934.8000000000002" stroke="#000" stroke-width="2.4"/>
<line x1="1159.7" y1="1922.5000000000002" x2="1168.8999999999999" y2="1922.5000000000002" stroke="#000" stroke-width="2.4" stroke-linecap="round"/>
<rect x="1155.15" y="1935.05" width="18.30" height="171.95" fill="url(#pDotC)" stroke="#000" stroke-width="2.5" stroke-linejoin="round"/>
<line x1="1192.0" y1="1977.5000000000002" x2="1192.0" y2="1997.3000000000002" stroke="#000" stroke-width="2.4"/>
<line x1="1187.4" y1="1977.5000000000002" x2="1196.6" y2="1977.5000000000002" stroke="#000" stroke-width="2.4" stroke-linecap="round"/>
<rect x="1182.75" y="1997.55" width="18.50" height="109.45" fill="url(#pDiagC)" stroke="#000" stroke-width="2.5" stroke-linejoin="round"/>
<line x1="1237.6" y1="1906.7" x2="1237.6" y2="1914.8000000000002" stroke="#000" stroke-width="2.4"/>
<line x1="1233.0" y1="1906.7" x2="1242.1999999999998" y2="1906.7" stroke="#000" stroke-width="2.4" stroke-linecap="round"/>
<rect x="1228.45" y="1915.05" width="18.30" height="191.95" fill="url(#pDotC)" stroke="#000" stroke-width="2.5" stroke-linejoin="round"/>
<line x1="1265.3" y1="1916.7" x2="1265.3" y2="1941.5" stroke="#000" stroke-width="2.4"/>
<line x1="1260.7" y1="1916.7" x2="1269.8999999999999" y2="1916.7" stroke="#000" stroke-width="2.4" stroke-linecap="round"/>
<rect x="1256.05" y="1941.75" width="18.50" height="165.25" fill="url(#pDiagC)" stroke="#000" stroke-width="2.5" stroke-linejoin="round"/>
<text font-size="23.4" text-anchor="middle" font-weight="bold" transform="translate(1105 1831.9) scale(1 1.04)" stroke="#000" stroke-width="0.2">FL-OH-1</text>
<text font-size="18.5" text-anchor="middle" font-weight="bold" transform="translate(1105.2 2163.4) scale(1 1.04)" stroke="#000" stroke-width="0.2">Time (Hours)</text>
<text font-size="16.5" text-anchor="middle" font-weight="bold" transform="translate(840.2 1982.4) rotate(-90) scale(1 1.04)" stroke="#000" stroke-width="0.2" textLength="229" lengthAdjust="spacingAndGlyphs">Area Migrated (Arbitary Units)</text>
<rect x="946.40" y="1866.20" width="26.50" height="14.80" fill="url(#pDotC)" stroke="#000" stroke-width="2.5"/>
<rect x="946.40" y="1895.60" width="26.50" height="19.60" fill="url(#pDiagC)" stroke="#000" stroke-width="2.5"/>
<text font-size="20.1" transform="translate(987.2 1879.9) scale(1 1.04)" stroke="#000" stroke-width="0.3" textLength="67.2" lengthAdjust="spacingAndGlyphs">Vehicle</text>
<text font-size="20.1" transform="translate(987.2 1909.4) scale(1 1.04)" stroke="#000" stroke-width="0.3" textLength="167.6" lengthAdjust="spacingAndGlyphs">AJ-5 IC<tspan font-size="15.5" dy="5.5">50</tspan><tspan dy="-5.5"> (0.10µM)</tspan></text>
<text font-size="29.1" text-anchor="middle" transform="translate(562.6 1400.9) scale(1 1.04)" stroke="#000" stroke-width="0.3">Vehicle</text>
<text font-size="29.1" transform="translate(645 1400.9) scale(1 1.04)" stroke="#000" stroke-width="0.3">IC<tspan font-size="17" dy="9.3">50</tspan><tspan dy="-9.3"> AJ-5</tspan></text>
<text font-size="30.2" text-anchor="middle" transform="translate(487.6 1480) rotate(-90) scale(1 1.04)" stroke="#000" stroke-width="0.3">T0</text>
<text font-size="30.2" text-anchor="middle" transform="translate(487.6 1620.5) rotate(-90) scale(1 1.04)" stroke="#000" stroke-width="0.3">T24</text>
<text font-size="29.1" text-anchor="middle" transform="translate(562.6 1820.2) scale(1 1.04)" stroke="#000" stroke-width="0.3">Vehicle</text>
<text font-size="29.1" transform="translate(645 1820.2) scale(1 1.04)" stroke="#000" stroke-width="0.3">IC<tspan font-size="17" dy="9.3">50</tspan><tspan dy="-9.3"> AJ-5</tspan></text>
<text font-size="30.2" text-anchor="middle" transform="translate(487.6 1899.3) rotate(-90) scale(1 1.04)" stroke="#000" stroke-width="0.3">T0</text>
<text font-size="30.2" text-anchor="middle" transform="translate(487.6 2039.8) rotate(-90) scale(1 1.04)" stroke="#000" stroke-width="0.3">T24</text>
<text font-size="29.1" text-anchor="middle" transform="translate(1388.6 1400.9) scale(1 1.04)" stroke="#000" stroke-width="0.3">Vehicle</text>
<text font-size="29.1" transform="translate(1471 1400.9) scale(1 1.04)" stroke="#000" stroke-width="0.3">IC<tspan font-size="17" dy="9.3">50</tspan><tspan dy="-9.3"> AJ-5</tspan></text>
<text font-size="30.2" text-anchor="middle" transform="translate(1313.6 1480) rotate(-90) scale(1 1.04)" stroke="#000" stroke-width="0.3">T0</text>
<text font-size="30.2" text-anchor="middle" transform="translate(1313.6 1620.5) rotate(-90) scale(1 1.04)" stroke="#000" stroke-width="0.3">T24</text>
<text font-size="29.1" text-anchor="middle" transform="translate(1388.6 1820.2) scale(1 1.04)" stroke="#000" stroke-width="0.3">Vehicle</text>
<text font-size="29.1" transform="translate(1471 1820.2) scale(1 1.04)" stroke="#000" stroke-width="0.3">IC<tspan font-size="17" dy="9.3">50</tspan><tspan dy="-9.3"> AJ-5</tspan></text>
<text font-size="30.2" text-anchor="middle" transform="translate(1313.6 1899.3) rotate(-90) scale(1 1.04)" stroke="#000" stroke-width="0.3">T0</text>
<text font-size="30.2" text-anchor="middle" transform="translate(1313.6 2039.8) rotate(-90) scale(1 1.04)" stroke="#000" stroke-width="0.3">T24</text>
<g clip-path="url(#mc1)">
<rect x="466.5" y="1385.4" width="190" height="190" fill="#888" filter="url(#mf1)" transform="rotate(52.4 561.5 1480.4)"/>
<path d="M524.4,1413.7 Q524.4,1416.5 524.4,1417.9 Q524.4,1419.2 524.3,1420.6 Q524.2,1422.0 524.3,1423.8 Q524.4,1425.5 525.1,1427.3 Q525.8,1429.1 525.6,1430.2 Q525.4,1431.2 525.7,1432.9 Q526.0,1434.5 525.2,1436.3 Q524.5,1438.0 524.6,1439.7 Q524.8,1441.3 526.1,1443.4 Q527.3,1445.6 526.5,1447.3 Q525.8,1449.1 526.3,1450.7 Q526.8,1452.3 526.7,1454.0 Q526.6,1455.6 526.8,1457.4 Q526.9,1459.1 526.0,1461.4 Q525.0,1463.7 524.2,1465.2 Q523.3,1466.6 524.9,1468.0 Q526.5,1469.4 526.7,1471.2 Q526.9,1472.9 526.9,1474.4 Q526.8,1475.8 526.0,1477.5 Q525.3,1479.1 525.5,1481.2 Q525.8,1483.3 526.3,1485.1 Q526.8,1486.9 526.8,1488.4 Q526.8,1489.8 527.6,1491.9 Q528.3,1494.0 528.2,1495.3 Q528.1,1496.6 529.0,1498.5 Q529.9,1500.4 529.9,1502.4 Q529.8,1504.4 529.6,1506.1 Q529.3,1507.8 529.1,1509.8 Q529.0,1511.8 529.9,1513.5 Q530.9,1515.2 529.7,1516.5 Q528.5,1517.9 529.1,1520.2 Q529.7,1522.5 529.8,1524.0 Q530.0,1525.5 530.1,1527.5 Q530.3,1529.6 531.1,1531.2 Q532.0,1532.8 532.0,1534.8 Q532.0,1536.8 530.9,1538.3 Q529.8,1539.9 530.6,1541.8 Q531.3,1543.7 531.3,1545.4 L531.3,1547.0 L594.2,1547.0 Q594.2,1543.7 593.6,1542.2 Q593.0,1540.7 594.2,1539.1 Q595.4,1537.5 594.2,1535.8 Q593.1,1534.1 594.5,1532.5 Q595.9,1530.9 595.8,1529.6 Q595.7,1528.4 595.8,1526.8 Q595.8,1525.3 595.7,1523.4 Q595.6,1521.4 594.4,1520.1 Q593.2,1518.8 593.5,1516.7 Q593.8,1514.6 594.3,1513.0 Q594.8,1511.3 593.6,1509.4 Q592.3,1507.5 592.7,1505.9 Q593.0,1504.3 593.7,1502.2 Q594.4,1500.1 594.1,1498.4 Q593.8,1496.7 593.2,1495.0 Q592.7,1493.2 592.7,1491.7 Q592.6,1490.1 592.6,1488.3 Q592.5,1486.4 593.0,1484.5 Q593.4,1482.6 592.7,1481.2 Q591.9,1479.8 591.9,1477.8 Q591.9,1475.9 591.3,1474.5 Q590.7,1473.2 590.4,1471.9 Q590.2,1470.6 590.3,1468.8 Q590.3,1467.1 590.6,1465.5 Q590.9,1464.0 590.2,1462.2 Q589.4,1460.4 589.9,1458.6 Q590.4,1456.9 589.8,1455.7 Q589.3,1454.6 590.6,1452.4 Q592.0,1450.2 591.8,1448.5 Q591.7,1446.7 591.1,1445.2 Q590.4,1443.7 591.7,1442.1 Q593.0,1440.6 593.1,1439.2 Q593.3,1437.8 593.7,1436.2 Q594.1,1434.6 593.4,1432.8 Q592.8,1431.0 593.6,1429.5 Q594.4,1427.9 594.5,1425.9 Q594.5,1423.9 593.4,1422.2 Q592.3,1420.5 593.1,1418.5 Q593.8,1416.5 593.8,1415.1 L593.8,1413.7 Z" fill="url(#mg1)"/>
<path d="M524.4,1413.7 Q524.4,1416.5 524.4,1417.9 Q524.4,1419.2 524.3,1420.6 Q524.2,1422.0 524.3,1423.8 Q524.4,1425.5 525.1,1427.3 Q525.8,1429.1 525.6,1430.2 Q525.4,1431.2 525.7,1432.9 Q526.0,1434.5 525.2,1436.3 Q524.5,1438.0 524.6,1439.7 Q524.8,1441.3 526.1,1443.4 Q527.3,1445.6 526.5,1447.3 Q525.8,1449.1 526.3,1450.7 Q526.8,1452.3 526.7,1454.0 Q526.6,1455.6 526.8,1457.4 Q526.9,1459.1 526.0,1461.4 Q525.0,1463.7 524.2,1465.2 Q523.3,1466.6 524.9,1468.0 Q526.5,1469.4 526.7,1471.2 Q526.9,1472.9 526.9,1474.4 Q526.8,1475.8 526.0,1477.5 Q525.3,1479.1 525.5,1481.2 Q525.8,1483.3 526.3,1485.1 Q526.8,1486.9 526.8,1488.4 Q526.8,1489.8 527.6,1491.9 Q528.3,1494.0 528.2,1495.3 Q528.1,1496.6 529.0,1498.5 Q529.9,1500.4 529.9,1502.4 Q529.8,1504.4 529.6,1506.1 Q529.3,1507.8 529.1,1509.8 Q529.0,1511.8 529.9,1513.5 Q530.9,1515.2 529.7,1516.5 Q528.5,1517.9 529.1,1520.2 Q529.7,1522.5 529.8,1524.0 Q530.0,1525.5 530.1,1527.5 Q530.3,1529.6 531.1,1531.2 Q532.0,1532.8 532.0,1534.8 Q532.0,1536.8 530.9,1538.3 Q529.8,1539.9 530.6,1541.8 Q531.3,1543.7 531.3,1545.4 L531.3,1547.0" fill="none" stroke="#fff" stroke-width="2.1" stroke-linejoin="round"/>
<path d="M593.8,1413.7 Q593.8,1416.5 593.1,1418.5 Q592.3,1420.5 593.4,1422.2 Q594.5,1423.9 594.5,1425.9 Q594.4,1427.9 593.6,1429.5 Q592.8,1431.0 593.4,1432.8 Q594.1,1434.6 593.7,1436.2 Q593.3,1437.8 593.1,1439.2 Q593.0,1440.6 591.7,1442.1 Q590.4,1443.7 591.1,1445.2 Q591.7,1446.7 591.8,1448.5 Q592.0,1450.2 590.6,1452.4 Q589.3,1454.6 589.8,1455.7 Q590.4,1456.9 589.9,1458.6 Q589.4,1460.4 590.2,1462.2 Q590.9,1464.0 590.6,1465.5 Q590.3,1467.1 590.3,1468.8 Q590.2,1470.6 590.4,1471.9 Q590.7,1473.2 591.3,1474.5 Q591.9,1475.9 591.9,1477.8 Q591.9,1479.8 592.7,1481.2 Q593.4,1482.6 593.0,1484.5 Q592.5,1486.4 592.6,1488.3 Q592.6,1490.1 592.7,1491.7 Q592.7,1493.2 593.2,1495.0 Q593.8,1496.7 594.1,1498.4 Q594.4,1500.1 593.7,1502.2 Q593.0,1504.3 592.7,1505.9 Q592.3,1507.5 593.6,1509.4 Q594.8,1511.3 594.3,1513.0 Q593.8,1514.6 593.5,1516.7 Q593.2,1518.8 594.4,1520.1 Q595.6,1521.4 595.7,1523.4 Q595.8,1525.3 595.8,1526.8 Q595.7,1528.4 595.8,1529.6 Q595.9,1530.9 594.5,1532.5 Q593.1,1534.1 594.2,1535.8 Q595.4,1537.5 594.2,1539.1 Q593.0,1540.7 593.6,1542.2 Q594.2,1543.7 594.2,1545.4 L594.2,1547.0" fill="none" stroke="#fff" stroke-width="2.1" stroke-linejoin="round"/>
<circle cx="551.4" cy="1458.4" r="2" fill="#050505"/>
<circle cx="541.6" cy="1474.8" r="1.6" fill="#9a9a9a" stroke="#7c7c7c" stroke-width="0.7"/>
<circle cx="564.8" cy="1465.0" r="1.4" fill="#9a9a9a" stroke="#7c7c7c" stroke-width="0.7"/>
<circle cx="582.3" cy="1488.1" r="1.6" fill="#9a9a9a" stroke="#7c7c7c" stroke-width="0.7"/>
<circle cx="552.7" cy="1493.5" r="1.5" fill="#9a9a9a" stroke="#7c7c7c" stroke-width="0.7"/>
<circle cx="571.0" cy="1488.1" r="1.4" fill="#989898" stroke="#7c7c7c" stroke-width="0.7"/>
<circle cx="535.9" cy="1505.1" r="1.4" fill="#9a9a9a" stroke="#7a7a7a" stroke-width="0.7"/>
<circle cx="534.5" cy="1522.0" r="1.4" fill="#989898" stroke="#7a7a7a" stroke-width="0.7"/>
</g>
<rect x="496.50" y="1415.20" width="130.00" height="130.30" fill="none" stroke="#000" stroke-width="3.0"/>
<g clip-path="url(#mc2)">
<rect x="607.6" y="1385.4" width="190" height="190" fill="#888" filter="url(#mf2)" transform="rotate(-52.1 702.6 1480.4)"/>
<path d="M679.0,1413.7 Q679.0,1416.5 679.1,1418.4 Q679.1,1420.3 678.7,1422.4 Q678.3,1424.5 676.5,1426.1 Q674.7,1427.7 675.4,1429.2 Q676.1,1430.6 676.8,1432.2 Q677.6,1433.8 677.6,1434.9 Q677.5,1435.9 678.5,1438.1 Q679.5,1440.2 679.7,1441.8 Q680.0,1443.3 679.5,1445.2 Q679.1,1447.1 679.4,1449.0 Q679.7,1450.9 678.8,1452.7 Q677.9,1454.6 677.6,1456.3 Q677.4,1458.0 676.4,1459.5 Q675.5,1461.0 676.9,1462.7 Q678.4,1464.4 678.5,1466.5 Q678.6,1468.7 679.0,1470.5 Q679.4,1472.4 679.2,1474.1 Q679.1,1475.8 679.1,1477.1 Q679.1,1478.4 677.5,1480.5 Q675.8,1482.6 675.5,1483.9 Q675.1,1485.2 675.6,1487.0 Q676.0,1488.8 674.9,1490.2 Q673.8,1491.6 674.5,1493.0 Q675.3,1494.3 675.9,1495.9 Q676.6,1497.6 675.7,1499.7 Q674.9,1501.8 674.7,1503.3 Q674.5,1504.8 674.6,1506.2 Q674.7,1507.6 675.2,1509.0 Q675.6,1510.5 675.1,1512.3 Q674.5,1514.1 674.7,1515.8 Q674.8,1517.5 674.0,1518.9 Q673.2,1520.3 673.8,1522.0 Q674.4,1523.7 674.8,1525.1 Q675.3,1526.6 675.1,1528.8 Q674.9,1530.9 674.7,1532.6 Q674.5,1534.3 674.2,1535.6 Q673.9,1536.9 674.7,1538.6 Q675.5,1540.3 675.3,1542.0 Q675.1,1543.7 675.1,1545.4 L675.1,1547.0 L721.4,1547.0 Q721.4,1543.7 721.7,1541.8 Q722.0,1539.9 722.5,1538.6 Q722.9,1537.2 723.5,1535.5 Q724.1,1533.8 723.8,1531.9 Q723.4,1530.1 724.3,1528.5 Q725.2,1526.9 726.1,1525.2 Q727.0,1523.5 726.1,1522.0 Q725.2,1520.5 725.5,1518.5 Q725.9,1516.6 725.0,1514.9 Q724.1,1513.2 724.2,1511.6 Q724.3,1509.9 726.1,1508.8 Q727.8,1507.7 730.0,1507.1 Q732.2,1506.4 730.4,1505.0 Q728.6,1503.6 727.4,1502.0 Q726.3,1500.4 727.1,1499.0 Q728.0,1497.5 728.5,1496.2 Q729.0,1494.9 728.3,1493.2 Q727.6,1491.6 728.7,1489.8 Q729.7,1488.0 729.4,1486.4 Q729.1,1484.7 730.4,1483.4 Q731.7,1482.1 730.9,1480.4 Q730.1,1478.7 730.2,1477.4 Q730.3,1476.1 731.8,1474.8 Q733.2,1473.6 732.6,1472.0 Q732.0,1470.5 732.4,1468.9 Q732.9,1467.3 732.5,1465.8 Q732.1,1464.3 731.0,1462.6 Q730.0,1461.0 730.2,1459.6 Q730.3,1458.3 730.9,1456.4 Q731.4,1454.5 731.2,1452.9 Q731.0,1451.3 731.0,1449.0 Q731.1,1446.7 731.2,1445.0 Q731.3,1443.2 731.4,1441.7 Q731.6,1440.1 730.1,1438.3 Q728.6,1436.4 729.2,1434.8 Q729.8,1433.1 730.3,1431.0 Q730.9,1428.8 730.0,1427.2 Q729.1,1425.5 729.6,1424.5 Q730.0,1423.5 729.9,1421.6 Q729.7,1419.6 729.1,1418.1 Q728.5,1416.5 728.5,1415.1 L728.5,1413.7 Z" fill="url(#mg2)"/>
<path d="M679.0,1413.7 Q679.0,1416.5 679.1,1418.4 Q679.1,1420.3 678.7,1422.4 Q678.3,1424.5 676.5,1426.1 Q674.7,1427.7 675.4,1429.2 Q676.1,1430.6 676.8,1432.2 Q677.6,1433.8 677.6,1434.9 Q677.5,1435.9 678.5,1438.1 Q679.5,1440.2 679.7,1441.8 Q680.0,1443.3 679.5,1445.2 Q679.1,1447.1 679.4,1449.0 Q679.7,1450.9 678.8,1452.7 Q677.9,1454.6 677.6,1456.3 Q677.4,1458.0 676.4,1459.5 Q675.5,1461.0 676.9,1462.7 Q678.4,1464.4 678.5,1466.5 Q678.6,1468.7 679.0,1470.5 Q679.4,1472.4 679.2,1474.1 Q679.1,1475.8 679.1,1477.1 Q679.1,1478.4 677.5,1480.5 Q675.8,1482.6 675.5,1483.9 Q675.1,1485.2 675.6,1487.0 Q676.0,1488.8 674.9,1490.2 Q673.8,1491.6 674.5,1493.0 Q675.3,1494.3 675.9,1495.9 Q676.6,1497.6 675.7,1499.7 Q674.9,1501.8 674.7,1503.3 Q674.5,1504.8 674.6,1506.2 Q674.7,1507.6 675.2,1509.0 Q675.6,1510.5 675.1,1512.3 Q674.5,1514.1 674.7,1515.8 Q674.8,1517.5 674.0,1518.9 Q673.2,1520.3 673.8,1522.0 Q674.4,1523.7 674.8,1525.1 Q675.3,1526.6 675.1,1528.8 Q674.9,1530.9 674.7,1532.6 Q674.5,1534.3 674.2,1535.6 Q673.9,1536.9 674.7,1538.6 Q675.5,1540.3 675.3,1542.0 Q675.1,1543.7 675.1,1545.4 L675.1,1547.0" fill="none" stroke="#fff" stroke-width="2.1" stroke-linejoin="round"/>
<path d="M728.5,1413.7 Q728.5,1416.5 729.1,1418.1 Q729.7,1419.6 729.9,1421.6 Q730.0,1423.5 729.6,1424.5 Q729.1,1425.5 730.0,1427.2 Q730.9,1428.8 730.3,1431.0 Q729.8,1433.1 729.2,1434.8 Q728.6,1436.4 730.1,1438.3 Q731.6,1440.1 731.4,1441.7 Q731.3,1443.2 731.2,1445.0 Q731.1,1446.7 731.0,1449.0 Q731.0,1451.3 731.2,1452.9 Q731.4,1454.5 730.9,1456.4 Q730.3,1458.3 730.2,1459.6 Q730.0,1461.0 731.0,1462.6 Q732.1,1464.3 732.5,1465.8 Q732.9,1467.3 732.4,1468.9 Q732.0,1470.5 732.6,1472.0 Q733.2,1473.6 731.8,1474.8 Q730.3,1476.1 730.2,1477.4 Q730.1,1478.7 730.9,1480.4 Q731.7,1482.1 730.4,1483.4 Q729.1,1484.7 729.4,1486.4 Q729.7,1488.0 728.7,1489.8 Q727.6,1491.6 728.3,1493.2 Q729.0,1494.9 728.5,1496.2 Q728.0,1497.5 727.1,1499.0 Q726.3,1500.4 727.4,1502.0 Q728.6,1503.6 730.4,1505.0 Q732.2,1506.4 730.0,1507.1 Q727.8,1507.7 726.1,1508.8 Q724.3,1509.9 724.2,1511.6 Q724.1,1513.2 725.0,1514.9 Q725.9,1516.6 725.5,1518.5 Q725.2,1520.5 726.1,1522.0 Q727.0,1523.5 726.1,1525.2 Q725.2,1526.9 724.3,1528.5 Q723.4,1530.1 723.8,1531.9 Q724.1,1533.8 723.5,1535.5 Q722.9,1537.2 722.5,1538.6 Q722.0,1539.9 721.7,1541.8 Q721.4,1543.7 721.4,1545.4 L721.4,1547.0" fill="none" stroke="#fff" stroke-width="2.1" stroke-linejoin="round"/>
<circle cx="741.0" cy="1431.7" r="1.6" fill="#111"/>
<circle cx="697.9" cy="1443.6" r="1.4" fill="#9a9a9a" stroke="#7e7e7e" stroke-width="0.7"/>
<circle cx="701.8" cy="1458.7" r="1.4" fill="#9a9a9a" stroke="#7e7e7e" stroke-width="0.7"/>
<circle cx="702.7" cy="1505.1" r="1.4" fill="#9a9a9a" stroke="#7e7e7e" stroke-width="0.7"/>
</g>
<rect x="637.60" y="1415.20" width="130.00" height="130.30" fill="none" stroke="#000" stroke-width="3.0"/>
<g clip-path="url(#mc3)">
<rect x="466.5" y="1526.4" width="190" height="190" fill="#888" filter="url(#mf3)" transform="rotate(55.2 561.5 1621.4)"/>
<rect x="498.0" y="1557.7" width="127.0" height="127.3" fill="url(#ms3)"/>
<circle cx="576.0" cy="1574.4" r="1.4" fill="#111"/>
</g>
<rect x="496.50" y="1556.20" width="130.00" height="130.30" fill="none" stroke="#000" stroke-width="3.0"/>
<g clip-path="url(#mc4)">
<rect x="607.6" y="1526.4" width="190" height="190" fill="#888" filter="url(#mf4)" transform="rotate(-52.9 702.6 1621.4)"/>
<path d="M696.5,1554.7 Q696.5,1557.5 697.1,1559.2 Q697.8,1560.9 698.2,1562.1 Q698.5,1563.3 698.3,1565.1 Q698.1,1566.9 698.0,1568.7 Q698.0,1570.4 697.8,1572.2 Q697.7,1573.9 697.3,1575.8 Q696.9,1577.7 698.2,1579.4 Q699.4,1581.0 700.5,1582.9 Q701.7,1584.8 701.7,1586.2 Q701.7,1587.6 701.4,1589.5 Q701.0,1591.3 701.5,1592.7 Q701.9,1594.2 702.1,1595.8 Q702.2,1597.5 702.3,1599.0 Q702.5,1600.5 701.3,1602.3 Q700.0,1604.2 699.2,1605.9 Q698.3,1607.6 698.3,1609.2 Q698.3,1610.7 698.6,1612.2 Q698.9,1613.7 698.6,1615.4 Q698.4,1617.2 698.7,1618.8 Q699.0,1620.4 698.9,1622.3 Q698.8,1624.1 699.1,1625.8 Q699.3,1627.4 700.1,1629.2 Q700.8,1630.9 700.8,1632.6 Q700.9,1634.2 701.2,1636.2 Q701.5,1638.2 701.8,1639.8 Q702.2,1641.3 702.0,1643.4 Q701.9,1645.4 701.8,1647.0 Q701.6,1648.5 702.0,1650.3 Q702.5,1652.1 702.0,1654.1 Q701.6,1656.0 702.0,1657.8 Q702.4,1659.6 701.3,1662.1 Q700.1,1664.6 700.3,1666.4 Q700.4,1668.2 700.5,1669.7 Q700.6,1671.2 700.5,1672.9 Q700.4,1674.5 700.8,1676.1 Q701.1,1677.8 701.1,1679.6 Q701.1,1681.4 701.0,1683.1 Q700.9,1684.7 700.9,1686.4 L700.9,1688.0 L706.3,1688.0 Q706.3,1684.7 705.9,1683.1 Q705.6,1681.5 705.4,1679.6 Q705.3,1677.7 705.6,1676.2 Q705.9,1674.6 705.2,1673.2 Q704.5,1671.7 704.9,1669.9 Q705.4,1668.2 705.1,1666.6 Q704.8,1665.1 705.5,1663.4 Q706.1,1661.7 707.0,1660.3 Q707.9,1658.9 708.6,1657.2 Q709.3,1655.5 709.8,1654.0 Q710.3,1652.6 710.2,1651.0 Q710.1,1649.5 709.8,1647.6 Q709.5,1645.7 710.1,1644.4 Q710.8,1643.0 710.4,1641.4 Q710.1,1639.8 710.6,1637.9 Q711.0,1636.0 708.6,1634.4 Q706.2,1632.9 705.8,1631.1 Q705.4,1629.2 705.5,1627.9 Q705.5,1626.5 706.0,1624.9 Q706.4,1623.2 706.3,1621.6 Q706.2,1620.1 706.8,1618.5 Q707.4,1616.9 708.1,1615.7 Q708.7,1614.4 709.6,1613.0 Q710.4,1611.6 709.3,1608.6 Q708.2,1605.6 707.0,1604.0 Q705.7,1602.4 704.5,1600.5 Q703.2,1598.7 703.0,1597.1 Q702.9,1595.6 702.9,1594.1 Q702.9,1592.7 703.1,1591.3 Q703.4,1589.8 703.5,1588.3 Q703.6,1586.8 703.2,1585.0 Q702.9,1583.3 703.1,1581.7 Q703.3,1580.2 703.2,1578.9 Q703.1,1577.7 703.1,1575.9 Q703.2,1574.2 704.2,1572.6 Q705.2,1571.0 707.2,1570.1 Q709.1,1569.3 707.7,1567.6 Q706.2,1565.9 706.0,1563.8 Q705.8,1561.8 705.6,1559.7 Q705.4,1557.5 705.4,1556.1 L705.4,1554.7 Z" fill="url(#mg4)"/>
<path d="M696.5,1554.7 Q696.5,1557.5 697.1,1559.2 Q697.8,1560.9 698.2,1562.1 Q698.5,1563.3 698.3,1565.1 Q698.1,1566.9 698.0,1568.7 Q698.0,1570.4 697.8,1572.2 Q697.7,1573.9 697.3,1575.8 Q696.9,1577.7 698.2,1579.4 Q699.4,1581.0 700.5,1582.9 Q701.7,1584.8 701.7,1586.2 Q701.7,1587.6 701.4,1589.5 Q701.0,1591.3 701.5,1592.7 Q701.9,1594.2 702.1,1595.8 Q702.2,1597.5 702.3,1599.0 Q702.5,1600.5 701.3,1602.3 Q700.0,1604.2 699.2,1605.9 Q698.3,1607.6 698.3,1609.2 Q698.3,1610.7 698.6,1612.2 Q698.9,1613.7 698.6,1615.4 Q698.4,1617.2 698.7,1618.8 Q699.0,1620.4 698.9,1622.3 Q698.8,1624.1 699.1,1625.8 Q699.3,1627.4 700.1,1629.2 Q700.8,1630.9 700.8,1632.6 Q700.9,1634.2 701.2,1636.2 Q701.5,1638.2 701.8,1639.8 Q702.2,1641.3 702.0,1643.4 Q701.9,1645.4 701.8,1647.0 Q701.6,1648.5 702.0,1650.3 Q702.5,1652.1 702.0,1654.1 Q701.6,1656.0 702.0,1657.8 Q702.4,1659.6 701.3,1662.1 Q700.1,1664.6 700.3,1666.4 Q700.4,1668.2 700.5,1669.7 Q700.6,1671.2 700.5,1672.9 Q700.4,1674.5 700.8,1676.1 Q701.1,1677.8 701.1,1679.6 Q701.1,1681.4 701.0,1683.1 Q700.9,1684.7 700.9,1686.4 L700.9,1688.0" fill="none" stroke="#fff" stroke-width="1.8" stroke-linejoin="round"/>
<path d="M705.4,1554.7 Q705.4,1557.5 705.6,1559.7 Q705.8,1561.8 706.0,1563.8 Q706.2,1565.9 707.7,1567.6 Q709.1,1569.3 707.2,1570.1 Q705.2,1571.0 704.2,1572.6 Q703.2,1574.2 703.1,1575.9 Q703.1,1577.7 703.2,1578.9 Q703.3,1580.2 703.1,1581.7 Q702.9,1583.3 703.2,1585.0 Q703.6,1586.8 703.5,1588.3 Q703.4,1589.8 703.1,1591.3 Q702.9,1592.7 702.9,1594.1 Q702.9,1595.6 703.0,1597.1 Q703.2,1598.7 704.5,1600.5 Q705.7,1602.4 707.0,1604.0 Q708.2,1605.6 709.3,1608.6 Q710.4,1611.6 709.6,1613.0 Q708.7,1614.4 708.1,1615.7 Q707.4,1616.9 706.8,1618.5 Q706.2,1620.1 706.3,1621.6 Q706.4,1623.2 706.0,1624.9 Q705.5,1626.5 705.5,1627.9 Q705.4,1629.2 705.8,1631.1 Q706.2,1632.9 708.6,1634.4 Q711.0,1636.0 710.6,1637.9 Q710.1,1639.8 710.4,1641.4 Q710.8,1643.0 710.1,1644.4 Q709.5,1645.7 709.8,1647.6 Q710.1,1649.5 710.2,1651.0 Q710.3,1652.6 709.8,1654.0 Q709.3,1655.5 708.6,1657.2 Q707.9,1658.9 707.0,1660.3 Q706.1,1661.7 705.5,1663.4 Q704.8,1665.1 705.1,1666.6 Q705.4,1668.2 704.9,1669.9 Q704.5,1671.7 705.2,1673.2 Q705.9,1674.6 705.6,1676.2 Q705.3,1677.7 705.4,1679.6 Q705.6,1681.5 705.9,1683.1 Q706.3,1684.7 706.3,1686.4 L706.3,1688.0" fill="none" stroke="#fff" stroke-width="1.8" stroke-linejoin="round"/>
</g>
<rect x="637.60" y="1556.20" width="130.00" height="130.30" fill="none" stroke="#000" stroke-width="3.0"/>
<g clip-path="url(#mc5)">
<rect x="1292.5" y="1385.4" width="190" height="190" fill="#888" filter="url(#mf5)" transform="rotate(-28.7 1387.5 1480.4)"/>
<path d="M1358.6,1413.7 Q1358.6,1416.5 1359.2,1418.1 Q1359.8,1419.7 1360.0,1422.0 Q1360.1,1424.3 1360.3,1425.8 Q1360.4,1427.3 1360.9,1428.9 Q1361.5,1430.5 1361.5,1432.6 Q1361.6,1434.6 1361.1,1436.1 Q1360.7,1437.7 1360.5,1438.8 Q1360.4,1439.9 1361.8,1441.8 Q1363.3,1443.7 1362.3,1445.6 Q1361.3,1447.5 1360.4,1449.1 Q1359.5,1450.7 1359.7,1452.6 Q1359.8,1454.4 1360.4,1456.0 Q1361.1,1457.7 1360.6,1459.3 Q1360.2,1460.9 1360.7,1463.1 Q1361.2,1465.2 1361.2,1466.9 Q1361.2,1468.5 1360.1,1470.3 Q1359.0,1472.0 1359.2,1473.9 Q1359.4,1475.8 1359.2,1477.3 Q1359.1,1478.9 1359.3,1480.9 Q1359.4,1482.9 1359.3,1484.8 Q1359.1,1486.6 1359.0,1488.3 Q1358.9,1490.0 1358.6,1491.4 Q1358.2,1492.9 1357.1,1494.8 Q1356.0,1496.8 1356.5,1498.1 Q1356.9,1499.4 1357.4,1500.7 Q1357.8,1502.0 1358.3,1504.0 Q1358.8,1506.0 1359.3,1507.8 Q1359.8,1509.6 1358.0,1511.1 Q1356.2,1512.6 1356.0,1514.3 Q1355.8,1515.9 1357.3,1517.5 Q1358.9,1519.0 1359.5,1520.6 Q1360.2,1522.2 1360.1,1523.5 Q1360.0,1524.7 1358.9,1526.2 Q1357.9,1527.7 1358.1,1529.1 Q1358.4,1530.4 1358.6,1532.1 Q1358.8,1533.9 1358.8,1535.2 Q1358.9,1536.6 1357.8,1538.2 Q1356.8,1539.8 1357.2,1541.5 Q1357.7,1543.3 1357.7,1545.1 L1357.7,1547.0 L1415.4,1547.0 Q1415.4,1543.3 1415.3,1541.6 Q1415.1,1539.9 1414.6,1537.9 Q1414.1,1535.9 1413.5,1534.0 Q1412.8,1532.1 1413.8,1530.4 Q1414.7,1528.8 1413.7,1527.3 Q1412.8,1525.7 1411.8,1523.9 Q1410.9,1522.1 1411.2,1520.2 Q1411.5,1518.3 1410.7,1516.7 Q1410.0,1515.1 1411.1,1513.2 Q1412.2,1511.4 1411.3,1509.1 Q1410.4,1506.9 1411.6,1505.5 Q1412.7,1504.1 1412.0,1502.1 Q1411.4,1500.0 1412.1,1498.5 Q1412.7,1497.0 1413.0,1495.4 Q1413.3,1493.8 1412.5,1491.9 Q1411.8,1490.1 1411.1,1488.2 Q1410.5,1486.3 1411.3,1484.6 Q1412.1,1482.9 1411.1,1481.0 Q1410.2,1479.0 1410.3,1477.4 Q1410.4,1475.8 1410.8,1474.1 Q1411.2,1472.4 1410.4,1471.0 Q1409.7,1469.5 1409.5,1467.9 Q1409.3,1466.4 1409.1,1464.4 Q1408.9,1462.5 1410.5,1460.8 Q1412.1,1459.0 1412.1,1457.7 Q1412.1,1456.3 1412.5,1454.9 Q1412.9,1453.4 1412.9,1451.5 Q1412.9,1449.5 1412.1,1448.4 Q1411.3,1447.2 1410.8,1445.5 Q1410.2,1443.8 1410.5,1441.7 Q1410.7,1439.6 1410.9,1438.2 Q1411.1,1436.8 1412.4,1434.6 Q1413.7,1432.4 1412.9,1430.9 Q1412.1,1429.5 1412.1,1428.0 Q1412.1,1426.5 1411.7,1424.6 Q1411.2,1422.8 1410.9,1421.5 Q1410.6,1420.3 1410.2,1418.4 Q1409.7,1416.5 1409.7,1415.1 L1409.7,1413.7 Z" fill="url(#mg5)"/>
<path d="M1358.6,1413.7 Q1358.6,1416.5 1359.2,1418.1 Q1359.8,1419.7 1360.0,1422.0 Q1360.1,1424.3 1360.3,1425.8 Q1360.4,1427.3 1360.9,1428.9 Q1361.5,1430.5 1361.5,1432.6 Q1361.6,1434.6 1361.1,1436.1 Q1360.7,1437.7 1360.5,1438.8 Q1360.4,1439.9 1361.8,1441.8 Q1363.3,1443.7 1362.3,1445.6 Q1361.3,1447.5 1360.4,1449.1 Q1359.5,1450.7 1359.7,1452.6 Q1359.8,1454.4 1360.4,1456.0 Q1361.1,1457.7 1360.6,1459.3 Q1360.2,1460.9 1360.7,1463.1 Q1361.2,1465.2 1361.2,1466.9 Q1361.2,1468.5 1360.1,1470.3 Q1359.0,1472.0 1359.2,1473.9 Q1359.4,1475.8 1359.2,1477.3 Q1359.1,1478.9 1359.3,1480.9 Q1359.4,1482.9 1359.3,1484.8 Q1359.1,1486.6 1359.0,1488.3 Q1358.9,1490.0 1358.6,1491.4 Q1358.2,1492.9 1357.1,1494.8 Q1356.0,1496.8 1356.5,1498.1 Q1356.9,1499.4 1357.4,1500.7 Q1357.8,1502.0 1358.3,1504.0 Q1358.8,1506.0 1359.3,1507.8 Q1359.8,1509.6 1358.0,1511.1 Q1356.2,1512.6 1356.0,1514.3 Q1355.8,1515.9 1357.3,1517.5 Q1358.9,1519.0 1359.5,1520.6 Q1360.2,1522.2 1360.1,1523.5 Q1360.0,1524.7 1358.9,1526.2 Q1357.9,1527.7 1358.1,1529.1 Q1358.4,1530.4 1358.6,1532.1 Q1358.8,1533.9 1358.8,1535.2 Q1358.9,1536.6 1357.8,1538.2 Q1356.8,1539.8 1357.2,1541.5 Q1357.7,1543.3 1357.7,1545.1 L1357.7,1547.0" fill="none" stroke="#fff" stroke-width="2.1" stroke-linejoin="round"/>
<path d="M1409.7,1413.7 Q1409.7,1416.5 1410.2,1418.4 Q1410.6,1420.3 1410.9,1421.5 Q1411.2,1422.8 1411.7,1424.6 Q1412.1,1426.5 1412.1,1428.0 Q1412.1,1429.5 1412.9,1430.9 Q1413.7,1432.4 1412.4,1434.6 Q1411.1,1436.8 1410.9,1438.2 Q1410.7,1439.6 1410.5,1441.7 Q1410.2,1443.8 1410.8,1445.5 Q1411.3,1447.2 1412.1,1448.4 Q1412.9,1449.5 1412.9,1451.5 Q1412.9,1453.4 1412.5,1454.9 Q1412.1,1456.3 1412.1,1457.7 Q1412.1,1459.0 1410.5,1460.8 Q1408.9,1462.5 1409.1,1464.4 Q1409.3,1466.4 1409.5,1467.9 Q1409.7,1469.5 1410.4,1471.0 Q1411.2,1472.4 1410.8,1474.1 Q1410.4,1475.8 1410.3,1477.4 Q1410.2,1479.0 1411.1,1481.0 Q1412.1,1482.9 1411.3,1484.6 Q1410.5,1486.3 1411.1,1488.2 Q1411.8,1490.1 1412.5,1491.9 Q1413.3,1493.8 1413.0,1495.4 Q1412.7,1497.0 1412.1,1498.5 Q1411.4,1500.0 1412.0,1502.1 Q1412.7,1504.1 1411.6,1505.5 Q1410.4,1506.9 1411.3,1509.1 Q1412.2,1511.4 1411.1,1513.2 Q1410.0,1515.1 1410.7,1516.7 Q1411.5,1518.3 1411.2,1520.2 Q1410.9,1522.1 1411.8,1523.9 Q1412.8,1525.7 1413.7,1527.3 Q1414.7,1528.8 1413.8,1530.4 Q1412.8,1532.1 1413.5,1534.0 Q1414.1,1535.9 1414.6,1537.9 Q1415.1,1539.9 1415.3,1541.6 Q1415.4,1543.3 1415.4,1545.1 L1415.4,1547.0" fill="none" stroke="#fff" stroke-width="2.1" stroke-linejoin="round"/>
<circle cx="1369.3" cy="1420.4" r="1.6" fill="#a8a8a8"/>
<circle cx="1379.6" cy="1447.4" r="1.6" fill="#c8c8c8"/>
<circle cx="1389.1" cy="1502.6" r="1.6" fill="#b0b0b0"/>
<circle cx="1384.3" cy="1521.6" r="1.4" fill="#9a9a9a"/>
</g>
<rect x="1322.50" y="1415.20" width="130.00" height="130.30" fill="none" stroke="#000" stroke-width="3.0"/>
<g clip-path="url(#mc6)">
<rect x="1433.4" y="1385.4" width="190" height="190" fill="#888" filter="url(#mf6)" transform="rotate(-52.7 1528.4 1480.4)"/>
<path d="M1504.3,1413.7 Q1504.3,1416.5 1504.5,1418.6 Q1504.7,1420.7 1504.2,1422.2 Q1503.7,1423.7 1504.2,1425.8 Q1504.7,1427.9 1505.5,1429.6 Q1506.4,1431.3 1504.9,1433.8 Q1503.5,1436.4 1503.7,1438.0 Q1503.9,1439.7 1504.2,1441.4 Q1504.6,1443.1 1504.4,1444.1 Q1504.1,1445.2 1503.8,1447.1 Q1503.5,1449.1 1503.3,1450.6 Q1503.1,1452.1 1503.5,1453.7 Q1503.8,1455.3 1504.7,1456.5 Q1505.5,1457.7 1504.5,1459.7 Q1503.5,1461.7 1503.4,1463.2 Q1503.4,1464.7 1504.2,1465.9 Q1505.0,1467.1 1504.7,1469.0 Q1504.3,1470.9 1503.6,1472.3 Q1502.9,1473.8 1502.5,1475.3 Q1502.0,1476.9 1502.7,1478.4 Q1503.4,1479.9 1503.0,1481.1 Q1502.7,1482.2 1502.2,1483.9 Q1501.8,1485.5 1501.3,1487.5 Q1500.8,1489.5 1501.7,1491.1 Q1502.7,1492.7 1502.5,1494.9 Q1502.4,1497.1 1501.4,1498.8 Q1500.5,1500.4 1501.1,1501.8 Q1501.8,1503.3 1501.1,1504.9 Q1500.4,1506.5 1500.8,1508.0 Q1501.1,1509.6 1500.8,1511.2 Q1500.5,1512.8 1500.7,1514.1 Q1500.8,1515.5 1501.5,1517.2 Q1502.2,1518.9 1502.5,1520.1 Q1502.9,1521.3 1502.6,1522.9 Q1502.4,1524.4 1502.2,1526.0 Q1502.0,1527.6 1502.3,1529.5 Q1502.7,1531.3 1502.3,1532.5 Q1501.8,1533.7 1502.1,1535.2 Q1502.4,1536.7 1501.7,1538.6 Q1501.0,1540.6 1501.8,1541.9 Q1502.5,1543.3 1502.5,1545.1 L1502.5,1547.0 L1547.8,1547.0 Q1547.8,1543.3 1548.0,1541.7 Q1548.2,1540.2 1548.4,1537.9 Q1548.6,1535.6 1548.5,1533.8 Q1548.3,1532.0 1548.3,1530.7 Q1548.4,1529.4 1549.7,1527.7 Q1551.1,1525.9 1550.0,1524.4 Q1549.0,1522.9 1550.1,1521.6 Q1551.2,1520.3 1551.1,1519.2 Q1551.1,1518.0 1551.2,1516.4 Q1551.3,1514.7 1551.1,1513.4 Q1550.8,1512.0 1551.0,1510.2 Q1551.2,1508.5 1550.5,1507.1 Q1549.9,1505.7 1549.6,1504.0 Q1549.4,1502.3 1549.5,1501.2 Q1549.6,1500.0 1548.6,1498.3 Q1547.5,1496.6 1547.5,1494.7 Q1547.5,1492.8 1547.1,1491.2 Q1546.6,1489.6 1547.6,1487.8 Q1548.6,1485.9 1547.3,1483.9 Q1545.9,1482.0 1546.3,1480.4 Q1546.7,1478.9 1547.7,1477.3 Q1548.7,1475.7 1548.5,1474.4 Q1548.4,1473.2 1548.7,1471.6 Q1549.1,1470.1 1548.7,1468.6 Q1548.2,1467.1 1549.6,1465.7 Q1550.9,1464.3 1549.9,1462.7 Q1549.0,1461.0 1549.9,1459.6 Q1550.8,1458.1 1550.1,1455.9 Q1549.4,1453.6 1548.9,1452.4 Q1548.3,1451.1 1548.8,1449.1 Q1549.2,1447.1 1549.1,1445.5 Q1548.9,1443.8 1549.2,1441.9 Q1549.5,1440.0 1550.9,1437.9 Q1552.3,1435.9 1551.7,1434.4 Q1551.1,1432.9 1552.5,1430.9 Q1553.8,1428.8 1552.6,1427.7 Q1551.4,1426.6 1551.8,1424.8 Q1552.3,1423.0 1551.6,1421.6 Q1551.0,1420.1 1549.8,1418.3 Q1548.7,1416.5 1548.7,1415.1 L1548.7,1413.7 Z" fill="url(#mg6)"/>
<path d="M1504.3,1413.7 Q1504.3,1416.5 1504.5,1418.6 Q1504.7,1420.7 1504.2,1422.2 Q1503.7,1423.7 1504.2,1425.8 Q1504.7,1427.9 1505.5,1429.6 Q1506.4,1431.3 1504.9,1433.8 Q1503.5,1436.4 1503.7,1438.0 Q1503.9,1439.7 1504.2,1441.4 Q1504.6,1443.1 1504.4,1444.1 Q1504.1,1445.2 1503.8,1447.1 Q1503.5,1449.1 1503.3,1450.6 Q1503.1,1452.1 1503.5,1453.7 Q1503.8,1455.3 1504.7,1456.5 Q1505.5,1457.7 1504.5,1459.7 Q1503.5,1461.7 1503.4,1463.2 Q1503.4,1464.7 1504.2,1465.9 Q1505.0,1467.1 1504.7,1469.0 Q1504.3,1470.9 1503.6,1472.3 Q1502.9,1473.8 1502.5,1475.3 Q1502.0,1476.9 1502.7,1478.4 Q1503.4,1479.9 1503.0,1481.1 Q1502.7,1482.2 1502.2,1483.9 Q1501.8,1485.5 1501.3,1487.5 Q1500.8,1489.5 1501.7,1491.1 Q1502.7,1492.7 1502.5,1494.9 Q1502.4,1497.1 1501.4,1498.8 Q1500.5,1500.4 1501.1,1501.8 Q1501.8,1503.3 1501.1,1504.9 Q1500.4,1506.5 1500.8,1508.0 Q1501.1,1509.6 1500.8,1511.2 Q1500.5,1512.8 1500.7,1514.1 Q1500.8,1515.5 1501.5,1517.2 Q1502.2,1518.9 1502.5,1520.1 Q1502.9,1521.3 1502.6,1522.9 Q1502.4,1524.4 1502.2,1526.0 Q1502.0,1527.6 1502.3,1529.5 Q1502.7,1531.3 1502.3,1532.5 Q1501.8,1533.7 1502.1,1535.2 Q1502.4,1536.7 1501.7,1538.6 Q1501.0,1540.6 1501.8,1541.9 Q1502.5,1543.3 1502.5,1545.1 L1502.5,1547.0" fill="none" stroke="#fff" stroke-width="2.1" stroke-linejoin="round"/>
<path d="M1548.7,1413.7 Q1548.7,1416.5 1549.8,1418.3 Q1551.0,1420.1 1551.6,1421.6 Q1552.3,1423.0 1551.8,1424.8 Q1551.4,1426.6 1552.6,1427.7 Q1553.8,1428.8 1552.5,1430.9 Q1551.1,1432.9 1551.7,1434.4 Q1552.3,1435.9 1550.9,1437.9 Q1549.5,1440.0 1549.2,1441.9 Q1548.9,1443.8 1549.1,1445.5 Q1549.2,1447.1 1548.8,1449.1 Q1548.3,1451.1 1548.9,1452.4 Q1549.4,1453.6 1550.1,1455.9 Q1550.8,1458.1 1549.9,1459.6 Q1549.0,1461.0 1549.9,1462.7 Q1550.9,1464.3 1549.6,1465.7 Q1548.2,1467.1 1548.7,1468.6 Q1549.1,1470.1 1548.7,1471.6 Q1548.4,1473.2 1548.5,1474.4 Q1548.7,1475.7 1547.7,1477.3 Q1546.7,1478.9 1546.3,1480.4 Q1545.9,1482.0 1547.3,1483.9 Q1548.6,1485.9 1547.6,1487.8 Q1546.6,1489.6 1547.1,1491.2 Q1547.5,1492.8 1547.5,1494.7 Q1547.5,1496.6 1548.6,1498.3 Q1549.6,1500.0 1549.5,1501.2 Q1549.4,1502.3 1549.6,1504.0 Q1549.9,1505.7 1550.5,1507.1 Q1551.2,1508.5 1551.0,1510.2 Q1550.8,1512.0 1551.1,1513.4 Q1551.3,1514.7 1551.2,1516.4 Q1551.1,1518.0 1551.1,1519.2 Q1551.2,1520.3 1550.1,1521.6 Q1549.0,1522.9 1550.0,1524.4 Q1551.1,1525.9 1549.7,1527.7 Q1548.4,1529.4 1548.3,1530.7 Q1548.3,1532.0 1548.5,1533.8 Q1548.6,1535.6 1548.4,1537.9 Q1548.2,1540.2 1548.0,1541.7 Q1547.8,1543.3 1547.8,1545.1 L1547.8,1547.0" fill="none" stroke="#fff" stroke-width="2.1" stroke-linejoin="round"/>
<circle cx="1524.7" cy="1505.6" r="1.4" fill="#9c9c9c"/>
</g>
<rect x="1463.40" y="1415.20" width="130.00" height="130.30" fill="none" stroke="#000" stroke-width="3.0"/>
<g clip-path="url(#mc7)">
<rect x="1292.5" y="1526.4" width="190" height="190" fill="#888" filter="url(#mf7)" transform="rotate(-64.4 1387.5 1621.4)"/>
<path d="M1376.4,1554.7 Q1376.4,1557.5 1375.9,1558.9 Q1375.5,1560.3 1375.5,1561.9 Q1375.6,1563.5 1374.8,1565.1 Q1374.0,1566.7 1374.5,1568.5 Q1375.0,1570.3 1375.6,1571.9 Q1376.3,1573.6 1376.4,1575.4 Q1376.4,1577.1 1377.1,1579.1 Q1377.7,1581.1 1375.1,1582.2 Q1372.6,1583.3 1371.9,1585.3 Q1371.3,1587.3 1371.2,1588.7 Q1371.1,1590.1 1371.2,1591.9 Q1371.3,1593.8 1370.8,1595.5 Q1370.4,1597.2 1372.1,1597.4 Q1373.9,1597.7 1374.9,1597.6 Q1376.0,1597.5 1376.4,1599.4 Q1376.9,1601.3 1377.3,1602.7 Q1377.7,1604.1 1378.7,1605.9 Q1379.6,1607.6 1378.6,1609.1 Q1377.6,1610.5 1376.4,1611.8 Q1375.2,1613.0 1372.3,1614.2 Q1369.4,1615.3 1370.2,1616.9 Q1371.0,1618.5 1371.7,1620.1 Q1372.4,1621.7 1372.4,1623.5 Q1372.4,1625.3 1373.3,1626.8 Q1374.1,1628.2 1374.7,1629.8 Q1375.2,1631.4 1376.2,1632.9 Q1377.2,1634.5 1378.1,1636.3 Q1379.0,1638.0 1378.3,1639.7 Q1377.5,1641.4 1378.5,1643.1 Q1379.4,1644.8 1379.3,1646.6 Q1379.2,1648.4 1378.8,1650.2 Q1378.4,1652.0 1377.6,1653.0 Q1376.8,1654.0 1375.7,1655.5 Q1374.7,1656.9 1374.0,1657.8 Q1373.3,1658.8 1373.6,1660.6 Q1373.9,1662.5 1373.4,1664.4 Q1372.9,1666.3 1373.2,1668.2 Q1373.5,1670.0 1373.9,1671.5 Q1374.3,1672.9 1374.0,1674.9 Q1373.8,1676.8 1374.5,1678.9 Q1375.3,1680.9 1375.8,1682.6 Q1376.4,1684.3 1376.4,1686.1 L1376.4,1688.0 L1395.9,1688.0 Q1395.9,1684.3 1395.6,1682.2 Q1395.3,1680.2 1394.4,1678.6 Q1393.5,1677.0 1391.6,1675.1 Q1389.7,1673.3 1392.1,1672.9 Q1394.6,1672.4 1396.0,1671.8 Q1397.4,1671.2 1398.2,1669.7 Q1399.0,1668.1 1399.1,1666.8 Q1399.3,1665.5 1398.8,1664.0 Q1398.2,1662.5 1399.2,1660.9 Q1400.1,1659.3 1398.7,1657.9 Q1397.4,1656.4 1397.2,1654.7 Q1397.0,1652.9 1396.5,1651.6 Q1396.0,1650.4 1396.0,1648.7 Q1396.0,1647.1 1396.7,1645.7 Q1397.4,1644.4 1397.6,1642.9 Q1397.9,1641.5 1397.3,1639.8 Q1396.7,1638.1 1396.4,1636.8 Q1396.1,1635.5 1395.3,1633.8 Q1394.6,1632.1 1393.6,1633.7 Q1392.5,1635.4 1391.0,1636.5 Q1389.4,1637.7 1389.4,1635.8 Q1389.3,1634.0 1389.4,1632.3 Q1389.5,1630.5 1388.5,1628.9 Q1387.6,1627.2 1387.6,1625.4 Q1387.7,1623.5 1387.7,1621.8 Q1387.8,1620.1 1388.1,1618.2 Q1388.3,1616.3 1388.3,1614.6 Q1388.3,1612.8 1388.7,1611.2 Q1389.1,1609.7 1388.6,1607.7 Q1388.1,1605.8 1390.2,1605.0 Q1392.3,1604.2 1392.8,1603.2 Q1393.3,1602.3 1393.0,1600.5 Q1392.8,1598.8 1392.7,1597.0 Q1392.6,1595.2 1391.1,1593.5 Q1389.7,1591.7 1389.0,1590.0 Q1388.3,1588.4 1386.2,1586.7 Q1384.2,1585.1 1385.8,1584.5 Q1387.5,1584.0 1388.8,1583.2 Q1390.1,1582.4 1391.3,1581.6 Q1392.5,1580.9 1393.9,1580.1 Q1395.2,1579.2 1396.4,1578.0 Q1397.7,1576.8 1398.9,1575.5 Q1400.2,1574.1 1401.5,1573.1 Q1402.9,1572.1 1402.3,1570.1 Q1401.7,1568.1 1402.1,1566.4 Q1402.5,1564.6 1402.2,1563.0 Q1401.8,1561.4 1402.0,1559.5 Q1402.1,1557.5 1402.1,1556.1 L1402.1,1554.7 Z" fill="url(#mg7)"/>
<path d="M1376.4,1554.7 Q1376.4,1557.5 1375.9,1558.9 Q1375.5,1560.3 1375.5,1561.9 Q1375.6,1563.5 1374.8,1565.1 Q1374.0,1566.7 1374.5,1568.5 Q1375.0,1570.3 1375.6,1571.9 Q1376.3,1573.6 1376.4,1575.4 Q1376.4,1577.1 1377.1,1579.1 Q1377.7,1581.1 1375.1,1582.2 Q1372.6,1583.3 1371.9,1585.3 Q1371.3,1587.3 1371.2,1588.7 Q1371.1,1590.1 1371.2,1591.9 Q1371.3,1593.8 1370.8,1595.5 Q1370.4,1597.2 1372.1,1597.4 Q1373.9,1597.7 1374.9,1597.6 Q1376.0,1597.5 1376.4,1599.4 Q1376.9,1601.3 1377.3,1602.7 Q1377.7,1604.1 1378.7,1605.9 Q1379.6,1607.6 1378.6,1609.1 Q1377.6,1610.5 1376.4,1611.8 Q1375.2,1613.0 1372.3,1614.2 Q1369.4,1615.3 1370.2,1616.9 Q1371.0,1618.5 1371.7,1620.1 Q1372.4,1621.7 1372.4,1623.5 Q1372.4,1625.3 1373.3,1626.8 Q1374.1,1628.2 1374.7,1629.8 Q1375.2,1631.4 1376.2,1632.9 Q1377.2,1634.5 1378.1,1636.3 Q1379.0,1638.0 1378.3,1639.7 Q1377.5,1641.4 1378.5,1643.1 Q1379.4,1644.8 1379.3,1646.6 Q1379.2,1648.4 1378.8,1650.2 Q1378.4,1652.0 1377.6,1653.0 Q1376.8,1654.0 1375.7,1655.5 Q1374.7,1656.9 1374.0,1657.8 Q1373.3,1658.8 1373.6,1660.6 Q1373.9,1662.5 1373.4,1664.4 Q1372.9,1666.3 1373.2,1668.2 Q1373.5,1670.0 1373.9,1671.5 Q1374.3,1672.9 1374.0,1674.9 Q1373.8,1676.8 1374.5,1678.9 Q1375.3,1680.9 1375.8,1682.6 Q1376.4,1684.3 1376.4,1686.1 L1376.4,1688.0" fill="none" stroke="#fff" stroke-width="2.1" stroke-linejoin="round"/>
<path d="M1402.1,1554.7 Q1402.1,1557.5 1402.0,1559.5 Q1401.8,1561.4 1402.2,1563.0 Q1402.5,1564.6 1402.1,1566.4 Q1401.7,1568.1 1402.3,1570.1 Q1402.9,1572.1 1401.5,1573.1 Q1400.2,1574.1 1398.9,1575.5 Q1397.7,1576.8 1396.4,1578.0 Q1395.2,1579.2 1393.9,1580.1 Q1392.5,1580.9 1391.3,1581.6 Q1390.1,1582.4 1388.8,1583.2 Q1387.5,1584.0 1385.8,1584.5 Q1384.2,1585.1 1386.2,1586.7 Q1388.3,1588.4 1389.0,1590.0 Q1389.7,1591.7 1391.1,1593.5 Q1392.6,1595.2 1392.7,1597.0 Q1392.8,1598.8 1393.0,1600.5 Q1393.3,1602.3 1392.8,1603.2 Q1392.3,1604.2 1390.2,1605.0 Q1388.1,1605.8 1388.6,1607.7 Q1389.1,1609.7 1388.7,1611.2 Q1388.3,1612.8 1388.3,1614.6 Q1388.3,1616.3 1388.1,1618.2 Q1387.8,1620.1 1387.7,1621.8 Q1387.7,1623.5 1387.6,1625.4 Q1387.6,1627.2 1388.5,1628.9 Q1389.5,1630.5 1389.4,1632.3 Q1389.3,1634.0 1389.4,1635.8 Q1389.4,1637.7 1391.0,1636.5 Q1392.5,1635.4 1393.6,1633.7 Q1394.6,1632.1 1395.3,1633.8 Q1396.1,1635.5 1396.4,1636.8 Q1396.7,1638.1 1397.3,1639.8 Q1397.9,1641.5 1397.6,1642.9 Q1397.4,1644.4 1396.7,1645.7 Q1396.0,1647.1 1396.0,1648.7 Q1396.0,1650.4 1396.5,1651.6 Q1397.0,1652.9 1397.2,1654.7 Q1397.4,1656.4 1398.7,1657.9 Q1400.1,1659.3 1399.2,1660.9 Q1398.2,1662.5 1398.8,1664.0 Q1399.3,1665.5 1399.1,1666.8 Q1399.0,1668.1 1398.2,1669.7 Q1397.4,1671.2 1396.0,1671.8 Q1394.6,1672.4 1392.1,1672.9 Q1389.7,1673.3 1391.6,1675.1 Q1393.5,1677.0 1394.4,1678.6 Q1395.3,1680.2 1395.6,1682.2 Q1395.9,1684.3 1395.9,1686.1 L1395.9,1688.0" fill="none" stroke="#fff" stroke-width="2.1" stroke-linejoin="round"/>
</g>
<rect x="1322.50" y="1556.20" width="130.00" height="130.30" fill="none" stroke="#000" stroke-width="3.0"/>
<g clip-path="url(#mc8)">
<rect x="1433.4" y="1526.4" width="190" height="190" fill="#888" filter="url(#mf8)" transform="rotate(-64.1 1528.4 1621.4)"/>
<path d="M1519.4,1554.7 Q1519.4,1557.5 1518.8,1559.5 Q1518.2,1561.6 1518.6,1563.2 Q1519.0,1564.8 1517.5,1565.3 Q1515.9,1565.8 1514.6,1566.5 Q1513.2,1567.1 1513.7,1568.8 Q1514.2,1570.5 1514.3,1572.0 Q1514.4,1573.5 1514.7,1575.5 Q1514.9,1577.4 1515.3,1579.2 Q1515.6,1580.9 1515.8,1582.3 Q1516.0,1583.7 1516.2,1585.2 Q1516.5,1586.8 1517.5,1588.4 Q1518.5,1590.0 1519.1,1591.2 Q1519.7,1592.5 1520.3,1594.2 Q1520.8,1596.0 1521.2,1597.4 Q1521.6,1598.9 1520.2,1599.9 Q1518.9,1600.9 1517.7,1602.1 Q1516.4,1603.3 1515.6,1604.7 Q1514.9,1606.1 1514.9,1607.9 Q1514.9,1609.6 1516.3,1611.1 Q1517.7,1612.6 1517.9,1614.7 Q1518.0,1616.8 1515.9,1617.3 Q1513.7,1617.9 1513.8,1619.6 Q1513.9,1621.3 1513.7,1623.0 Q1513.5,1624.7 1513.1,1626.5 Q1512.8,1628.3 1513.4,1629.8 Q1514.0,1631.2 1513.7,1632.9 Q1513.4,1634.7 1514.0,1636.3 Q1514.6,1637.8 1514.9,1639.5 Q1515.3,1641.2 1514.9,1643.0 Q1514.5,1644.8 1515.2,1646.6 Q1515.9,1648.4 1515.9,1650.1 Q1516.0,1651.7 1516.0,1653.7 Q1515.9,1655.6 1516.9,1656.9 Q1517.9,1658.2 1518.1,1659.7 Q1518.4,1661.1 1519.0,1662.9 Q1519.6,1664.7 1518.7,1666.4 Q1517.9,1668.1 1516.5,1669.9 Q1515.1,1671.6 1515.3,1673.2 Q1515.6,1674.7 1515.4,1676.1 Q1515.1,1677.6 1516.0,1679.4 Q1516.8,1681.2 1516.8,1682.7 Q1516.7,1684.3 1516.7,1686.1 L1516.7,1688.0 L1533.6,1688.0 Q1533.6,1684.3 1533.8,1682.3 Q1534.0,1680.3 1533.9,1678.6 Q1533.8,1676.9 1533.3,1675.2 Q1532.8,1673.4 1533.3,1671.7 Q1533.8,1670.0 1534.0,1668.1 Q1534.2,1666.1 1534.7,1664.3 Q1535.1,1662.5 1534.7,1660.7 Q1534.2,1659.0 1534.4,1657.4 Q1534.5,1655.9 1535.3,1653.9 Q1536.1,1652.0 1535.9,1650.1 Q1535.8,1648.3 1536.2,1646.4 Q1536.7,1644.5 1536.8,1642.8 Q1537.0,1641.1 1537.4,1639.3 Q1537.8,1637.5 1537.2,1635.8 Q1536.6,1634.0 1536.6,1632.5 Q1536.6,1630.9 1536.4,1628.8 Q1536.2,1626.8 1535.9,1625.1 Q1535.6,1623.5 1535.9,1621.7 Q1536.2,1620.0 1535.7,1618.4 Q1535.3,1616.9 1535.2,1615.2 Q1535.1,1613.6 1534.4,1612.2 Q1533.7,1610.9 1533.8,1609.1 Q1534.0,1607.2 1533.3,1605.7 Q1532.5,1604.3 1532.5,1602.3 Q1532.5,1600.3 1532.8,1598.5 Q1533.0,1596.7 1532.7,1595.0 Q1532.4,1593.3 1532.4,1592.0 Q1532.5,1590.7 1533.9,1589.1 Q1535.2,1587.6 1535.8,1586.0 Q1536.4,1584.4 1536.1,1582.7 Q1535.7,1581.0 1535.7,1579.8 Q1535.6,1578.5 1535.2,1577.0 Q1534.8,1575.5 1534.6,1573.9 Q1534.5,1572.4 1535.2,1570.5 Q1535.9,1568.7 1536.3,1566.7 Q1536.7,1564.7 1536.9,1562.9 Q1537.0,1561.0 1537.5,1559.3 Q1538.0,1557.5 1538.0,1556.1 L1538.0,1554.7 Z" fill="url(#mg8)"/>
<path d="M1519.4,1554.7 Q1519.4,1557.5 1518.8,1559.5 Q1518.2,1561.6 1518.6,1563.2 Q1519.0,1564.8 1517.5,1565.3 Q1515.9,1565.8 1514.6,1566.5 Q1513.2,1567.1 1513.7,1568.8 Q1514.2,1570.5 1514.3,1572.0 Q1514.4,1573.5 1514.7,1575.5 Q1514.9,1577.4 1515.3,1579.2 Q1515.6,1580.9 1515.8,1582.3 Q1516.0,1583.7 1516.2,1585.2 Q1516.5,1586.8 1517.5,1588.4 Q1518.5,1590.0 1519.1,1591.2 Q1519.7,1592.5 1520.3,1594.2 Q1520.8,1596.0 1521.2,1597.4 Q1521.6,1598.9 1520.2,1599.9 Q1518.9,1600.9 1517.7,1602.1 Q1516.4,1603.3 1515.6,1604.7 Q1514.9,1606.1 1514.9,1607.9 Q1514.9,1609.6 1516.3,1611.1 Q1517.7,1612.6 1517.9,1614.7 Q1518.0,1616.8 1515.9,1617.3 Q1513.7,1617.9 1513.8,1619.6 Q1513.9,1621.3 1513.7,1623.0 Q1513.5,1624.7 1513.1,1626.5 Q1512.8,1628.3 1513.4,1629.8 Q1514.0,1631.2 1513.7,1632.9 Q1513.4,1634.7 1514.0,1636.3 Q1514.6,1637.8 1514.9,1639.5 Q1515.3,1641.2 1514.9,1643.0 Q1514.5,1644.8 1515.2,1646.6 Q1515.9,1648.4 1515.9,1650.1 Q1516.0,1651.7 1516.0,1653.7 Q1515.9,1655.6 1516.9,1656.9 Q1517.9,1658.2 1518.1,1659.7 Q1518.4,1661.1 1519.0,1662.9 Q1519.6,1664.7 1518.7,1666.4 Q1517.9,1668.1 1516.5,1669.9 Q1515.1,1671.6 1515.3,1673.2 Q1515.6,1674.7 1515.4,1676.1 Q1515.1,1677.6 1516.0,1679.4 Q1516.8,1681.2 1516.8,1682.7 Q1516.7,1684.3 1516.7,1686.1 L1516.7,1688.0" fill="none" stroke="#fff" stroke-width="2.1" stroke-linejoin="round"/>
<path d="M1538.0,1554.7 Q1538.0,1557.5 1537.5,1559.3 Q1537.0,1561.0 1536.9,1562.9 Q1536.7,1564.7 1536.3,1566.7 Q1535.9,1568.7 1535.2,1570.5 Q1534.5,1572.4 1534.6,1573.9 Q1534.8,1575.5 1535.2,1577.0 Q1535.6,1578.5 1535.7,1579.8 Q1535.7,1581.0 1536.1,1582.7 Q1536.4,1584.4 1535.8,1586.0 Q1535.2,1587.6 1533.9,1589.1 Q1532.5,1590.7 1532.4,1592.0 Q1532.4,1593.3 1532.7,1595.0 Q1533.0,1596.7 1532.8,1598.5 Q1532.5,1600.3 1532.5,1602.3 Q1532.5,1604.3 1533.3,1605.7 Q1534.0,1607.2 1533.8,1609.1 Q1533.7,1610.9 1534.4,1612.2 Q1535.1,1613.6 1535.2,1615.2 Q1535.3,1616.9 1535.7,1618.4 Q1536.2,1620.0 1535.9,1621.7 Q1535.6,1623.5 1535.9,1625.1 Q1536.2,1626.8 1536.4,1628.8 Q1536.6,1630.9 1536.6,1632.5 Q1536.6,1634.0 1537.2,1635.8 Q1537.8,1637.5 1537.4,1639.3 Q1537.0,1641.1 1536.8,1642.8 Q1536.7,1644.5 1536.2,1646.4 Q1535.8,1648.3 1535.9,1650.1 Q1536.1,1652.0 1535.3,1653.9 Q1534.5,1655.9 1534.4,1657.4 Q1534.2,1659.0 1534.7,1660.7 Q1535.1,1662.5 1534.7,1664.3 Q1534.2,1666.1 1534.0,1668.1 Q1533.8,1670.0 1533.3,1671.7 Q1532.8,1673.4 1533.3,1675.2 Q1533.8,1676.9 1533.9,1678.6 Q1534.0,1680.3 1533.8,1682.3 Q1533.6,1684.3 1533.6,1686.1 L1533.6,1688.0" fill="none" stroke="#fff" stroke-width="2.1" stroke-linejoin="round"/>
</g>
<rect x="1463.40" y="1556.20" width="130.00" height="130.30" fill="none" stroke="#000" stroke-width="3.0"/>
<g clip-path="url(#mc9)">
<rect x="466.5" y="1804.7" width="190" height="190" fill="#888" filter="url(#mf9)" transform="rotate(58.0 561.5 1899.7)"/>
<path d="M525.6,1833.0 Q525.6,1836.0 524.5,1837.5 Q523.3,1839.0 523.3,1840.6 Q523.2,1842.1 522.3,1844.0 Q521.3,1845.8 520.8,1847.7 Q520.3,1849.6 521.8,1851.4 Q523.3,1853.1 522.9,1854.8 Q522.5,1856.4 522.3,1858.2 Q522.1,1860.0 522.7,1861.5 Q523.2,1863.1 523.2,1865.1 Q523.1,1867.1 522.7,1869.1 Q522.3,1871.1 522.5,1872.6 Q522.8,1874.1 523.4,1875.7 Q524.0,1877.3 524.7,1879.3 Q525.4,1881.3 524.7,1883.0 Q524.0,1884.7 524.4,1886.7 Q524.8,1888.6 524.9,1890.5 Q525.1,1892.5 525.8,1894.3 Q526.6,1896.2 527.1,1897.4 Q527.6,1898.6 526.9,1901.3 Q526.3,1904.0 526.8,1906.0 Q527.3,1907.9 526.8,1909.8 Q526.2,1911.7 525.8,1912.8 Q525.3,1913.9 524.7,1916.0 Q524.1,1918.1 524.5,1919.0 Q524.8,1920.0 524.3,1922.1 Q523.7,1924.2 523.6,1926.0 Q523.4,1927.8 523.9,1929.8 Q524.5,1931.7 523.3,1933.1 Q522.1,1934.6 522.0,1936.3 Q521.8,1938.0 522.4,1940.2 Q522.9,1942.4 523.7,1944.0 Q524.5,1945.6 523.8,1947.1 Q523.2,1948.7 524.6,1950.4 Q525.9,1952.2 525.1,1954.1 Q524.2,1956.0 524.5,1957.4 Q524.7,1958.8 524.3,1960.6 Q523.8,1962.5 523.8,1964.4 L523.8,1966.3 L601.3,1966.3 Q601.3,1962.5 602.4,1960.6 Q603.5,1958.8 605.1,1957.6 Q606.6,1956.5 606.6,1954.6 Q606.5,1952.7 604.6,1950.7 Q602.6,1948.7 602.3,1946.9 Q601.9,1945.2 602.9,1943.8 Q603.8,1942.4 602.3,1940.3 Q600.7,1938.2 601.5,1936.8 Q602.3,1935.3 600.7,1933.5 Q599.1,1931.8 598.5,1929.6 Q598.0,1927.4 597.4,1925.5 Q596.7,1923.6 597.1,1922.4 Q597.5,1921.2 596.9,1919.5 Q596.4,1917.8 596.3,1915.6 Q596.3,1913.4 596.0,1911.7 Q595.6,1910.0 595.5,1908.7 Q595.4,1907.3 595.9,1906.2 Q596.5,1905.1 597.9,1903.2 Q599.4,1901.3 600.5,1900.5 Q601.6,1899.7 603.3,1898.1 Q605.0,1896.6 603.3,1894.9 Q601.5,1893.3 600.6,1892.1 Q599.7,1890.9 597.6,1890.0 Q595.4,1889.1 595.6,1887.2 Q595.7,1885.2 596.0,1883.5 Q596.2,1881.8 595.4,1880.4 Q594.6,1879.0 594.9,1877.6 Q595.3,1876.1 594.9,1874.1 Q594.6,1872.2 594.1,1870.6 Q593.6,1869.0 592.6,1867.8 Q591.7,1866.5 592.3,1865.1 Q593.0,1863.7 593.6,1862.4 Q594.2,1861.1 596.3,1860.0 Q598.4,1858.9 598.7,1857.5 Q599.1,1856.0 600.1,1854.7 Q601.2,1853.4 602.2,1851.3 Q603.3,1849.3 604.1,1847.6 Q604.8,1845.9 605.8,1844.5 Q606.7,1843.0 605.5,1841.1 Q604.4,1839.1 604.2,1837.5 Q604.0,1836.0 604.0,1834.5 L604.0,1833.0 Z" fill="url(#mg9)"/>
<path d="M525.6,1833.0 Q525.6,1836.0 524.5,1837.5 Q523.3,1839.0 523.3,1840.6 Q523.2,1842.1 522.3,1844.0 Q521.3,1845.8 520.8,1847.7 Q520.3,1849.6 521.8,1851.4 Q523.3,1853.1 522.9,1854.8 Q522.5,1856.4 522.3,1858.2 Q522.1,1860.0 522.7,1861.5 Q523.2,1863.1 523.2,1865.1 Q523.1,1867.1 522.7,1869.1 Q522.3,1871.1 522.5,1872.6 Q522.8,1874.1 523.4,1875.7 Q524.0,1877.3 524.7,1879.3 Q525.4,1881.3 524.7,1883.0 Q524.0,1884.7 524.4,1886.7 Q524.8,1888.6 524.9,1890.5 Q525.1,1892.5 525.8,1894.3 Q526.6,1896.2 527.1,1897.4 Q527.6,1898.6 526.9,1901.3 Q526.3,1904.0 526.8,1906.0 Q527.3,1907.9 526.8,1909.8 Q526.2,1911.7 525.8,1912.8 Q525.3,1913.9 524.7,1916.0 Q524.1,1918.1 524.5,1919.0 Q524.8,1920.0 524.3,1922.1 Q523.7,1924.2 523.6,1926.0 Q523.4,1927.8 523.9,1929.8 Q524.5,1931.7 523.3,1933.1 Q522.1,1934.6 522.0,1936.3 Q521.8,1938.0 522.4,1940.2 Q522.9,1942.4 523.7,1944.0 Q524.5,1945.6 523.8,1947.1 Q523.2,1948.7 524.6,1950.4 Q525.9,1952.2 525.1,1954.1 Q524.2,1956.0 524.5,1957.4 Q524.7,1958.8 524.3,1960.6 Q523.8,1962.5 523.8,1964.4 L523.8,1966.3" fill="none" stroke="#fff" stroke-width="2.1" stroke-linejoin="round"/>
<path d="M604.0,1833.0 Q604.0,1836.0 604.2,1837.5 Q604.4,1839.1 605.5,1841.1 Q606.7,1843.0 605.8,1844.5 Q604.8,1845.9 604.1,1847.6 Q603.3,1849.3 602.2,1851.3 Q601.2,1853.4 600.1,1854.7 Q599.1,1856.0 598.7,1857.5 Q598.4,1858.9 596.3,1860.0 Q594.2,1861.1 593.6,1862.4 Q593.0,1863.7 592.3,1865.1 Q591.7,1866.5 592.6,1867.8 Q593.6,1869.0 594.1,1870.6 Q594.6,1872.2 594.9,1874.1 Q595.3,1876.1 594.9,1877.6 Q594.6,1879.0 595.4,1880.4 Q596.2,1881.8 596.0,1883.5 Q595.7,1885.2 595.6,1887.2 Q595.4,1889.1 597.6,1890.0 Q599.7,1890.9 600.6,1892.1 Q601.5,1893.3 603.3,1894.9 Q605.0,1896.6 603.3,1898.1 Q601.6,1899.7 600.5,1900.5 Q599.4,1901.3 597.9,1903.2 Q596.5,1905.1 595.9,1906.2 Q595.4,1907.3 595.5,1908.7 Q595.6,1910.0 596.0,1911.7 Q596.3,1913.4 596.3,1915.6 Q596.4,1917.8 596.9,1919.5 Q597.5,1921.2 597.1,1922.4 Q596.7,1923.6 597.4,1925.5 Q598.0,1927.4 598.5,1929.6 Q599.1,1931.8 600.7,1933.5 Q602.3,1935.3 601.5,1936.8 Q600.7,1938.2 602.3,1940.3 Q603.8,1942.4 602.9,1943.8 Q601.9,1945.2 602.3,1946.9 Q602.6,1948.7 604.6,1950.7 Q606.5,1952.7 606.6,1954.6 Q606.6,1956.5 605.1,1957.6 Q603.5,1958.8 602.4,1960.6 Q601.3,1962.5 601.3,1964.4 L601.3,1966.3" fill="none" stroke="#fff" stroke-width="2.1" stroke-linejoin="round"/>
<circle cx="535.9" cy="1851.5" r="1.7" fill="#cfcfcf"/>
<circle cx="582.3" cy="1882.3" r="1.8" fill="#d8d8d8"/>
<circle cx="570.1" cy="1907.3" r="1.8" fill="#d0d0d0"/>
<circle cx="585.8" cy="1915.3" r="1.6" fill="#d0d0d0"/>
<circle cx="563.6" cy="1944.1" r="1.8" fill="#d0d0d0"/>
<circle cx="551.4" cy="1956.2" r="1.7" fill="#c8c8c8"/>
<circle cx="532.7" cy="1954.8" r="1.4" fill="#c8c8c8"/>
</g>
<rect x="496.50" y="1834.50" width="130.00" height="130.30" fill="none" stroke="#000" stroke-width="3.0"/>
<g clip-path="url(#mc10)">
<rect x="607.6" y="1804.7" width="190" height="190" fill="#888" filter="url(#mf10)" transform="rotate(-44.8 702.6 1899.7)"/>
<path d="M666.2,1833.0 Q666.2,1836.0 666.1,1837.5 Q666.1,1839.1 666.4,1840.8 Q666.8,1842.5 666.4,1843.9 Q666.1,1845.3 667.1,1847.3 Q668.1,1849.3 668.9,1850.9 Q669.6,1852.6 670.6,1854.8 Q671.6,1857.0 671.2,1858.6 Q670.8,1860.2 669.9,1861.7 Q668.9,1863.2 667.7,1865.3 Q666.4,1867.4 665.8,1868.9 Q665.2,1870.3 665.0,1872.3 Q664.8,1874.2 664.5,1876.2 Q664.1,1878.2 664.2,1879.9 Q664.4,1881.6 662.7,1883.1 Q660.9,1884.6 662.0,1886.2 Q663.1,1887.8 663.6,1889.2 Q664.0,1890.6 663.9,1892.0 Q663.9,1893.4 662.6,1894.8 Q661.4,1896.3 661.9,1898.1 Q662.5,1900.0 661.0,1901.2 Q659.5,1902.3 659.9,1904.1 Q660.2,1905.9 660.4,1907.8 Q660.7,1909.7 660.9,1911.5 Q661.2,1913.3 660.4,1915.4 Q659.6,1917.6 660.2,1919.2 Q660.8,1920.9 660.4,1922.3 Q660.0,1923.7 659.1,1925.4 Q658.3,1927.1 658.2,1929.0 Q658.0,1930.8 659.4,1932.7 Q660.8,1934.6 660.9,1936.7 Q661.1,1938.8 661.8,1940.4 Q662.6,1942.1 662.8,1944.0 Q663.0,1946.0 662.8,1947.6 Q662.6,1949.2 662.4,1951.0 Q662.2,1952.8 663.6,1954.1 Q665.0,1955.5 664.2,1957.5 Q663.4,1959.6 664.3,1961.0 Q665.3,1962.5 665.3,1964.4 L665.3,1966.3 L734.8,1966.3 Q734.8,1962.5 735.5,1961.0 Q736.3,1959.6 736.8,1957.6 Q737.4,1955.5 737.4,1954.1 Q737.5,1952.6 737.2,1951.1 Q736.9,1949.6 737.2,1947.5 Q737.4,1945.5 737.2,1943.6 Q736.9,1941.7 738.0,1939.9 Q739.1,1938.1 738.8,1936.6 Q738.5,1935.1 735.9,1933.5 Q733.3,1932.0 732.4,1930.8 Q731.5,1929.5 731.2,1928.3 Q730.9,1927.1 732.1,1925.2 Q733.2,1923.3 734.1,1922.1 Q735.0,1921.0 733.9,1919.5 Q732.8,1918.1 731.1,1916.6 Q729.4,1915.1 728.8,1913.4 Q728.2,1911.7 727.7,1910.2 Q727.3,1908.6 727.5,1907.0 Q727.6,1905.4 727.6,1903.7 Q727.5,1902.0 728.1,1900.8 Q728.7,1899.5 728.9,1898.0 Q729.0,1896.4 728.5,1894.7 Q727.9,1893.1 726.2,1892.0 Q724.5,1890.8 725.2,1889.1 Q726.0,1887.4 728.1,1886.3 Q730.2,1885.1 729.9,1883.5 Q729.5,1881.9 729.7,1880.1 Q730.0,1878.2 729.7,1876.6 Q729.4,1874.9 728.3,1873.4 Q727.2,1872.0 728.3,1870.3 Q729.4,1868.6 728.9,1867.1 Q728.4,1865.5 730.3,1863.2 Q732.2,1860.9 730.4,1859.6 Q728.6,1858.3 728.2,1856.4 Q727.7,1854.5 726.9,1853.1 Q726.1,1851.8 726.9,1850.4 Q727.7,1849.1 727.7,1847.4 Q727.7,1845.7 727.1,1843.7 Q726.4,1841.7 727.3,1840.2 Q728.2,1838.7 727.5,1837.3 Q726.7,1836.0 726.7,1834.5 L726.7,1833.0 Z" fill="url(#mg10)"/>
<path d="M666.2,1833.0 Q666.2,1836.0 666.1,1837.5 Q666.1,1839.1 666.4,1840.8 Q666.8,1842.5 666.4,1843.9 Q666.1,1845.3 667.1,1847.3 Q668.1,1849.3 668.9,1850.9 Q669.6,1852.6 670.6,1854.8 Q671.6,1857.0 671.2,1858.6 Q670.8,1860.2 669.9,1861.7 Q668.9,1863.2 667.7,1865.3 Q666.4,1867.4 665.8,1868.9 Q665.2,1870.3 665.0,1872.3 Q664.8,1874.2 664.5,1876.2 Q664.1,1878.2 664.2,1879.9 Q664.4,1881.6 662.7,1883.1 Q660.9,1884.6 662.0,1886.2 Q663.1,1887.8 663.6,1889.2 Q664.0,1890.6 663.9,1892.0 Q663.9,1893.4 662.6,1894.8 Q661.4,1896.3 661.9,1898.1 Q662.5,1900.0 661.0,1901.2 Q659.5,1902.3 659.9,1904.1 Q660.2,1905.9 660.4,1907.8 Q660.7,1909.7 660.9,1911.5 Q661.2,1913.3 660.4,1915.4 Q659.6,1917.6 660.2,1919.2 Q660.8,1920.9 660.4,1922.3 Q660.0,1923.7 659.1,1925.4 Q658.3,1927.1 658.2,1929.0 Q658.0,1930.8 659.4,1932.7 Q660.8,1934.6 660.9,1936.7 Q661.1,1938.8 661.8,1940.4 Q662.6,1942.1 662.8,1944.0 Q663.0,1946.0 662.8,1947.6 Q662.6,1949.2 662.4,1951.0 Q662.2,1952.8 663.6,1954.1 Q665.0,1955.5 664.2,1957.5 Q663.4,1959.6 664.3,1961.0 Q665.3,1962.5 665.3,1964.4 L665.3,1966.3" fill="none" stroke="#fff" stroke-width="2.1" stroke-linejoin="round"/>
<path d="M726.7,1833.0 Q726.7,1836.0 727.5,1837.3 Q728.2,1838.7 727.3,1840.2 Q726.4,1841.7 727.1,1843.7 Q727.7,1845.7 727.7,1847.4 Q727.7,1849.1 726.9,1850.4 Q726.1,1851.8 726.9,1853.1 Q727.7,1854.5 728.2,1856.4 Q728.6,1858.3 730.4,1859.6 Q732.2,1860.9 730.3,1863.2 Q728.4,1865.5 728.9,1867.1 Q729.4,1868.6 728.3,1870.3 Q727.2,1872.0 728.3,1873.4 Q729.4,1874.9 729.7,1876.6 Q730.0,1878.2 729.7,1880.1 Q729.5,1881.9 729.9,1883.5 Q730.2,1885.1 728.1,1886.3 Q726.0,1887.4 725.2,1889.1 Q724.5,1890.8 726.2,1892.0 Q727.9,1893.1 728.5,1894.7 Q729.0,1896.4 728.9,1898.0 Q728.7,1899.5 728.1,1900.8 Q727.5,1902.0 727.6,1903.7 Q727.6,1905.4 727.5,1907.0 Q727.3,1908.6 727.7,1910.2 Q728.2,1911.7 728.8,1913.4 Q729.4,1915.1 731.1,1916.6 Q732.8,1918.1 733.9,1919.5 Q735.0,1921.0 734.1,1922.1 Q733.2,1923.3 732.1,1925.2 Q730.9,1927.1 731.2,1928.3 Q731.5,1929.5 732.4,1930.8 Q733.3,1932.0 735.9,1933.5 Q738.5,1935.1 738.8,1936.6 Q739.1,1938.1 738.0,1939.9 Q736.9,1941.7 737.2,1943.6 Q737.4,1945.5 737.2,1947.5 Q736.9,1949.6 737.2,1951.1 Q737.5,1952.6 737.4,1954.1 Q737.4,1955.5 736.8,1957.6 Q736.3,1959.6 735.5,1961.0 Q734.8,1962.5 734.8,1964.4 L734.8,1966.3" fill="none" stroke="#fff" stroke-width="2.1" stroke-linejoin="round"/>
<circle cx="708.0" cy="1883.2" r="1.7" fill="#9a9a9a"/>
<circle cx="723.5" cy="1904.6" r="1.7" fill="#a8a8a8"/>
<circle cx="733.9" cy="1891.2" r="1.6" fill="#111"/>
</g>
<rect x="637.60" y="1834.50" width="130.00" height="130.30" fill="none" stroke="#000" stroke-width="3.0"/>
<g clip-path="url(#mc11)">
<rect x="466.5" y="1945.7" width="190" height="190" fill="#888" filter="url(#mf11)" transform="rotate(-53.3 561.5 2040.7)"/>
<path d="M545.7,1977.1 Q544.3,1977.0 543.7,1978.7 Q543.1,1980.4 543.0,1982.0 Q542.9,1983.5 542.0,1985.1 Q541.1,1986.7 541.3,1988.4 Q541.5,1990.1 541.8,1991.4 Q542.1,1992.8 542.9,1994.1 Q543.8,1995.5 544.2,1996.9 Q544.5,1998.3 546.1,2000.1 Q547.7,2001.8 548.8,2001.9 Q549.9,2002.0 551.6,2001.9 Q553.4,2001.8 554.5,2001.9 Q555.6,2002.0 556.6,2000.0 Q557.6,1998.1 557.3,1996.3 Q557.0,1994.5 558.0,1992.5 Q559.1,1990.4 558.9,1988.7 Q558.8,1987.0 557.8,1985.5 Q556.9,1984.0 557.1,1982.2 Q557.4,1980.4 556.6,1978.9 Q555.8,1977.3 554.5,1977.0 Q553.2,1976.7 552.2,1976.8 Q551.1,1976.8 549.1,1976.9 Q547.1,1977.1 545.7,1977.1Z" fill="url(#mg11)" stroke="#fff" stroke-width="2.0" stroke-linejoin="round"/>
<path d="M558.4,2004.7 Q556.8,2004.3 556.0,2005.6 Q555.2,2007.0 554.9,2008.5 Q554.5,2010.1 553.4,2011.4 Q552.3,2012.6 552.2,2014.4 Q552.1,2016.3 552.7,2017.8 Q553.3,2019.3 552.8,2020.9 Q552.2,2022.4 552.3,2024.2 Q552.3,2025.9 553.4,2026.6 Q554.4,2027.2 556.0,2027.7 Q557.5,2028.3 558.7,2029.1 Q560.0,2029.9 561.8,2030.2 Q563.7,2030.5 564.4,2029.0 Q565.1,2027.6 565.7,2025.9 Q566.4,2024.2 567.7,2022.8 Q569.0,2021.3 569.7,2019.7 Q570.4,2018.2 571.6,2017.1 Q572.8,2016.0 571.8,2014.2 Q570.8,2012.4 570.0,2010.9 Q569.2,2009.5 567.4,2008.6 Q565.5,2007.8 563.9,2006.6 Q562.3,2005.4 561.1,2005.3 Q560.0,2005.2 558.4,2004.7Z" fill="url(#mg11)" stroke="#fff" stroke-width="2.0" stroke-linejoin="round"/>
<path d="M560.6,2038.5 Q561.2,2036.3 562.8,2036.1 Q564.3,2035.8 566.5,2035.4 Q568.6,2034.9 571.0,2035.9 Q573.4,2036.8 572.2,2038.6 Q571.0,2040.3 569.0,2040.9 Q566.9,2041.5 564.9,2042.4 Q563.0,2043.3 561.4,2045.2 Q559.8,2047.2 558.5,2047.0 Q557.2,2046.8 555.2,2046.9 Q553.3,2047.0 551.7,2046.6 Q550.1,2046.3 548.7,2046.8 Q547.3,2047.3 545.7,2047.9 Q544.1,2048.6 543.9,2051.1 Q543.7,2053.6 544.5,2055.2 Q545.3,2056.8 546.9,2058.7 Q548.5,2060.5 550.1,2061.1 Q551.8,2061.6 553.7,2060.7 Q555.7,2059.8 556.8,2058.6 Q558.0,2057.5 558.1,2055.3 Q558.2,2053.1 557.7,2051.1 Q557.3,2049.2 558.6,2046.8 Q559.9,2044.4 559.9,2042.5 Q560.0,2040.6 560.6,2038.5Z" fill="url(#mg11)" stroke="#fff" stroke-width="2.0" stroke-linejoin="round"/>
<path d="M552.9,2065.9 Q551.4,2065.2 549.8,2066.6 Q548.1,2068.1 547.4,2069.4 Q546.8,2070.8 544.7,2072.0 Q542.6,2073.3 542.4,2075.3 Q542.3,2077.3 541.6,2079.4 Q540.9,2081.4 542.8,2082.9 Q544.8,2084.3 545.5,2086.0 Q546.2,2087.8 547.8,2088.2 Q549.4,2088.6 551.4,2088.5 Q553.4,2088.3 554.9,2087.6 Q556.3,2086.8 557.3,2085.7 Q558.4,2084.6 559.2,2083.7 Q560.1,2082.8 561.1,2080.8 Q562.1,2078.9 561.5,2077.0 Q560.9,2075.0 560.5,2073.4 Q560.2,2071.7 559.3,2069.9 Q558.4,2068.0 556.3,2067.4 Q554.3,2066.7 552.9,2065.9Z" fill="url(#mg11)" stroke="#fff" stroke-width="2.0" stroke-linejoin="round"/>
<path d="M555.1,2090.9 Q553.2,2090.1 552.6,2091.8 Q552.0,2093.5 551.5,2095.3 Q551.0,2097.1 551.5,2098.7 Q552.0,2100.3 550.8,2102.0 Q549.7,2103.8 551.8,2103.4 Q553.9,2103.1 555.3,2103.2 Q556.6,2103.3 558.4,2103.5 Q560.2,2103.8 560.0,2101.8 Q559.7,2099.7 560.1,2097.9 Q560.5,2096.0 558.8,2093.9 Q557.1,2091.7 555.1,2090.9Z" fill="url(#mg11)" stroke="#fff" stroke-width="2.0" stroke-linejoin="round"/>
<path d="M556.6,2001.6 Q557.7,2003.2 557.3,2003.9 L557.0,2004.6" fill="none" stroke="#fff" stroke-width="2.0" stroke-linecap="round" stroke-linejoin="round"/>
<path d="M563.4,2030.4 Q565.7,2033.1 563.6,2034.7 L561.6,2036.3" fill="none" stroke="#fff" stroke-width="2.0" stroke-linecap="round" stroke-linejoin="round"/>
<path d="M548.8,2060.2 Q552.0,2063.0 551.8,2064.3 L551.6,2065.5" fill="none" stroke="#fff" stroke-width="2.0" stroke-linecap="round" stroke-linejoin="round"/>
<path d="M553.8,2088.3 Q554.5,2089.8 553.9,2090.3 L553.4,2090.8" fill="none" stroke="#fff" stroke-width="2.0" stroke-linecap="round" stroke-linejoin="round"/>
</g>
<rect x="496.50" y="1975.50" width="130.00" height="130.30" fill="none" stroke="#000" stroke-width="3.0"/>
<g clip-path="url(#mc12)">
<rect x="607.6" y="1945.7" width="190" height="190" fill="#888" filter="url(#mf12)" transform="rotate(44.1 702.6 2040.7)"/>
<path d="M687.6,1974.0 Q687.6,1977.0 687.9,1978.6 Q688.2,1980.2 688.2,1982.0 Q688.2,1983.9 689.1,1985.5 Q690.1,1987.1 689.9,1988.6 Q689.6,1990.2 689.6,1991.9 Q689.6,1993.6 689.5,1995.0 Q689.3,1996.5 688.8,1997.7 Q688.2,1999.0 687.9,2000.6 Q687.6,2002.2 687.4,2003.7 Q687.2,2005.1 686.9,2006.6 Q686.5,2008.1 685.4,2009.7 Q684.3,2011.4 683.6,2012.7 Q682.9,2014.1 682.8,2015.8 Q682.7,2017.5 681.6,2019.2 Q680.5,2020.8 682.2,2021.2 Q683.8,2021.6 686.1,2021.9 Q688.4,2022.2 688.5,2024.0 Q688.7,2025.8 689.5,2027.2 Q690.3,2028.6 691.1,2029.9 Q691.9,2031.1 690.6,2032.9 Q689.4,2034.6 688.9,2035.8 Q688.4,2037.0 687.6,2038.7 Q686.9,2040.4 686.3,2041.7 Q685.7,2043.0 684.0,2044.3 Q682.3,2045.5 682.7,2047.2 Q683.1,2048.8 683.9,2050.2 Q684.8,2051.7 685.1,2053.2 Q685.3,2054.8 685.2,2056.5 Q685.1,2058.2 685.3,2059.9 Q685.5,2061.7 685.9,2063.5 Q686.3,2065.2 686.8,2067.0 Q687.3,2068.9 687.4,2070.7 Q687.6,2072.4 688.5,2074.2 Q689.5,2076.1 690.3,2077.8 Q691.0,2079.6 692.4,2081.3 Q693.8,2083.0 694.1,2084.5 Q694.3,2085.9 695.1,2087.6 Q695.8,2089.2 695.8,2090.5 Q695.9,2091.8 694.9,2093.2 Q693.8,2094.6 692.8,2096.1 Q691.8,2097.6 691.1,2099.2 Q690.3,2100.7 688.9,2102.1 Q687.6,2103.5 687.6,2105.4 L687.6,2107.3 L717.8,2107.3 Q717.8,2103.5 719.0,2102.2 Q720.1,2100.9 720.6,2099.6 Q721.2,2098.2 722.6,2096.7 Q724.0,2095.3 723.2,2093.7 Q722.4,2092.2 721.9,2090.8 Q721.3,2089.5 720.3,2087.9 Q719.2,2086.2 718.2,2087.0 Q717.2,2087.8 715.4,2088.2 Q713.7,2088.7 712.6,2089.4 Q711.6,2090.1 710.8,2088.7 Q710.1,2087.4 709.8,2085.6 Q709.6,2083.8 709.0,2082.4 Q708.4,2080.9 709.1,2079.9 Q709.7,2078.9 711.2,2077.7 Q712.7,2076.5 714.1,2075.4 Q715.6,2074.4 716.3,2073.5 Q717.1,2072.6 716.7,2070.9 Q716.3,2069.2 715.8,2067.7 Q715.3,2066.2 715.2,2064.8 Q715.0,2063.3 715.7,2061.7 Q716.4,2060.0 717.3,2058.2 Q718.1,2056.3 717.3,2055.3 Q716.4,2054.2 714.3,2053.6 Q712.2,2053.0 713.0,2051.2 Q713.9,2049.3 714.9,2047.5 Q716.0,2045.6 714.1,2044.8 Q712.3,2043.9 711.3,2042.8 Q710.4,2041.8 708.5,2041.2 Q706.6,2040.5 708.4,2038.9 Q710.2,2037.3 711.0,2036.0 Q711.9,2034.7 713.0,2033.4 Q714.2,2032.2 715.2,2030.9 Q716.2,2029.6 715.1,2027.8 Q713.9,2026.0 712.0,2024.1 Q710.0,2022.2 710.1,2020.7 Q710.3,2019.3 710.6,2017.9 Q711.0,2016.4 711.8,2014.6 Q712.5,2012.7 712.3,2011.5 Q712.1,2010.2 711.1,2008.9 Q710.0,2007.6 708.0,2006.2 Q705.9,2004.7 706.8,2003.5 Q707.7,2002.2 709.0,2001.0 Q710.3,1999.8 711.7,1998.8 Q713.1,1997.7 713.4,1996.1 Q713.7,1994.5 713.9,1992.8 Q714.2,1991.0 714.5,1989.6 Q714.9,1988.2 715.0,1986.8 Q715.2,1985.3 714.6,1983.7 Q714.0,1982.2 712.6,1980.8 Q711.2,1979.5 710.1,1978.2 Q708.9,1977.0 708.9,1975.5 L708.9,1974.0 Z" fill="url(#mg12)"/>
<path d="M687.6,1974.0 Q687.6,1977.0 687.9,1978.6 Q688.2,1980.2 688.2,1982.0 Q688.2,1983.9 689.1,1985.5 Q690.1,1987.1 689.9,1988.6 Q689.6,1990.2 689.6,1991.9 Q689.6,1993.6 689.5,1995.0 Q689.3,1996.5 688.8,1997.7 Q688.2,1999.0 687.9,2000.6 Q687.6,2002.2 687.4,2003.7 Q687.2,2005.1 686.9,2006.6 Q686.5,2008.1 685.4,2009.7 Q684.3,2011.4 683.6,2012.7 Q682.9,2014.1 682.8,2015.8 Q682.7,2017.5 681.6,2019.2 Q680.5,2020.8 682.2,2021.2 Q683.8,2021.6 686.1,2021.9 Q688.4,2022.2 688.5,2024.0 Q688.7,2025.8 689.5,2027.2 Q690.3,2028.6 691.1,2029.9 Q691.9,2031.1 690.6,2032.9 Q689.4,2034.6 688.9,2035.8 Q688.4,2037.0 687.6,2038.7 Q686.9,2040.4 686.3,2041.7 Q685.7,2043.0 684.0,2044.3 Q682.3,2045.5 682.7,2047.2 Q683.1,2048.8 683.9,2050.2 Q684.8,2051.7 685.1,2053.2 Q685.3,2054.8 685.2,2056.5 Q685.1,2058.2 685.3,2059.9 Q685.5,2061.7 685.9,2063.5 Q686.3,2065.2 686.8,2067.0 Q687.3,2068.9 687.4,2070.7 Q687.6,2072.4 688.5,2074.2 Q689.5,2076.1 690.3,2077.8 Q691.0,2079.6 692.4,2081.3 Q693.8,2083.0 694.1,2084.5 Q694.3,2085.9 695.1,2087.6 Q695.8,2089.2 695.8,2090.5 Q695.9,2091.8 694.9,2093.2 Q693.8,2094.6 692.8,2096.1 Q691.8,2097.6 691.1,2099.2 Q690.3,2100.7 688.9,2102.1 Q687.6,2103.5 687.6,2105.4 L687.6,2107.3" fill="none" stroke="#fff" stroke-width="2.1" stroke-linejoin="round"/>
<path d="M708.9,1974.0 Q708.9,1977.0 710.1,1978.2 Q711.2,1979.5 712.6,1980.8 Q714.0,1982.2 714.6,1983.7 Q715.2,1985.3 715.0,1986.8 Q714.9,1988.2 714.5,1989.6 Q714.2,1991.0 713.9,1992.8 Q713.7,1994.5 713.4,1996.1 Q713.1,1997.7 711.7,1998.8 Q710.3,1999.8 709.0,2001.0 Q707.7,2002.2 706.8,2003.5 Q705.9,2004.7 708.0,2006.2 Q710.0,2007.6 711.1,2008.9 Q712.1,2010.2 712.3,2011.5 Q712.5,2012.7 711.8,2014.6 Q711.0,2016.4 710.6,2017.9 Q710.3,2019.3 710.1,2020.7 Q710.0,2022.2 712.0,2024.1 Q713.9,2026.0 715.1,2027.8 Q716.2,2029.6 715.2,2030.9 Q714.2,2032.2 713.0,2033.4 Q711.9,2034.7 711.0,2036.0 Q710.2,2037.3 708.4,2038.9 Q706.6,2040.5 708.5,2041.2 Q710.4,2041.8 711.3,2042.8 Q712.3,2043.9 714.1,2044.8 Q716.0,2045.6 714.9,2047.5 Q713.9,2049.3 713.0,2051.2 Q712.2,2053.0 714.3,2053.6 Q716.4,2054.2 717.3,2055.3 Q718.1,2056.3 717.3,2058.2 Q716.4,2060.0 715.7,2061.7 Q715.0,2063.3 715.2,2064.8 Q715.3,2066.2 715.8,2067.7 Q716.3,2069.2 716.7,2070.9 Q717.1,2072.6 716.3,2073.5 Q715.6,2074.4 714.1,2075.4 Q712.7,2076.5 711.2,2077.7 Q709.7,2078.9 709.1,2079.9 Q708.4,2080.9 709.0,2082.4 Q709.6,2083.8 709.8,2085.6 Q710.1,2087.4 710.8,2088.7 Q711.6,2090.1 712.6,2089.4 Q713.7,2088.7 715.4,2088.2 Q717.2,2087.8 718.2,2087.0 Q719.2,2086.2 720.3,2087.9 Q721.3,2089.5 721.9,2090.8 Q722.4,2092.2 723.2,2093.7 Q724.0,2095.3 722.6,2096.7 Q721.2,2098.2 720.6,2099.6 Q720.1,2100.9 719.0,2102.2 Q717.8,2103.5 717.8,2105.4 L717.8,2107.3" fill="none" stroke="#fff" stroke-width="2.1" stroke-linejoin="round"/>
</g>
<rect x="637.60" y="1975.50" width="130.00" height="130.30" fill="none" stroke="#000" stroke-width="3.0"/>
<g clip-path="url(#mc13)">
<rect x="1292.5" y="1804.7" width="190" height="190" fill="#888" filter="url(#mf13)" transform="rotate(31.5 1387.5 1899.7)"/>
<path d="M1364.8,1833.0 Q1364.8,1836.0 1363.8,1837.9 Q1362.7,1839.7 1362.7,1841.1 Q1362.8,1842.4 1361.8,1844.1 Q1360.8,1845.9 1361.4,1847.3 Q1362.1,1848.7 1362.1,1850.1 Q1362.1,1851.5 1362.7,1853.3 Q1363.2,1855.1 1364.6,1856.5 Q1366.0,1857.9 1365.0,1859.8 Q1364.0,1861.7 1364.6,1863.3 Q1365.3,1864.9 1364.5,1866.3 Q1363.8,1867.6 1363.8,1868.9 Q1363.8,1870.2 1364.4,1871.5 Q1365.0,1872.9 1367.3,1873.7 Q1369.7,1874.5 1369.2,1875.8 Q1368.6,1877.1 1367.4,1879.0 Q1366.2,1880.9 1366.0,1882.8 Q1365.7,1884.7 1364.7,1886.6 Q1363.7,1888.4 1364.3,1889.7 Q1364.8,1890.9 1365.1,1893.0 Q1365.3,1895.1 1366.0,1896.5 Q1366.7,1898.0 1365.7,1899.4 Q1364.7,1900.8 1364.5,1902.7 Q1364.3,1904.6 1364.9,1906.3 Q1365.6,1908.0 1366.0,1909.4 Q1366.4,1910.8 1366.2,1912.6 Q1366.1,1914.3 1367.1,1916.3 Q1368.0,1918.2 1367.8,1919.7 Q1367.6,1921.2 1367.9,1922.5 Q1368.2,1923.9 1368.5,1925.9 Q1368.7,1927.9 1368.4,1929.5 Q1368.1,1931.1 1368.0,1933.1 Q1368.0,1935.0 1367.7,1936.4 Q1367.5,1937.8 1366.0,1939.6 Q1364.5,1941.5 1365.6,1943.1 Q1366.7,1944.8 1366.7,1946.5 Q1366.7,1948.2 1366.1,1950.1 Q1365.4,1952.0 1365.9,1953.7 Q1366.4,1955.4 1366.2,1957.3 Q1366.0,1959.1 1366.8,1960.6 Q1367.5,1962.0 1367.5,1964.2 L1367.5,1966.3 L1409.2,1966.3 Q1409.2,1962.0 1409.2,1960.1 Q1409.2,1958.3 1408.6,1956.6 Q1407.9,1955.0 1408.0,1953.5 Q1408.0,1952.0 1407.7,1950.4 Q1407.4,1948.9 1406.6,1946.8 Q1405.8,1944.7 1406.1,1943.0 Q1406.5,1941.2 1405.7,1939.6 Q1405.0,1938.1 1404.6,1936.2 Q1404.2,1934.2 1405.2,1932.4 Q1406.2,1930.5 1406.7,1928.9 Q1407.2,1927.4 1406.1,1925.7 Q1404.9,1924.1 1405.6,1922.3 Q1406.3,1920.6 1406.8,1919.2 Q1407.4,1917.7 1406.8,1915.8 Q1406.2,1913.8 1405.0,1912.4 Q1403.8,1911.1 1404.5,1909.6 Q1405.2,1908.0 1405.8,1906.3 Q1406.4,1904.5 1405.4,1902.4 Q1404.4,1900.3 1405.6,1898.7 Q1406.8,1897.1 1406.4,1895.1 Q1406.0,1893.2 1406.9,1891.4 Q1407.9,1889.6 1406.7,1888.0 Q1405.5,1886.3 1406.0,1884.9 Q1406.5,1883.6 1405.8,1881.4 Q1405.0,1879.1 1404.5,1877.6 Q1404.1,1876.1 1404.0,1874.2 Q1403.9,1872.4 1404.2,1870.9 Q1404.6,1869.3 1404.7,1867.3 Q1404.8,1865.2 1405.3,1863.6 Q1405.9,1862.1 1405.7,1860.1 Q1405.5,1858.1 1406.0,1856.3 Q1406.6,1854.6 1406.7,1853.2 Q1406.8,1851.7 1407.2,1849.9 Q1407.5,1848.0 1406.7,1846.4 Q1405.8,1844.8 1405.2,1843.7 Q1404.6,1842.7 1404.8,1841.1 Q1405.0,1839.4 1405.3,1837.7 Q1405.6,1836.0 1405.6,1834.5 L1405.6,1833.0 Z" fill="url(#mg13)"/>
<path d="M1364.8,1833.0 Q1364.8,1836.0 1363.8,1837.9 Q1362.7,1839.7 1362.7,1841.1 Q1362.8,1842.4 1361.8,1844.1 Q1360.8,1845.9 1361.4,1847.3 Q1362.1,1848.7 1362.1,1850.1 Q1362.1,1851.5 1362.7,1853.3 Q1363.2,1855.1 1364.6,1856.5 Q1366.0,1857.9 1365.0,1859.8 Q1364.0,1861.7 1364.6,1863.3 Q1365.3,1864.9 1364.5,1866.3 Q1363.8,1867.6 1363.8,1868.9 Q1363.8,1870.2 1364.4,1871.5 Q1365.0,1872.9 1367.3,1873.7 Q1369.7,1874.5 1369.2,1875.8 Q1368.6,1877.1 1367.4,1879.0 Q1366.2,1880.9 1366.0,1882.8 Q1365.7,1884.7 1364.7,1886.6 Q1363.7,1888.4 1364.3,1889.7 Q1364.8,1890.9 1365.1,1893.0 Q1365.3,1895.1 1366.0,1896.5 Q1366.7,1898.0 1365.7,1899.4 Q1364.7,1900.8 1364.5,1902.7 Q1364.3,1904.6 1364.9,1906.3 Q1365.6,1908.0 1366.0,1909.4 Q1366.4,1910.8 1366.2,1912.6 Q1366.1,1914.3 1367.1,1916.3 Q1368.0,1918.2 1367.8,1919.7 Q1367.6,1921.2 1367.9,1922.5 Q1368.2,1923.9 1368.5,1925.9 Q1368.7,1927.9 1368.4,1929.5 Q1368.1,1931.1 1368.0,1933.1 Q1368.0,1935.0 1367.7,1936.4 Q1367.5,1937.8 1366.0,1939.6 Q1364.5,1941.5 1365.6,1943.1 Q1366.7,1944.8 1366.7,1946.5 Q1366.7,1948.2 1366.1,1950.1 Q1365.4,1952.0 1365.9,1953.7 Q1366.4,1955.4 1366.2,1957.3 Q1366.0,1959.1 1366.8,1960.6 Q1367.5,1962.0 1367.5,1964.2 L1367.5,1966.3" fill="none" stroke="#fff" stroke-width="2.1" stroke-linejoin="round"/>
<path d="M1405.6,1833.0 Q1405.6,1836.0 1405.3,1837.7 Q1405.0,1839.4 1404.8,1841.1 Q1404.6,1842.7 1405.2,1843.7 Q1405.8,1844.8 1406.7,1846.4 Q1407.5,1848.0 1407.2,1849.9 Q1406.8,1851.7 1406.7,1853.2 Q1406.6,1854.6 1406.0,1856.3 Q1405.5,1858.1 1405.7,1860.1 Q1405.9,1862.1 1405.3,1863.6 Q1404.8,1865.2 1404.7,1867.3 Q1404.6,1869.3 1404.2,1870.9 Q1403.9,1872.4 1404.0,1874.2 Q1404.1,1876.1 1404.5,1877.6 Q1405.0,1879.1 1405.8,1881.4 Q1406.5,1883.6 1406.0,1884.9 Q1405.5,1886.3 1406.7,1888.0 Q1407.9,1889.6 1406.9,1891.4 Q1406.0,1893.2 1406.4,1895.1 Q1406.8,1897.1 1405.6,1898.7 Q1404.4,1900.3 1405.4,1902.4 Q1406.4,1904.5 1405.8,1906.3 Q1405.2,1908.0 1404.5,1909.6 Q1403.8,1911.1 1405.0,1912.4 Q1406.2,1913.8 1406.8,1915.8 Q1407.4,1917.7 1406.8,1919.2 Q1406.3,1920.6 1405.6,1922.3 Q1404.9,1924.1 1406.1,1925.7 Q1407.2,1927.4 1406.7,1928.9 Q1406.2,1930.5 1405.2,1932.4 Q1404.2,1934.2 1404.6,1936.2 Q1405.0,1938.1 1405.7,1939.6 Q1406.5,1941.2 1406.1,1943.0 Q1405.8,1944.7 1406.6,1946.8 Q1407.4,1948.9 1407.7,1950.4 Q1408.0,1952.0 1408.0,1953.5 Q1407.9,1955.0 1408.6,1956.6 Q1409.2,1958.3 1409.2,1960.1 Q1409.2,1962.0 1409.2,1964.2 L1409.2,1966.3" fill="none" stroke="#fff" stroke-width="2.1" stroke-linejoin="round"/>
<circle cx="1385.2" cy="1850.7" r="1.8" fill="#9a9a9a"/>
<circle cx="1373.3" cy="1859.1" r="1.5" fill="#b8b8b8"/>
<circle cx="1371.9" cy="1865.8" r="1.4" fill="#b0b0b0"/>
<circle cx="1398.9" cy="1873.6" r="1.4" fill="#a8a8a8"/>
<circle cx="1377.6" cy="1943.7" r="1.5" fill="#a8a8a8"/>
</g>
<rect x="1322.50" y="1834.50" width="130.00" height="130.30" fill="none" stroke="#000" stroke-width="3.0"/>
<g clip-path="url(#mc14)">
<rect x="1433.4" y="1804.7" width="190" height="190" fill="#888" filter="url(#mf14)" transform="rotate(-33.2 1528.4 1899.7)"/>
<path d="M1499.9,1833.0 Q1499.9,1836.0 1499.4,1837.7 Q1498.9,1839.4 1498.9,1840.9 Q1498.9,1842.4 1499.0,1844.1 Q1499.0,1845.8 1499.8,1847.3 Q1500.5,1848.8 1501.2,1850.0 Q1501.9,1851.1 1501.6,1853.0 Q1501.3,1854.9 1499.4,1856.5 Q1497.4,1858.1 1495.9,1859.7 Q1494.4,1861.4 1497.2,1862.7 Q1499.9,1864.1 1501.0,1865.8 Q1502.0,1867.5 1502.4,1869.3 Q1502.8,1871.1 1503.0,1872.7 Q1503.3,1874.2 1503.6,1876.1 Q1504.0,1878.0 1505.3,1879.8 Q1506.5,1881.7 1505.2,1883.0 Q1503.8,1884.3 1504.0,1886.1 Q1504.2,1887.9 1504.6,1889.6 Q1504.9,1891.3 1504.3,1893.1 Q1503.7,1894.9 1504.3,1896.8 Q1504.9,1898.7 1503.6,1900.4 Q1502.3,1902.0 1503.2,1904.3 Q1504.0,1906.6 1504.4,1908.0 Q1504.8,1909.3 1504.8,1911.1 Q1504.8,1912.9 1504.1,1914.6 Q1503.4,1916.3 1504.2,1918.0 Q1505.0,1919.8 1504.6,1921.6 Q1504.2,1923.3 1504.7,1925.2 Q1505.3,1927.2 1505.4,1929.3 Q1505.5,1931.5 1505.3,1932.8 Q1505.2,1934.1 1505.9,1936.1 Q1506.7,1938.1 1506.2,1939.9 Q1505.7,1941.6 1505.3,1943.6 Q1504.9,1945.6 1504.6,1946.9 Q1504.3,1948.1 1504.5,1949.8 Q1504.6,1951.5 1505.7,1953.1 Q1506.7,1954.8 1506.5,1956.8 Q1506.4,1958.7 1507.1,1960.4 Q1507.9,1962.0 1507.9,1964.2 L1507.9,1966.3 L1555.8,1966.3 Q1555.8,1962.0 1555.8,1960.4 Q1555.8,1958.9 1555.2,1957.1 Q1554.7,1955.4 1554.4,1954.0 Q1554.1,1952.7 1555.3,1950.9 Q1556.6,1949.1 1555.8,1947.7 Q1555.1,1946.2 1555.3,1944.7 Q1555.4,1943.2 1554.6,1942.0 Q1553.7,1940.7 1554.0,1938.9 Q1554.3,1937.2 1552.8,1935.5 Q1551.3,1933.9 1550.7,1932.4 Q1550.1,1931.0 1550.2,1929.0 Q1550.3,1927.0 1550.9,1925.2 Q1551.6,1923.4 1551.7,1921.9 Q1551.8,1920.4 1552.2,1918.9 Q1552.6,1917.3 1552.3,1915.5 Q1551.9,1913.6 1552.6,1911.4 Q1553.3,1909.2 1552.1,1907.6 Q1550.9,1905.9 1551.3,1904.3 Q1551.8,1902.6 1552.1,1900.8 Q1552.3,1899.0 1551.9,1897.1 Q1551.6,1895.3 1550.7,1893.7 Q1549.8,1892.1 1550.2,1890.2 Q1550.7,1888.3 1550.0,1886.4 Q1549.3,1884.5 1550.6,1882.7 Q1551.9,1880.9 1551.0,1879.5 Q1550.2,1878.0 1551.2,1876.2 Q1552.1,1874.3 1552.2,1872.2 Q1552.3,1870.1 1552.7,1868.9 Q1553.0,1867.6 1553.2,1865.8 Q1553.4,1864.1 1553.6,1862.3 Q1553.7,1860.6 1553.1,1858.9 Q1552.6,1857.1 1550.8,1855.7 Q1549.0,1854.2 1548.8,1852.5 Q1548.5,1850.8 1548.6,1849.3 Q1548.6,1847.9 1549.4,1846.2 Q1550.3,1844.5 1550.3,1843.4 Q1550.3,1842.3 1550.5,1840.6 Q1550.7,1838.8 1550.6,1837.4 Q1550.5,1836.0 1550.5,1834.5 L1550.5,1833.0 Z" fill="url(#mg14)"/>
<path d="M1499.9,1833.0 Q1499.9,1836.0 1499.4,1837.7 Q1498.9,1839.4 1498.9,1840.9 Q1498.9,1842.4 1499.0,1844.1 Q1499.0,1845.8 1499.8,1847.3 Q1500.5,1848.8 1501.2,1850.0 Q1501.9,1851.1 1501.6,1853.0 Q1501.3,1854.9 1499.4,1856.5 Q1497.4,1858.1 1495.9,1859.7 Q1494.4,1861.4 1497.2,1862.7 Q1499.9,1864.1 1501.0,1865.8 Q1502.0,1867.5 1502.4,1869.3 Q1502.8,1871.1 1503.0,1872.7 Q1503.3,1874.2 1503.6,1876.1 Q1504.0,1878.0 1505.3,1879.8 Q1506.5,1881.7 1505.2,1883.0 Q1503.8,1884.3 1504.0,1886.1 Q1504.2,1887.9 1504.6,1889.6 Q1504.9,1891.3 1504.3,1893.1 Q1503.7,1894.9 1504.3,1896.8 Q1504.9,1898.7 1503.6,1900.4 Q1502.3,1902.0 1503.2,1904.3 Q1504.0,1906.6 1504.4,1908.0 Q1504.8,1909.3 1504.8,1911.1 Q1504.8,1912.9 1504.1,1914.6 Q1503.4,1916.3 1504.2,1918.0 Q1505.0,1919.8 1504.6,1921.6 Q1504.2,1923.3 1504.7,1925.2 Q1505.3,1927.2 1505.4,1929.3 Q1505.5,1931.5 1505.3,1932.8 Q1505.2,1934.1 1505.9,1936.1 Q1506.7,1938.1 1506.2,1939.9 Q1505.7,1941.6 1505.3,1943.6 Q1504.9,1945.6 1504.6,1946.9 Q1504.3,1948.1 1504.5,1949.8 Q1504.6,1951.5 1505.7,1953.1 Q1506.7,1954.8 1506.5,1956.8 Q1506.4,1958.7 1507.1,1960.4 Q1507.9,1962.0 1507.9,1964.2 L1507.9,1966.3" fill="none" stroke="#fff" stroke-width="2.1" stroke-linejoin="round"/>
<path d="M1550.5,1833.0 Q1550.5,1836.0 1550.6,1837.4 Q1550.7,1838.8 1550.5,1840.6 Q1550.3,1842.3 1550.3,1843.4 Q1550.3,1844.5 1549.4,1846.2 Q1548.6,1847.9 1548.6,1849.3 Q1548.5,1850.8 1548.8,1852.5 Q1549.0,1854.2 1550.8,1855.7 Q1552.6,1857.1 1553.1,1858.9 Q1553.7,1860.6 1553.6,1862.3 Q1553.4,1864.1 1553.2,1865.8 Q1553.0,1867.6 1552.7,1868.9 Q1552.3,1870.1 1552.2,1872.2 Q1552.1,1874.3 1551.2,1876.2 Q1550.2,1878.0 1551.0,1879.5 Q1551.9,1880.9 1550.6,1882.7 Q1549.3,1884.5 1550.0,1886.4 Q1550.7,1888.3 1550.2,1890.2 Q1549.8,1892.1 1550.7,1893.7 Q1551.6,1895.3 1551.9,1897.1 Q1552.3,1899.0 1552.1,1900.8 Q1551.8,1902.6 1551.3,1904.3 Q1550.9,1905.9 1552.1,1907.6 Q1553.3,1909.2 1552.6,1911.4 Q1551.9,1913.6 1552.3,1915.5 Q1552.6,1917.3 1552.2,1918.9 Q1551.8,1920.4 1551.7,1921.9 Q1551.6,1923.4 1550.9,1925.2 Q1550.3,1927.0 1550.2,1929.0 Q1550.1,1931.0 1550.7,1932.4 Q1551.3,1933.9 1552.8,1935.5 Q1554.3,1937.2 1554.0,1938.9 Q1553.7,1940.7 1554.6,1942.0 Q1555.4,1943.2 1555.3,1944.7 Q1555.1,1946.2 1555.8,1947.7 Q1556.6,1949.1 1555.3,1950.9 Q1554.1,1952.7 1554.4,1954.0 Q1554.7,1955.4 1555.2,1957.1 Q1555.8,1958.9 1555.8,1960.4 Q1555.8,1962.0 1555.8,1964.2 L1555.8,1966.3" fill="none" stroke="#fff" stroke-width="2.1" stroke-linejoin="round"/>
<circle cx="1533.1" cy="1860.0" r="1.8" fill="#a0a0a0"/>
<circle cx="1511.0" cy="1870.3" r="1.7" fill="#a8a8a8"/>
<circle cx="1511.0" cy="1877.7" r="1.6" fill="#a0a0a0"/>
<circle cx="1541.2" cy="1880.7" r="1.7" fill="#a0a0a0"/>
<circle cx="1514.4" cy="1904.7" r="1.7" fill="#a8a8a8"/>
<circle cx="1530.4" cy="1928.7" r="1.5" fill="#989898"/>
<circle cx="1545.5" cy="1854.6" r="1.4" fill="#989898"/>
</g>
<rect x="1463.40" y="1834.50" width="130.00" height="130.30" fill="none" stroke="#000" stroke-width="3.0"/>
<g clip-path="url(#mc15)">
<rect x="1292.5" y="1945.7" width="190" height="190" fill="#888" filter="url(#mf15)" transform="rotate(43.1 1387.5 2040.7)"/>
<rect x="1324.0" y="1977.0" width="127.0" height="127.3" fill="url(#ms15)"/>
</g>
<rect x="1322.50" y="1975.50" width="130.00" height="130.30" fill="none" stroke="#000" stroke-width="3.0"/>
<g clip-path="url(#mc16)">
<rect x="1433.4" y="1945.7" width="190" height="190" fill="#888" filter="url(#mf16)" transform="rotate(-36.5 1528.4 2040.7)"/>
<path d="M1518.5,1974.0 Q1518.5,1977.0 1517.9,1978.9 Q1517.4,1980.9 1516.3,1983.0 Q1515.2,1985.0 1514.7,1986.4 Q1514.3,1987.9 1513.0,1989.2 Q1511.8,1990.5 1511.1,1991.6 Q1510.4,1992.7 1509.4,1994.0 Q1508.5,1995.3 1509.4,1997.0 Q1510.4,1998.6 1510.2,2000.0 Q1509.9,2001.3 1510.9,2003.1 Q1511.9,2004.9 1512.3,2006.0 Q1512.7,2007.2 1513.6,2008.4 Q1514.5,2009.6 1515.7,2011.1 Q1516.9,2012.6 1517.6,2013.9 Q1518.3,2015.2 1518.9,2017.1 Q1519.5,2018.9 1520.2,2020.6 Q1520.9,2022.3 1520.0,2024.6 Q1519.2,2026.9 1519.0,2029.1 Q1518.9,2031.3 1519.8,2032.8 Q1520.7,2034.3 1521.2,2035.7 Q1521.7,2037.2 1521.5,2039.1 Q1521.4,2041.0 1521.8,2042.6 Q1522.3,2044.1 1522.5,2045.6 Q1522.8,2047.1 1521.9,2048.7 Q1521.0,2050.3 1520.6,2051.8 Q1520.3,2053.4 1520.0,2054.8 Q1519.8,2056.3 1519.9,2057.7 Q1520.1,2059.1 1520.6,2060.6 Q1521.1,2062.2 1522.0,2063.6 Q1522.9,2065.1 1523.1,2066.9 Q1523.2,2068.7 1523.8,2070.1 Q1524.4,2071.4 1524.9,2072.9 Q1525.4,2074.3 1525.8,2075.9 Q1526.1,2077.6 1525.7,2079.1 Q1525.2,2080.5 1524.6,2082.1 Q1523.9,2083.6 1523.8,2085.3 Q1523.6,2086.9 1522.7,2088.4 Q1521.8,2090.0 1521.6,2091.8 Q1521.5,2093.6 1520.5,2095.1 Q1519.6,2096.6 1519.8,2098.3 Q1520.0,2100.0 1520.6,2101.5 Q1521.2,2103.0 1521.2,2105.2 L1521.2,2107.3 L1531.8,2107.3 Q1531.8,2103.0 1531.7,2101.6 Q1531.7,2100.2 1531.3,2098.5 Q1530.9,2096.8 1533.1,2095.4 Q1535.3,2093.9 1535.9,2092.8 Q1536.5,2091.7 1536.4,2090.0 Q1536.3,2088.2 1536.2,2086.4 Q1536.2,2084.5 1537.6,2083.3 Q1539.1,2082.0 1540.5,2080.5 Q1541.9,2079.1 1541.9,2077.4 Q1541.8,2075.8 1542.8,2074.0 Q1543.7,2072.2 1542.4,2071.0 Q1541.0,2069.9 1539.2,2069.0 Q1537.5,2068.1 1536.4,2066.4 Q1535.4,2064.7 1534.5,2063.1 Q1533.6,2061.4 1533.4,2059.5 Q1533.2,2057.6 1532.9,2056.0 Q1532.6,2054.3 1531.7,2052.5 Q1530.7,2050.6 1530.4,2048.9 Q1530.1,2047.1 1529.6,2045.7 Q1529.1,2044.2 1527.9,2042.8 Q1526.6,2041.4 1526.0,2039.6 Q1525.4,2037.9 1525.4,2036.4 Q1525.4,2034.9 1525.2,2033.6 Q1525.0,2032.4 1524.6,2030.7 Q1524.2,2029.1 1524.3,2027.4 Q1524.5,2025.8 1525.8,2024.8 Q1527.1,2023.8 1528.2,2023.0 Q1529.2,2022.3 1530.5,2021.2 Q1531.7,2020.2 1530.6,2018.8 Q1529.5,2017.3 1528.6,2016.0 Q1527.7,2014.6 1526.7,2013.2 Q1525.7,2011.7 1525.0,2010.4 Q1524.3,2009.0 1523.5,2007.2 Q1522.8,2005.4 1521.6,2004.2 Q1520.5,2003.1 1521.0,2001.6 Q1521.6,2000.1 1522.6,1998.5 Q1523.6,1996.9 1524.3,1995.5 Q1525.1,1994.0 1526.5,1993.0 Q1527.9,1991.9 1529.7,1991.2 Q1531.5,1990.4 1532.3,1989.3 Q1533.1,1988.2 1533.4,1986.3 Q1533.7,1984.4 1533.7,1982.8 Q1533.6,1981.2 1534.0,1979.1 Q1534.5,1977.0 1534.5,1975.5 L1534.5,1974.0 Z" fill="url(#mg16)"/>
<path d="M1518.5,1974.0 Q1518.5,1977.0 1517.9,1978.9 Q1517.4,1980.9 1516.3,1983.0 Q1515.2,1985.0 1514.7,1986.4 Q1514.3,1987.9 1513.0,1989.2 Q1511.8,1990.5 1511.1,1991.6 Q1510.4,1992.7 1509.4,1994.0 Q1508.5,1995.3 1509.4,1997.0 Q1510.4,1998.6 1510.2,2000.0 Q1509.9,2001.3 1510.9,2003.1 Q1511.9,2004.9 1512.3,2006.0 Q1512.7,2007.2 1513.6,2008.4 Q1514.5,2009.6 1515.7,2011.1 Q1516.9,2012.6 1517.6,2013.9 Q1518.3,2015.2 1518.9,2017.1 Q1519.5,2018.9 1520.2,2020.6 Q1520.9,2022.3 1520.0,2024.6 Q1519.2,2026.9 1519.0,2029.1 Q1518.9,2031.3 1519.8,2032.8 Q1520.7,2034.3 1521.2,2035.7 Q1521.7,2037.2 1521.5,2039.1 Q1521.4,2041.0 1521.8,2042.6 Q1522.3,2044.1 1522.5,2045.6 Q1522.8,2047.1 1521.9,2048.7 Q1521.0,2050.3 1520.6,2051.8 Q1520.3,2053.4 1520.0,2054.8 Q1519.8,2056.3 1519.9,2057.7 Q1520.1,2059.1 1520.6,2060.6 Q1521.1,2062.2 1522.0,2063.6 Q1522.9,2065.1 1523.1,2066.9 Q1523.2,2068.7 1523.8,2070.1 Q1524.4,2071.4 1524.9,2072.9 Q1525.4,2074.3 1525.8,2075.9 Q1526.1,2077.6 1525.7,2079.1 Q1525.2,2080.5 1524.6,2082.1 Q1523.9,2083.6 1523.8,2085.3 Q1523.6,2086.9 1522.7,2088.4 Q1521.8,2090.0 1521.6,2091.8 Q1521.5,2093.6 1520.5,2095.1 Q1519.6,2096.6 1519.8,2098.3 Q1520.0,2100.0 1520.6,2101.5 Q1521.2,2103.0 1521.2,2105.2 L1521.2,2107.3" fill="none" stroke="#fff" stroke-width="2.1" stroke-linejoin="round"/>
<path d="M1534.5,1974.0 Q1534.5,1977.0 1534.0,1979.1 Q1533.6,1981.2 1533.7,1982.8 Q1533.7,1984.4 1533.4,1986.3 Q1533.1,1988.2 1532.3,1989.3 Q1531.5,1990.4 1529.7,1991.2 Q1527.9,1991.9 1526.5,1993.0 Q1525.1,1994.0 1524.3,1995.5 Q1523.6,1996.9 1522.6,1998.5 Q1521.6,2000.1 1521.0,2001.6 Q1520.5,2003.1 1521.6,2004.2 Q1522.8,2005.4 1523.5,2007.2 Q1524.3,2009.0 1525.0,2010.4 Q1525.7,2011.7 1526.7,2013.2 Q1527.7,2014.6 1528.6,2016.0 Q1529.5,2017.3 1530.6,2018.8 Q1531.7,2020.2 1530.5,2021.2 Q1529.2,2022.3 1528.2,2023.0 Q1527.1,2023.8 1525.8,2024.8 Q1524.5,2025.8 1524.3,2027.4 Q1524.2,2029.1 1524.6,2030.7 Q1525.0,2032.4 1525.2,2033.6 Q1525.4,2034.9 1525.4,2036.4 Q1525.4,2037.9 1526.0,2039.6 Q1526.6,2041.4 1527.9,2042.8 Q1529.1,2044.2 1529.6,2045.7 Q1530.1,2047.1 1530.4,2048.9 Q1530.7,2050.6 1531.7,2052.5 Q1532.6,2054.3 1532.9,2056.0 Q1533.2,2057.6 1533.4,2059.5 Q1533.6,2061.4 1534.5,2063.1 Q1535.4,2064.7 1536.4,2066.4 Q1537.5,2068.1 1539.2,2069.0 Q1541.0,2069.9 1542.4,2071.0 Q1543.7,2072.2 1542.8,2074.0 Q1541.8,2075.8 1541.9,2077.4 Q1541.9,2079.1 1540.5,2080.5 Q1539.1,2082.0 1537.6,2083.3 Q1536.2,2084.5 1536.2,2086.4 Q1536.3,2088.2 1536.4,2090.0 Q1536.5,2091.7 1535.9,2092.8 Q1535.3,2093.9 1533.1,2095.4 Q1530.9,2096.8 1531.3,2098.5 Q1531.7,2100.2 1531.7,2101.6 Q1531.8,2103.0 1531.8,2105.2 L1531.8,2107.3" fill="none" stroke="#fff" stroke-width="2.1" stroke-linejoin="round"/>
</g>
<rect x="1463.40" y="1975.50" width="130.00" height="130.30" fill="none" stroke="#000" stroke-width="3.0"/>
</svg>
</body>
</html>
